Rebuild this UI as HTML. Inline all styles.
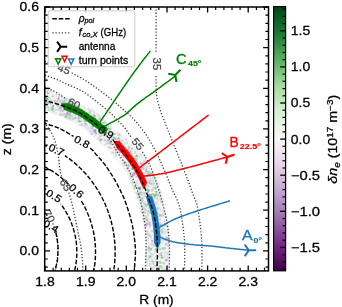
<!DOCTYPE html><html><head><meta charset="utf-8"><style>html,body{margin:0;padding:0;background:#fff;}body{width:342px;height:307px;overflow:hidden;position:relative;font-family:"Liberation Sans",sans-serif;}</style></head><body><svg width="342" height="307" viewBox="0 0 342 307" style="position:absolute;left:0;top:0;font-family:'Liberation Sans',sans-serif">
<defs><clipPath id="ax"><rect x="44.7" y="7.0" width="223.8" height="263.9"/></clipPath>
<linearGradient id="cb" x1="0" y1="1" x2="0" y2="0">
<stop offset="0.00" stop-color="#40004b"/>
<stop offset="0.10" stop-color="#762a83"/>
<stop offset="0.20" stop-color="#9970ab"/>
<stop offset="0.30" stop-color="#c2a5cf"/>
<stop offset="0.40" stop-color="#e7d4e8"/>
<stop offset="0.50" stop-color="#f7f7f7"/>
<stop offset="0.60" stop-color="#d9f0d3"/>
<stop offset="0.70" stop-color="#a6dba0"/>
<stop offset="0.80" stop-color="#5aae61"/>
<stop offset="0.90" stop-color="#1b7837"/>
<stop offset="1.00" stop-color="#00441b"/>
</linearGradient><filter id="bl" x="-5%" y="-5%" width="110%" height="110%"><feGaussianBlur stdDeviation="0.45"/></filter></defs>
<style>text{stroke-width:0.28px;stroke:#000;stroke-linejoin:round}</style>
<rect width="342" height="307" fill="#fff"/>
<g clip-path="url(#ax)">
<path d="M38.0,84.0 L38.6,84.3 L39.2,84.5 L39.8,84.7 L40.3,84.8 L40.8,85.0 L41.4,85.2 L41.9,85.4 L42.6,85.7 L43.3,86.0 L44.2,86.4 L45.1,86.8 L46.2,87.3 L47.5,87.9 L48.9,88.6 L50.5,89.5 L52.2,90.3 L54.0,91.3 L55.9,92.2 L57.7,93.2 L59.6,94.1 L61.4,95.1 L63.1,95.9 L64.7,96.8 L66.2,97.5 L67.6,98.2 L68.8,98.7 L70.0,99.3 L71.2,99.8 L72.2,100.3 L73.3,100.7 L74.4,101.2 L75.4,101.7 L76.5,102.1 L77.6,102.7 L78.8,103.2 L80.0,103.8 L81.3,104.4 L82.6,105.0 L84.0,105.7 L85.4,106.3 L86.8,106.9 L88.2,107.6 L89.6,108.3 L91.0,109.0 L92.5,109.8 L93.9,110.7 L95.3,111.5 L96.7,112.5 L98.1,113.5 L99.5,114.6 L100.8,115.8 L102.2,117.0 L103.6,118.3 L104.9,119.6 L106.3,120.9 L107.7,122.2 L109.1,123.5 L110.5,124.9 L111.9,126.2 L113.3,127.5 L114.7,128.8 L116.2,130.0 L117.6,131.3 L119.1,132.5 L120.6,133.8 L122.1,135.0 L123.5,136.3 L125.0,137.6 L126.5,139.0 L128.0,140.4 L129.5,141.8 L131.0,143.3 L132.5,144.9 L134.1,146.5 L135.7,148.2 L137.3,149.9 L138.9,151.7 L140.5,153.5 L142.1,155.2 L143.7,157.0 L145.1,158.8 L146.5,160.6 L147.8,162.3 L149.0,164.0 L150.1,165.6 L151.1,167.3 L152.0,168.9 L152.8,170.5 L153.6,172.1 L154.3,173.7 L155.0,175.3 L155.6,176.9 L156.2,178.4 L156.8,180.0 L157.4,181.5 L158.0,183.0 L158.6,184.5 L159.1,185.9 L159.7,187.4 L160.2,188.8 L160.6,190.2 L161.1,191.6 L161.5,192.9 L161.9,194.3 L162.3,195.7 L162.7,197.1 L163.1,198.6 L163.5,200.0 L163.9,201.5 L164.2,202.9 L164.5,204.4 L164.9,205.9 L165.2,207.4 L165.5,208.9 L165.7,210.4 L166.0,212.0 L166.3,213.5 L166.5,215.0 L166.8,216.5 L167.0,218.0 L167.2,219.5 L167.5,221.0 L167.7,222.5 L167.9,224.1 L168.1,225.6 L168.3,227.1 L168.5,228.6 L168.6,230.1 L168.8,231.6 L168.9,233.1 L169.1,234.6 L169.2,236.0 L169.3,237.4 L169.4,238.7 L169.5,240.0 L169.5,241.2 L169.6,242.5 L169.6,243.7 L169.7,244.9 L169.7,246.2 L169.7,247.6 L169.8,249.0 L169.8,250.4 L169.8,252.0 L169.8,253.7 L169.8,255.4 L169.8,257.3 L169.8,259.1 L169.8,261.1 L169.8,263.1 L169.7,265.1 L169.7,267.1 L169.7,269.1 L169.6,271.1 L169.6,273.1 L169.6,275.0 L145.1,275.0 L145.1,273.1 L145.1,271.1 L145.2,269.1 L145.2,267.1 L145.2,265.1 L145.2,263.1 L145.3,261.1 L145.3,259.1 L145.3,257.3 L145.3,255.4 L145.3,253.7 L145.3,252.0 L145.3,250.4 L145.3,249.0 L145.3,247.6 L145.3,246.3 L145.3,245.0 L145.2,243.8 L145.2,242.5 L145.2,241.3 L145.1,240.0 L145.0,238.8 L144.9,237.4 L144.8,236.0 L144.7,234.5 L144.5,233.0 L144.3,231.4 L144.1,229.9 L143.9,228.2 L143.7,226.6 L143.4,225.0 L143.2,223.4 L142.9,221.8 L142.6,220.1 L142.3,218.6 L142.0,217.0 L141.7,215.5 L141.3,213.9 L140.9,212.4 L140.5,210.8 L140.1,209.3 L139.7,207.8 L139.3,206.2 L138.8,204.7 L138.4,203.3 L137.9,201.8 L137.5,200.4 L137.0,199.0 L136.5,197.6 L136.1,196.3 L135.6,195.0 L135.1,193.8 L134.6,192.5 L134.1,191.3 L133.6,190.1 L133.1,188.9 L132.6,187.7 L132.1,186.5 L131.5,185.2 L131.0,184.0 L130.5,182.8 L130.0,181.5 L129.5,180.3 L129.0,179.0 L128.5,177.8 L127.9,176.6 L127.4,175.3 L126.8,174.1 L126.2,172.8 L125.5,171.6 L124.8,170.3 L124.0,169.0 L123.1,167.7 L122.2,166.3 L121.2,165.0 L120.1,163.6 L119.0,162.2 L117.9,160.8 L116.7,159.4 L115.6,158.1 L114.4,156.7 L113.2,155.4 L112.1,154.2 L111.0,153.0 L109.9,151.9 L108.8,150.8 L107.8,149.8 L106.7,148.8 L105.6,147.8 L104.6,146.8 L103.5,145.9 L102.4,145.0 L101.3,144.0 L100.2,143.0 L99.0,142.0 L97.8,141.0 L96.6,139.9 L95.3,138.8 L93.9,137.6 L92.6,136.4 L91.2,135.2 L89.8,133.9 L88.4,132.7 L87.1,131.6 L85.7,130.5 L84.4,129.4 L83.2,128.4 L82.0,127.5 L80.9,126.7 L79.8,125.9 L78.7,125.2 L77.7,124.6 L76.7,124.0 L75.8,123.5 L74.8,122.9 L73.9,122.4 L72.9,122.0 L72.0,121.5 L71.0,121.0 L70.0,120.5 L69.0,120.0 L68.0,119.5 L67.0,119.1 L66.0,118.7 L65.1,118.2 L64.1,117.8 L63.1,117.4 L62.1,117.1 L61.1,116.7 L60.1,116.3 L59.0,115.9 L58.0,115.5 L56.9,115.1 L55.8,114.7 L54.7,114.3 L53.5,113.9 L52.4,113.5 L51.2,113.1 L50.0,112.7 L48.9,112.3 L47.9,112.0 L46.8,111.6 L45.9,111.3 L45.0,111.0 L44.2,110.7 L43.5,110.5 L42.8,110.2 L42.2,110.0 L41.7,109.8 L41.1,109.6 L40.6,109.4 L40.1,109.3 L39.6,109.1 L39.1,108.9 L38.6,108.7 L38.0,108.5Z" fill="#f7f7f7" filter="url(#bl)"/>
<g filter="url(#bl)"><circle cx="162.7" cy="226.7" r="1.05" fill="#b080cc" opacity="0.20"/><circle cx="47.3" cy="99.0" r="1.01" fill="#2aa048" opacity="0.62"/><circle cx="158.8" cy="243.5" r="0.93" fill="#b080cc" opacity="0.21"/><circle cx="130.4" cy="163.6" r="1.48" fill="#6cc878" opacity="0.13"/><circle cx="162.0" cy="257.6" r="1.32" fill="#2aa048" opacity="0.51"/><circle cx="93.3" cy="110.1" r="1.45" fill="#b080cc" opacity="0.04"/><circle cx="154.7" cy="251.6" r="0.87" fill="#6cc878" opacity="0.33"/><circle cx="68.7" cy="116.6" r="1.04" fill="#b080cc" opacity="0.18"/><circle cx="148.9" cy="261.6" r="1.08" fill="#6cc878" opacity="0.11"/><circle cx="162.3" cy="213.3" r="0.92" fill="#6cc878" opacity="0.18"/><circle cx="135.0" cy="162.1" r="1.30" fill="#6cc878" opacity="0.23"/><circle cx="133.2" cy="175.1" r="1.38" fill="#9050b8" opacity="0.50"/><circle cx="129.6" cy="182.1" r="0.74" fill="#6cc878" opacity="0.05"/><circle cx="65.3" cy="105.5" r="1.39" fill="#b080cc" opacity="0.34"/><circle cx="131.1" cy="153.9" r="1.27" fill="#6cc878" opacity="0.27"/><circle cx="58.9" cy="98.1" r="1.24" fill="#b080cc" opacity="0.26"/><circle cx="143.4" cy="187.9" r="1.14" fill="#6cc878" opacity="0.17"/><circle cx="105.7" cy="126.7" r="1.13" fill="#6cc878" opacity="0.32"/><circle cx="155.3" cy="207.1" r="1.29" fill="#6cc878" opacity="0.29"/><circle cx="157.3" cy="218.2" r="0.98" fill="#6cc878" opacity="0.17"/><circle cx="151.7" cy="206.7" r="1.15" fill="#b080cc" opacity="0.25"/><circle cx="94.9" cy="131.4" r="1.35" fill="#b080cc" opacity="0.37"/><circle cx="163.9" cy="263.6" r="1.16" fill="#b080cc" opacity="0.16"/><circle cx="161.7" cy="229.5" r="1.05" fill="#6cc878" opacity="0.40"/><circle cx="153.2" cy="254.4" r="1.02" fill="#b080cc" opacity="0.19"/><circle cx="104.1" cy="137.4" r="0.90" fill="#6cc878" opacity="0.22"/><circle cx="161.5" cy="232.1" r="1.45" fill="#6cc878" opacity="0.23"/><circle cx="64.2" cy="99.2" r="1.50" fill="#6cc878" opacity="0.11"/><circle cx="43.2" cy="98.7" r="0.84" fill="#b080cc" opacity="0.23"/><circle cx="58.4" cy="110.3" r="0.75" fill="#b080cc" opacity="0.15"/><circle cx="49.9" cy="110.1" r="0.91" fill="#b080cc" opacity="0.17"/><circle cx="109.5" cy="143.4" r="1.10" fill="#6cc878" opacity="0.16"/><circle cx="40.9" cy="97.3" r="1.15" fill="#2aa048" opacity="0.56"/><circle cx="143.7" cy="222.4" r="1.25" fill="#6cc878" opacity="0.04"/><circle cx="66.8" cy="112.8" r="1.15" fill="#b080cc" opacity="0.26"/><circle cx="135.2" cy="173.3" r="1.33" fill="#b080cc" opacity="0.36"/><circle cx="154.5" cy="174.6" r="1.21" fill="#6cc878" opacity="0.04"/><circle cx="126.1" cy="151.1" r="1.39" fill="#b080cc" opacity="0.48"/><circle cx="146.2" cy="246.9" r="1.02" fill="#6cc878" opacity="0.05"/><circle cx="163.0" cy="241.6" r="1.09" fill="#b080cc" opacity="0.16"/><circle cx="109.5" cy="143.2" r="1.05" fill="#6cc878" opacity="0.34"/><circle cx="146.5" cy="193.1" r="1.13" fill="#b080cc" opacity="0.34"/><circle cx="91.6" cy="124.9" r="1.20" fill="#6cc878" opacity="0.15"/><circle cx="61.3" cy="115.1" r="1.29" fill="#6cc878" opacity="0.17"/><circle cx="80.4" cy="118.9" r="1.16" fill="#6cc878" opacity="0.17"/><circle cx="116.0" cy="150.4" r="1.44" fill="#b080cc" opacity="0.16"/><circle cx="166.3" cy="254.1" r="0.89" fill="#b080cc" opacity="0.18"/><circle cx="70.1" cy="104.2" r="1.36" fill="#6cc878" opacity="0.46"/><circle cx="132.9" cy="182.7" r="1.43" fill="#6cc878" opacity="0.16"/><circle cx="71.2" cy="111.1" r="1.10" fill="#6cc878" opacity="0.27"/><circle cx="67.9" cy="118.0" r="0.81" fill="#6cc878" opacity="0.21"/><circle cx="166.7" cy="253.4" r="1.01" fill="#b080cc" opacity="0.13"/><circle cx="145.7" cy="220.5" r="1.39" fill="#6cc878" opacity="0.30"/><circle cx="131.6" cy="159.1" r="1.29" fill="#6cc878" opacity="0.17"/><circle cx="78.5" cy="109.1" r="1.25" fill="#b080cc" opacity="0.13"/><circle cx="128.1" cy="173.0" r="0.96" fill="#6cc878" opacity="0.11"/><circle cx="158.5" cy="235.9" r="0.74" fill="#b080cc" opacity="0.27"/><circle cx="114.4" cy="155.7" r="1.06" fill="#6cc878" opacity="0.06"/><circle cx="102.2" cy="134.5" r="1.19" fill="#6cc878" opacity="0.24"/><circle cx="161.0" cy="192.2" r="0.88" fill="#b080cc" opacity="0.08"/><circle cx="106.2" cy="122.9" r="1.28" fill="#b080cc" opacity="0.05"/><circle cx="144.7" cy="191.9" r="0.96" fill="#6cc878" opacity="0.20"/><circle cx="75.7" cy="108.1" r="0.98" fill="#b080cc" opacity="0.24"/><circle cx="52.1" cy="110.0" r="1.31" fill="#b080cc" opacity="0.30"/><circle cx="102.5" cy="129.5" r="1.47" fill="#6cc878" opacity="0.30"/><circle cx="120.6" cy="164.4" r="1.17" fill="#b080cc" opacity="0.06"/><circle cx="152.1" cy="209.5" r="0.84" fill="#6cc878" opacity="0.36"/><circle cx="66.6" cy="116.6" r="0.94" fill="#6cc878" opacity="0.29"/><circle cx="104.7" cy="121.7" r="1.46" fill="#b080cc" opacity="0.20"/><circle cx="52.3" cy="108.2" r="1.33" fill="#6cc878" opacity="0.43"/><circle cx="64.9" cy="108.8" r="0.77" fill="#b080cc" opacity="0.18"/><circle cx="160.1" cy="190.9" r="1.29" fill="#b080cc" opacity="0.07"/><circle cx="108.2" cy="133.2" r="0.82" fill="#b080cc" opacity="0.22"/><circle cx="90.6" cy="113.2" r="1.48" fill="#b080cc" opacity="0.20"/><circle cx="154.5" cy="187.3" r="0.98" fill="#6cc878" opacity="0.37"/><circle cx="155.6" cy="245.8" r="0.75" fill="#6cc878" opacity="0.24"/><circle cx="151.4" cy="174.0" r="1.06" fill="#9050b8" opacity="0.35"/><circle cx="45.3" cy="91.6" r="0.97" fill="#6cc878" opacity="0.25"/><circle cx="148.1" cy="175.1" r="1.11" fill="#6cc878" opacity="0.14"/><circle cx="114.9" cy="138.4" r="1.42" fill="#b080cc" opacity="0.40"/><circle cx="168.3" cy="240.5" r="1.15" fill="#b080cc" opacity="0.12"/><circle cx="167.9" cy="258.8" r="1.33" fill="#b080cc" opacity="0.20"/><circle cx="49.3" cy="93.0" r="1.10" fill="#b080cc" opacity="0.12"/><circle cx="39.3" cy="102.1" r="1.26" fill="#b080cc" opacity="0.23"/><circle cx="143.0" cy="162.1" r="0.74" fill="#6cc878" opacity="0.26"/><circle cx="97.4" cy="127.6" r="1.22" fill="#b080cc" opacity="0.15"/><circle cx="105.1" cy="133.9" r="1.31" fill="#9050b8" opacity="0.59"/><circle cx="55.0" cy="101.0" r="1.12" fill="#b080cc" opacity="0.44"/><circle cx="146.3" cy="163.1" r="0.79" fill="#b080cc" opacity="0.25"/><circle cx="62.5" cy="109.7" r="1.01" fill="#b080cc" opacity="0.19"/><circle cx="86.7" cy="124.1" r="0.74" fill="#6cc878" opacity="0.39"/><circle cx="112.9" cy="133.2" r="0.75" fill="#b080cc" opacity="0.35"/><circle cx="141.8" cy="205.8" r="1.39" fill="#6cc878" opacity="0.14"/><circle cx="113.7" cy="131.9" r="1.12" fill="#b080cc" opacity="0.16"/><circle cx="89.7" cy="127.5" r="0.91" fill="#6cc878" opacity="0.12"/><circle cx="82.2" cy="106.1" r="1.08" fill="#b080cc" opacity="0.06"/><circle cx="142.5" cy="201.9" r="1.11" fill="#6cc878" opacity="0.37"/><circle cx="35.1" cy="105.8" r="1.22" fill="#b080cc" opacity="0.09"/><circle cx="168.8" cy="243.2" r="1.12" fill="#6cc878" opacity="0.04"/><circle cx="41.5" cy="105.2" r="1.38" fill="#b080cc" opacity="0.38"/><circle cx="61.1" cy="107.7" r="0.86" fill="#b080cc" opacity="0.16"/><circle cx="157.7" cy="229.7" r="0.79" fill="#b080cc" opacity="0.47"/><circle cx="116.3" cy="154.3" r="1.08" fill="#b080cc" opacity="0.10"/><circle cx="150.2" cy="224.9" r="1.27" fill="#b080cc" opacity="0.33"/><circle cx="135.6" cy="171.9" r="0.93" fill="#6cc878" opacity="0.17"/><circle cx="142.3" cy="159.5" r="0.97" fill="#6cc878" opacity="0.19"/><circle cx="147.1" cy="210.8" r="1.22" fill="#b080cc" opacity="0.21"/><circle cx="149.9" cy="271.6" r="1.38" fill="#b080cc" opacity="0.24"/><circle cx="143.4" cy="179.0" r="1.08" fill="#6cc878" opacity="0.27"/><circle cx="98.7" cy="119.0" r="1.04" fill="#6cc878" opacity="0.11"/><circle cx="39.2" cy="97.5" r="1.23" fill="#b080cc" opacity="0.19"/><circle cx="117.8" cy="138.9" r="0.87" fill="#b080cc" opacity="0.17"/><circle cx="133.7" cy="168.4" r="0.93" fill="#6cc878" opacity="0.46"/><circle cx="89.5" cy="111.7" r="1.40" fill="#b080cc" opacity="0.24"/><circle cx="107.1" cy="123.6" r="1.11" fill="#b080cc" opacity="0.03"/><circle cx="61.9" cy="98.0" r="0.96" fill="#b080cc" opacity="0.21"/><circle cx="151.7" cy="174.7" r="1.50" fill="#b080cc" opacity="0.18"/><circle cx="47.6" cy="108.5" r="1.05" fill="#6cc878" opacity="0.16"/><circle cx="165.4" cy="259.6" r="1.44" fill="#b080cc" opacity="0.18"/><circle cx="70.7" cy="109.2" r="0.85" fill="#b080cc" opacity="0.30"/><circle cx="116.9" cy="145.3" r="0.77" fill="#6cc878" opacity="0.33"/><circle cx="79.2" cy="113.6" r="1.48" fill="#b080cc" opacity="0.20"/><circle cx="60.8" cy="102.0" r="1.22" fill="#b080cc" opacity="0.30"/><circle cx="146.5" cy="264.1" r="1.00" fill="#6cc878" opacity="0.08"/><circle cx="167.4" cy="258.9" r="1.18" fill="#6cc878" opacity="0.24"/><circle cx="156.8" cy="251.3" r="1.18" fill="#b080cc" opacity="0.17"/><circle cx="156.9" cy="185.6" r="1.03" fill="#6cc878" opacity="0.14"/><circle cx="127.1" cy="161.7" r="0.81" fill="#b080cc" opacity="0.14"/><circle cx="137.2" cy="181.0" r="1.19" fill="#6cc878" opacity="0.20"/><circle cx="152.4" cy="191.0" r="1.21" fill="#6cc878" opacity="0.17"/><circle cx="101.6" cy="136.7" r="0.96" fill="#b080cc" opacity="0.13"/><circle cx="150.2" cy="256.5" r="1.22" fill="#2aa048" opacity="0.52"/><circle cx="145.5" cy="225.9" r="1.01" fill="#6cc878" opacity="0.07"/><circle cx="106.5" cy="133.0" r="1.40" fill="#b080cc" opacity="0.27"/><circle cx="140.0" cy="162.2" r="0.74" fill="#b080cc" opacity="0.23"/><circle cx="163.1" cy="215.4" r="1.20" fill="#6cc878" opacity="0.17"/><circle cx="48.1" cy="89.5" r="1.27" fill="#6cc878" opacity="0.21"/><circle cx="168.6" cy="240.3" r="1.34" fill="#b080cc" opacity="0.02"/><circle cx="145.5" cy="217.6" r="0.90" fill="#6cc878" opacity="0.17"/><circle cx="38.7" cy="99.6" r="1.47" fill="#6cc878" opacity="0.14"/><circle cx="98.3" cy="120.6" r="1.17" fill="#b080cc" opacity="0.25"/><circle cx="109.4" cy="137.0" r="0.76" fill="#b080cc" opacity="0.17"/><circle cx="149.6" cy="174.4" r="1.12" fill="#6cc878" opacity="0.22"/><circle cx="85.3" cy="120.9" r="0.75" fill="#6cc878" opacity="0.38"/><circle cx="92.4" cy="124.4" r="1.35" fill="#6cc878" opacity="0.17"/><circle cx="147.5" cy="204.0" r="0.98" fill="#b080cc" opacity="0.50"/><circle cx="157.9" cy="238.0" r="0.73" fill="#6cc878" opacity="0.18"/><circle cx="116.0" cy="139.0" r="1.18" fill="#6cc878" opacity="0.31"/><circle cx="64.2" cy="104.3" r="1.13" fill="#b080cc" opacity="0.31"/><circle cx="39.8" cy="98.2" r="0.79" fill="#6cc878" opacity="0.14"/><circle cx="61.4" cy="100.4" r="1.08" fill="#6cc878" opacity="0.21"/><circle cx="43.7" cy="109.0" r="1.04" fill="#b080cc" opacity="0.10"/><circle cx="158.1" cy="247.4" r="1.48" fill="#6cc878" opacity="0.43"/><circle cx="87.8" cy="120.8" r="1.01" fill="#9050b8" opacity="0.51"/><circle cx="133.3" cy="187.8" r="1.04" fill="#6cc878" opacity="0.19"/><circle cx="80.9" cy="111.8" r="1.38" fill="#6cc878" opacity="0.21"/><circle cx="41.2" cy="90.3" r="0.79" fill="#6cc878" opacity="0.22"/><circle cx="158.4" cy="236.4" r="1.31" fill="#b080cc" opacity="0.30"/><circle cx="131.4" cy="148.8" r="0.71" fill="#9050b8" opacity="0.51"/><circle cx="104.0" cy="147.0" r="1.07" fill="#b080cc" opacity="0.00"/><circle cx="147.8" cy="235.3" r="1.49" fill="#6cc878" opacity="0.11"/><circle cx="97.7" cy="122.4" r="1.29" fill="#b080cc" opacity="0.24"/><circle cx="108.9" cy="129.4" r="1.38" fill="#6cc878" opacity="0.38"/><circle cx="158.1" cy="243.2" r="1.45" fill="#b080cc" opacity="0.16"/><circle cx="156.2" cy="195.3" r="0.76" fill="#6cc878" opacity="0.16"/><circle cx="168.4" cy="238.4" r="1.29" fill="#b080cc" opacity="0.17"/><circle cx="47.1" cy="110.7" r="1.46" fill="#6cc878" opacity="0.08"/><circle cx="137.2" cy="176.2" r="1.18" fill="#6cc878" opacity="0.24"/><circle cx="151.0" cy="249.6" r="1.00" fill="#b080cc" opacity="0.39"/><circle cx="132.4" cy="147.5" r="0.72" fill="#6cc878" opacity="0.34"/><circle cx="164.3" cy="247.8" r="1.03" fill="#b080cc" opacity="0.27"/><circle cx="86.3" cy="124.4" r="1.48" fill="#6cc878" opacity="0.15"/><circle cx="142.9" cy="213.3" r="1.22" fill="#6cc878" opacity="0.11"/><circle cx="128.3" cy="149.7" r="1.24" fill="#6cc878" opacity="0.31"/><circle cx="116.9" cy="152.1" r="0.83" fill="#b080cc" opacity="0.17"/><circle cx="160.5" cy="201.2" r="1.12" fill="#6cc878" opacity="0.32"/><circle cx="92.9" cy="124.5" r="1.15" fill="#b080cc" opacity="0.16"/><circle cx="166.2" cy="244.0" r="1.19" fill="#b080cc" opacity="0.24"/><circle cx="43.9" cy="98.9" r="1.25" fill="#b080cc" opacity="0.22"/><circle cx="132.5" cy="168.1" r="1.44" fill="#b080cc" opacity="0.16"/><circle cx="157.9" cy="195.1" r="0.95" fill="#6cc878" opacity="0.27"/><circle cx="113.9" cy="153.4" r="1.29" fill="#6cc878" opacity="0.15"/><circle cx="159.8" cy="262.3" r="1.33" fill="#6cc878" opacity="0.31"/><circle cx="146.0" cy="179.8" r="0.86" fill="#b080cc" opacity="0.30"/><circle cx="41.0" cy="90.2" r="1.01" fill="#b080cc" opacity="0.14"/><circle cx="72.7" cy="121.2" r="0.95" fill="#6cc878" opacity="0.08"/><circle cx="74.5" cy="102.0" r="1.28" fill="#b080cc" opacity="0.13"/><circle cx="165.6" cy="212.8" r="1.15" fill="#b080cc" opacity="0.08"/><circle cx="87.8" cy="109.3" r="1.20" fill="#b080cc" opacity="0.15"/><circle cx="80.0" cy="108.3" r="1.13" fill="#6cc878" opacity="0.16"/><circle cx="122.8" cy="153.6" r="1.31" fill="#6cc878" opacity="0.22"/><circle cx="63.6" cy="101.7" r="1.45" fill="#6cc878" opacity="0.18"/><circle cx="50.8" cy="113.7" r="1.18" fill="#6cc878" opacity="0.01"/><circle cx="139.7" cy="179.5" r="1.06" fill="#b080cc" opacity="0.40"/><circle cx="115.1" cy="156.8" r="1.45" fill="#6cc878" opacity="0.07"/><circle cx="150.5" cy="249.7" r="0.99" fill="#b080cc" opacity="0.30"/><circle cx="96.9" cy="124.5" r="1.45" fill="#b080cc" opacity="0.43"/><circle cx="41.4" cy="101.3" r="1.13" fill="#6cc878" opacity="0.13"/><circle cx="83.8" cy="119.3" r="0.77" fill="#6cc878" opacity="0.34"/><circle cx="158.8" cy="256.5" r="1.14" fill="#6cc878" opacity="0.38"/><circle cx="48.0" cy="102.8" r="1.30" fill="#6cc878" opacity="0.34"/><circle cx="100.0" cy="118.8" r="1.18" fill="#b080cc" opacity="0.32"/><circle cx="161.6" cy="239.0" r="1.06" fill="#6cc878" opacity="0.13"/><circle cx="149.2" cy="234.8" r="1.25" fill="#b080cc" opacity="0.30"/><circle cx="43.9" cy="96.9" r="0.90" fill="#6cc878" opacity="0.26"/><circle cx="160.6" cy="257.7" r="0.85" fill="#6cc878" opacity="0.33"/><circle cx="66.3" cy="98.7" r="1.45" fill="#6cc878" opacity="0.09"/><circle cx="85.1" cy="123.9" r="1.11" fill="#b080cc" opacity="0.39"/><circle cx="95.3" cy="115.8" r="0.87" fill="#6cc878" opacity="0.33"/><circle cx="73.0" cy="111.4" r="1.13" fill="#6cc878" opacity="0.42"/><circle cx="36.2" cy="102.4" r="1.12" fill="#6cc878" opacity="0.22"/><circle cx="110.7" cy="153.7" r="1.45" fill="#6cc878" opacity="0.01"/><circle cx="128.9" cy="179.3" r="1.32" fill="#6cc878" opacity="0.06"/><circle cx="143.1" cy="168.5" r="1.44" fill="#b080cc" opacity="0.30"/><circle cx="71.9" cy="110.6" r="0.85" fill="#2aa048" opacity="0.54"/><circle cx="165.9" cy="216.7" r="1.31" fill="#b080cc" opacity="0.06"/><circle cx="149.4" cy="175.1" r="1.46" fill="#b080cc" opacity="0.31"/><circle cx="163.2" cy="215.2" r="1.33" fill="#b080cc" opacity="0.09"/><circle cx="94.0" cy="112.9" r="0.85" fill="#b080cc" opacity="0.16"/><circle cx="137.6" cy="193.5" r="1.39" fill="#6cc878" opacity="0.32"/><circle cx="168.3" cy="257.1" r="0.86" fill="#6cc878" opacity="0.11"/><circle cx="58.7" cy="103.3" r="1.13" fill="#6cc878" opacity="0.28"/><circle cx="151.3" cy="258.1" r="0.97" fill="#6cc878" opacity="0.19"/><circle cx="118.2" cy="132.5" r="1.27" fill="#b080cc" opacity="0.07"/><circle cx="75.5" cy="106.5" r="1.48" fill="#6cc878" opacity="0.32"/><circle cx="36.3" cy="108.4" r="1.38" fill="#b080cc" opacity="0.06"/><circle cx="76.5" cy="118.1" r="1.21" fill="#b080cc" opacity="0.24"/><circle cx="155.7" cy="250.9" r="0.72" fill="#6cc878" opacity="0.13"/><circle cx="69.8" cy="118.2" r="1.22" fill="#b080cc" opacity="0.12"/><circle cx="71.0" cy="107.2" r="0.77" fill="#b080cc" opacity="0.25"/><circle cx="42.4" cy="87.5" r="0.96" fill="#b080cc" opacity="0.23"/><circle cx="124.8" cy="161.9" r="1.21" fill="#b080cc" opacity="0.22"/><circle cx="42.8" cy="100.0" r="0.88" fill="#b080cc" opacity="0.26"/><circle cx="128.9" cy="179.6" r="0.89" fill="#b080cc" opacity="0.02"/><circle cx="119.6" cy="151.5" r="1.40" fill="#6cc878" opacity="0.28"/><circle cx="112.6" cy="152.4" r="1.25" fill="#b080cc" opacity="0.24"/><circle cx="69.4" cy="119.2" r="1.44" fill="#b080cc" opacity="0.12"/><circle cx="82.0" cy="124.9" r="1.43" fill="#b080cc" opacity="0.26"/><circle cx="42.4" cy="88.1" r="1.37" fill="#6cc878" opacity="0.24"/><circle cx="147.0" cy="242.5" r="1.23" fill="#6cc878" opacity="0.05"/><circle cx="37.3" cy="108.3" r="0.91" fill="#b080cc" opacity="0.08"/><circle cx="116.1" cy="137.8" r="1.06" fill="#6cc878" opacity="0.18"/><circle cx="148.8" cy="257.8" r="1.47" fill="#b080cc" opacity="0.08"/><circle cx="157.2" cy="244.8" r="0.76" fill="#b080cc" opacity="0.36"/><circle cx="50.7" cy="90.5" r="1.27" fill="#b080cc" opacity="0.08"/><circle cx="61.4" cy="96.4" r="1.33" fill="#b080cc" opacity="0.08"/><circle cx="143.4" cy="213.4" r="1.31" fill="#b080cc" opacity="0.08"/><circle cx="69.8" cy="99.4" r="1.02" fill="#6cc878" opacity="0.01"/><circle cx="109.2" cy="129.3" r="1.46" fill="#b080cc" opacity="0.18"/><circle cx="47.8" cy="102.9" r="1.35" fill="#6cc878" opacity="0.32"/><circle cx="150.8" cy="183.4" r="1.42" fill="#b080cc" opacity="0.18"/><circle cx="90.7" cy="127.0" r="0.98" fill="#b080cc" opacity="0.16"/><circle cx="131.9" cy="143.3" r="0.90" fill="#6cc878" opacity="0.07"/><circle cx="153.0" cy="174.9" r="1.34" fill="#6cc878" opacity="0.12"/><circle cx="161.5" cy="268.6" r="0.79" fill="#6cc878" opacity="0.18"/><circle cx="91.1" cy="109.4" r="1.35" fill="#9050b8" opacity="0.06"/><circle cx="85.0" cy="119.0" r="1.32" fill="#b080cc" opacity="0.38"/><circle cx="166.8" cy="260.6" r="0.94" fill="#b080cc" opacity="0.18"/><circle cx="147.5" cy="233.9" r="0.83" fill="#b080cc" opacity="0.16"/><circle cx="60.3" cy="104.4" r="0.82" fill="#b080cc" opacity="0.15"/><circle cx="95.7" cy="132.2" r="1.26" fill="#b080cc" opacity="0.28"/><circle cx="43.5" cy="92.4" r="1.35" fill="#b080cc" opacity="0.29"/><circle cx="66.6" cy="103.1" r="1.37" fill="#6cc878" opacity="0.43"/><circle cx="166.8" cy="232.4" r="1.18" fill="#b080cc" opacity="0.17"/><circle cx="133.0" cy="172.5" r="1.33" fill="#6cc878" opacity="0.21"/><circle cx="153.3" cy="263.9" r="1.14" fill="#6cc878" opacity="0.33"/><circle cx="63.8" cy="109.0" r="0.71" fill="#b080cc" opacity="0.36"/><circle cx="99.3" cy="131.9" r="1.35" fill="#b080cc" opacity="0.30"/><circle cx="160.6" cy="238.1" r="1.36" fill="#b080cc" opacity="0.13"/><circle cx="141.4" cy="199.4" r="0.93" fill="#b080cc" opacity="0.39"/><circle cx="128.4" cy="149.8" r="0.96" fill="#b080cc" opacity="0.22"/><circle cx="63.2" cy="114.6" r="0.78" fill="#6cc878" opacity="0.32"/><circle cx="165.7" cy="248.0" r="1.18" fill="#b080cc" opacity="0.11"/><circle cx="104.5" cy="144.2" r="1.30" fill="#6cc878" opacity="0.08"/><circle cx="66.9" cy="110.0" r="0.71" fill="#6cc878" opacity="0.35"/><circle cx="147.4" cy="220.7" r="0.82" fill="#9050b8" opacity="0.51"/><circle cx="141.7" cy="212.5" r="1.42" fill="#b080cc" opacity="0.13"/><circle cx="132.6" cy="145.0" r="1.30" fill="#6cc878" opacity="0.07"/><circle cx="155.8" cy="268.7" r="1.38" fill="#6cc878" opacity="0.15"/><circle cx="91.8" cy="123.1" r="0.99" fill="#6cc878" opacity="0.17"/><circle cx="158.6" cy="205.7" r="0.84" fill="#6cc878" opacity="0.15"/><circle cx="72.4" cy="101.1" r="0.75" fill="#6cc878" opacity="0.19"/><circle cx="92.6" cy="130.9" r="1.47" fill="#6cc878" opacity="0.17"/><circle cx="84.8" cy="113.3" r="1.37" fill="#2aa048" opacity="0.51"/><circle cx="149.1" cy="246.6" r="1.07" fill="#6cc878" opacity="0.17"/><circle cx="137.2" cy="159.0" r="1.10" fill="#b080cc" opacity="0.37"/><circle cx="95.1" cy="135.7" r="0.94" fill="#b080cc" opacity="0.18"/><circle cx="98.6" cy="134.4" r="0.72" fill="#b080cc" opacity="0.21"/><circle cx="159.6" cy="266.3" r="1.10" fill="#b080cc" opacity="0.28"/><circle cx="143.4" cy="227.1" r="0.93" fill="#b080cc" opacity="0.02"/><circle cx="115.8" cy="152.5" r="1.06" fill="#b080cc" opacity="0.18"/><circle cx="135.5" cy="168.1" r="0.77" fill="#6cc878" opacity="0.18"/><circle cx="71.4" cy="109.2" r="1.45" fill="#6cc878" opacity="0.17"/><circle cx="139.0" cy="195.7" r="0.88" fill="#6cc878" opacity="0.36"/><circle cx="131.9" cy="185.0" r="1.40" fill="#6cc878" opacity="0.06"/><circle cx="158.5" cy="194.4" r="0.86" fill="#b080cc" opacity="0.21"/><circle cx="169.3" cy="251.9" r="0.85" fill="#6cc878" opacity="0.07"/><circle cx="156.4" cy="266.0" r="1.18" fill="#6cc878" opacity="0.28"/><circle cx="47.4" cy="93.8" r="0.78" fill="#6cc878" opacity="0.40"/><circle cx="41.1" cy="92.8" r="0.82" fill="#6cc878" opacity="0.50"/><circle cx="148.4" cy="240.3" r="1.14" fill="#b080cc" opacity="0.18"/><circle cx="94.7" cy="111.7" r="1.05" fill="#6cc878" opacity="0.04"/><circle cx="162.5" cy="248.5" r="0.81" fill="#6cc878" opacity="0.41"/><circle cx="167.4" cy="233.4" r="0.77" fill="#b080cc" opacity="0.02"/><circle cx="108.2" cy="125.7" r="0.85" fill="#6cc878" opacity="0.12"/><circle cx="145.5" cy="234.2" r="1.21" fill="#2aa048" opacity="0.11"/><circle cx="118.8" cy="138.1" r="0.78" fill="#b080cc" opacity="0.49"/><circle cx="65.5" cy="115.5" r="0.74" fill="#6cc878" opacity="0.19"/><circle cx="135.0" cy="173.9" r="0.80" fill="#6cc878" opacity="0.43"/><circle cx="139.6" cy="210.1" r="1.31" fill="#6cc878" opacity="0.02"/><circle cx="40.4" cy="98.6" r="0.99" fill="#6cc878" opacity="0.31"/><circle cx="95.2" cy="133.0" r="1.32" fill="#b080cc" opacity="0.27"/><circle cx="63.0" cy="110.9" r="1.31" fill="#b080cc" opacity="0.40"/><circle cx="130.7" cy="184.3" r="0.83" fill="#b080cc" opacity="0.03"/><circle cx="42.7" cy="93.0" r="1.16" fill="#b080cc" opacity="0.17"/><circle cx="141.0" cy="163.1" r="1.15" fill="#b080cc" opacity="0.21"/><circle cx="146.6" cy="235.4" r="1.20" fill="#b080cc" opacity="0.07"/><circle cx="115.8" cy="143.8" r="1.20" fill="#6cc878" opacity="0.15"/><circle cx="109.7" cy="127.6" r="1.50" fill="#b080cc" opacity="0.12"/><circle cx="160.0" cy="262.5" r="1.36" fill="#6cc878" opacity="0.23"/><circle cx="161.0" cy="195.5" r="0.74" fill="#b080cc" opacity="0.19"/><circle cx="75.6" cy="103.1" r="1.49" fill="#b080cc" opacity="0.11"/><circle cx="60.1" cy="115.4" r="1.01" fill="#6cc878" opacity="0.15"/><circle cx="152.1" cy="184.3" r="1.49" fill="#b080cc" opacity="0.26"/><circle cx="128.1" cy="168.7" r="1.35" fill="#b080cc" opacity="0.19"/><circle cx="164.4" cy="205.1" r="1.06" fill="#b080cc" opacity="0.05"/><circle cx="156.4" cy="186.9" r="1.29" fill="#b080cc" opacity="0.28"/><circle cx="66.7" cy="108.8" r="1.20" fill="#b080cc" opacity="0.43"/><circle cx="141.5" cy="179.4" r="1.28" fill="#b080cc" opacity="0.47"/><circle cx="167.6" cy="253.8" r="1.23" fill="#b080cc" opacity="0.26"/><circle cx="44.3" cy="90.3" r="1.36" fill="#6cc878" opacity="0.15"/><circle cx="107.6" cy="142.7" r="1.11" fill="#b080cc" opacity="0.16"/><circle cx="36.9" cy="107.5" r="0.86" fill="#2aa048" opacity="0.28"/><circle cx="38.5" cy="103.3" r="1.21" fill="#6cc878" opacity="0.15"/><circle cx="147.7" cy="224.0" r="1.42" fill="#b080cc" opacity="0.28"/><circle cx="162.8" cy="247.5" r="0.89" fill="#b080cc" opacity="0.20"/><circle cx="145.3" cy="218.5" r="1.40" fill="#b080cc" opacity="0.12"/><circle cx="152.4" cy="242.9" r="1.08" fill="#b080cc" opacity="0.15"/><circle cx="42.4" cy="86.3" r="1.21" fill="#b080cc" opacity="0.07"/><circle cx="47.4" cy="88.4" r="1.35" fill="#b080cc" opacity="0.09"/><circle cx="102.7" cy="131.9" r="0.86" fill="#6cc878" opacity="0.34"/><circle cx="126.1" cy="164.4" r="1.33" fill="#6cc878" opacity="0.27"/><circle cx="132.2" cy="159.7" r="0.91" fill="#6cc878" opacity="0.38"/><circle cx="147.8" cy="195.5" r="0.80" fill="#6cc878" opacity="0.37"/><circle cx="111.6" cy="153.2" r="1.21" fill="#6cc878" opacity="0.07"/><circle cx="145.1" cy="246.0" r="0.76" fill="#6cc878" opacity="0.03"/><circle cx="149.7" cy="168.5" r="0.98" fill="#6cc878" opacity="0.13"/><circle cx="142.7" cy="156.8" r="0.95" fill="#b080cc" opacity="0.07"/><circle cx="89.2" cy="118.7" r="0.82" fill="#b080cc" opacity="0.14"/><circle cx="150.6" cy="195.4" r="1.32" fill="#2aa048" opacity="0.53"/><circle cx="145.9" cy="215.7" r="0.79" fill="#b080cc" opacity="0.37"/><circle cx="168.2" cy="231.5" r="1.15" fill="#6cc878" opacity="0.14"/><circle cx="64.9" cy="109.2" r="0.99" fill="#b080cc" opacity="0.34"/><circle cx="80.6" cy="112.7" r="0.71" fill="#6cc878" opacity="0.30"/><circle cx="148.3" cy="204.0" r="1.44" fill="#b080cc" opacity="0.46"/><circle cx="83.5" cy="120.1" r="0.76" fill="#6cc878" opacity="0.31"/><circle cx="65.6" cy="116.8" r="1.11" fill="#6cc878" opacity="0.21"/><circle cx="61.2" cy="95.0" r="1.06" fill="#6cc878" opacity="0.09"/><circle cx="93.6" cy="110.6" r="0.84" fill="#b080cc" opacity="0.04"/><circle cx="141.7" cy="173.3" r="1.44" fill="#2aa048" opacity="0.62"/><circle cx="90.3" cy="124.3" r="1.09" fill="#6cc878" opacity="0.16"/><circle cx="134.0" cy="189.9" r="0.84" fill="#6cc878" opacity="0.09"/><circle cx="142.2" cy="179.1" r="0.76" fill="#6cc878" opacity="0.31"/><circle cx="81.8" cy="124.7" r="1.15" fill="#b080cc" opacity="0.09"/><circle cx="148.5" cy="211.2" r="1.07" fill="#b080cc" opacity="0.40"/><circle cx="116.2" cy="152.5" r="1.00" fill="#b080cc" opacity="0.28"/><circle cx="94.3" cy="111.5" r="1.44" fill="#6cc878" opacity="0.13"/><circle cx="108.9" cy="147.3" r="1.48" fill="#6cc878" opacity="0.36"/><circle cx="156.3" cy="185.9" r="0.76" fill="#b080cc" opacity="0.10"/><circle cx="96.1" cy="118.6" r="0.71" fill="#b080cc" opacity="0.19"/><circle cx="134.5" cy="185.8" r="0.88" fill="#6cc878" opacity="0.10"/><circle cx="162.6" cy="249.3" r="0.75" fill="#b080cc" opacity="0.27"/><circle cx="93.6" cy="122.2" r="0.90" fill="#2aa048" opacity="0.53"/><circle cx="55.8" cy="109.9" r="1.19" fill="#6cc878" opacity="0.27"/><circle cx="48.3" cy="108.5" r="0.73" fill="#6cc878" opacity="0.15"/><circle cx="142.9" cy="207.9" r="1.47" fill="#6cc878" opacity="0.31"/><circle cx="86.0" cy="127.7" r="1.00" fill="#6cc878" opacity="0.19"/><circle cx="41.3" cy="98.3" r="0.96" fill="#6cc878" opacity="0.14"/><circle cx="66.0" cy="98.7" r="0.77" fill="#b080cc" opacity="0.05"/><circle cx="136.5" cy="160.0" r="1.04" fill="#b080cc" opacity="0.25"/><circle cx="144.8" cy="156.2" r="0.92" fill="#9050b8" opacity="0.16"/><circle cx="108.2" cy="134.9" r="0.84" fill="#6cc878" opacity="0.26"/><circle cx="142.8" cy="211.1" r="1.04" fill="#6cc878" opacity="0.18"/><circle cx="70.1" cy="114.0" r="0.76" fill="#6cc878" opacity="0.23"/><circle cx="151.9" cy="230.9" r="1.30" fill="#b080cc" opacity="0.26"/><circle cx="138.3" cy="194.3" r="1.29" fill="#b080cc" opacity="0.36"/><circle cx="95.8" cy="139.3" r="1.32" fill="#b080cc" opacity="0.01"/><circle cx="99.4" cy="132.4" r="1.48" fill="#6cc878" opacity="0.29"/><circle cx="157.1" cy="212.7" r="0.72" fill="#6cc878" opacity="0.22"/><circle cx="128.9" cy="165.9" r="0.76" fill="#6cc878" opacity="0.29"/><circle cx="100.5" cy="142.9" r="0.82" fill="#b080cc" opacity="0.06"/><circle cx="47.0" cy="87.6" r="1.06" fill="#b080cc" opacity="0.04"/><circle cx="43.5" cy="87.2" r="1.04" fill="#6cc878" opacity="0.09"/><circle cx="100.4" cy="132.1" r="1.47" fill="#b080cc" opacity="0.24"/><circle cx="49.4" cy="103.5" r="1.32" fill="#b080cc" opacity="0.27"/><circle cx="128.7" cy="146.8" r="1.34" fill="#6cc878" opacity="0.29"/><circle cx="169.5" cy="246.8" r="1.35" fill="#b080cc" opacity="0.01"/><circle cx="160.2" cy="266.4" r="1.48" fill="#6cc878" opacity="0.41"/><circle cx="141.1" cy="210.9" r="0.97" fill="#b080cc" opacity="0.10"/><circle cx="134.5" cy="172.9" r="1.24" fill="#b080cc" opacity="0.30"/><circle cx="53.6" cy="111.2" r="0.91" fill="#6cc878" opacity="0.22"/><circle cx="146.6" cy="269.9" r="1.31" fill="#6cc878" opacity="0.11"/><circle cx="124.8" cy="170.8" r="0.72" fill="#6cc878" opacity="0.01"/><circle cx="165.5" cy="263.2" r="1.23" fill="#6cc878" opacity="0.16"/><circle cx="84.3" cy="119.3" r="1.19" fill="#b080cc" opacity="0.22"/><circle cx="71.3" cy="102.7" r="1.44" fill="#9050b8" opacity="0.32"/><circle cx="111.1" cy="134.3" r="1.13" fill="#b080cc" opacity="0.14"/><circle cx="48.0" cy="107.1" r="0.99" fill="#6cc878" opacity="0.38"/><circle cx="46.3" cy="103.0" r="0.82" fill="#b080cc" opacity="0.32"/><circle cx="100.0" cy="117.1" r="1.45" fill="#6cc878" opacity="0.19"/><circle cx="143.9" cy="166.6" r="1.13" fill="#6cc878" opacity="0.40"/><circle cx="74.1" cy="103.9" r="1.35" fill="#6cc878" opacity="0.12"/><circle cx="90.1" cy="131.7" r="0.92" fill="#b080cc" opacity="0.08"/><circle cx="61.7" cy="96.4" r="0.88" fill="#b080cc" opacity="0.07"/><circle cx="105.7" cy="140.4" r="1.46" fill="#6cc878" opacity="0.20"/><circle cx="158.0" cy="208.5" r="1.05" fill="#6cc878" opacity="0.40"/><circle cx="143.3" cy="185.8" r="1.35" fill="#6cc878" opacity="0.18"/><circle cx="39.2" cy="102.1" r="1.07" fill="#b080cc" opacity="0.22"/><circle cx="152.0" cy="240.9" r="0.93" fill="#9050b8" opacity="0.50"/><circle cx="117.1" cy="131.5" r="0.84" fill="#b080cc" opacity="0.05"/><circle cx="148.9" cy="258.7" r="1.35" fill="#6cc878" opacity="0.11"/><circle cx="60.0" cy="108.4" r="0.96" fill="#b080cc" opacity="0.35"/><circle cx="76.1" cy="122.6" r="1.38" fill="#b080cc" opacity="0.08"/><circle cx="80.6" cy="123.8" r="1.13" fill="#6cc878" opacity="0.13"/><circle cx="154.9" cy="188.2" r="1.42" fill="#6cc878" opacity="0.21"/><circle cx="69.9" cy="114.2" r="0.75" fill="#b080cc" opacity="0.41"/><circle cx="164.8" cy="239.8" r="1.47" fill="#b080cc" opacity="0.27"/><circle cx="61.4" cy="109.8" r="1.00" fill="#6cc878" opacity="0.24"/><circle cx="164.2" cy="254.5" r="1.46" fill="#6cc878" opacity="0.16"/><circle cx="144.7" cy="196.7" r="1.14" fill="#6cc878" opacity="0.23"/><circle cx="156.8" cy="179.2" r="1.29" fill="#6cc878" opacity="0.01"/><circle cx="101.2" cy="138.8" r="0.86" fill="#b080cc" opacity="0.30"/><circle cx="146.8" cy="171.0" r="0.84" fill="#6cc878" opacity="0.25"/><circle cx="85.7" cy="110.2" r="0.73" fill="#6cc878" opacity="0.32"/><circle cx="92.2" cy="122.2" r="1.11" fill="#6cc878" opacity="0.48"/><circle cx="47.2" cy="101.9" r="1.24" fill="#b080cc" opacity="0.14"/><circle cx="159.7" cy="219.2" r="1.30" fill="#b080cc" opacity="0.31"/><circle cx="52.5" cy="107.8" r="1.25" fill="#b080cc" opacity="0.31"/><circle cx="148.8" cy="255.4" r="1.02" fill="#6cc878" opacity="0.16"/><circle cx="147.1" cy="247.4" r="0.96" fill="#6cc878" opacity="0.10"/><circle cx="46.8" cy="103.9" r="0.87" fill="#b080cc" opacity="0.41"/><circle cx="38.3" cy="102.9" r="0.92" fill="#2aa048" opacity="0.57"/><circle cx="156.8" cy="191.6" r="1.04" fill="#b080cc" opacity="0.19"/><circle cx="140.4" cy="186.1" r="0.70" fill="#b080cc" opacity="0.15"/><circle cx="114.0" cy="149.6" r="0.95" fill="#b080cc" opacity="0.19"/><circle cx="81.8" cy="115.4" r="1.27" fill="#9050b8" opacity="0.54"/><circle cx="45.0" cy="99.0" r="1.27" fill="#6cc878" opacity="0.33"/><circle cx="39.7" cy="101.5" r="1.44" fill="#6cc878" opacity="0.34"/><circle cx="149.5" cy="175.9" r="1.44" fill="#b080cc" opacity="0.18"/><circle cx="105.8" cy="123.5" r="1.41" fill="#6cc878" opacity="0.08"/><circle cx="145.6" cy="172.4" r="0.96" fill="#6cc878" opacity="0.19"/><circle cx="146.5" cy="261.8" r="0.77" fill="#2aa048" opacity="0.26"/><circle cx="108.7" cy="140.3" r="1.33" fill="#6cc878" opacity="0.29"/><circle cx="57.3" cy="109.8" r="0.92" fill="#6cc878" opacity="0.23"/><circle cx="37.1" cy="101.6" r="1.38" fill="#b080cc" opacity="0.30"/><circle cx="46.0" cy="106.0" r="0.81" fill="#6cc878" opacity="0.37"/><circle cx="47.5" cy="99.8" r="0.88" fill="#6cc878" opacity="0.34"/><circle cx="98.7" cy="138.4" r="1.34" fill="#b080cc" opacity="0.13"/><circle cx="62.6" cy="103.8" r="1.43" fill="#b080cc" opacity="0.37"/><circle cx="68.8" cy="107.1" r="1.26" fill="#6cc878" opacity="0.33"/><circle cx="152.9" cy="189.9" r="1.02" fill="#b080cc" opacity="0.16"/><circle cx="159.7" cy="246.3" r="1.09" fill="#6cc878" opacity="0.19"/><circle cx="162.2" cy="202.1" r="0.82" fill="#b080cc" opacity="0.06"/><circle cx="143.1" cy="218.4" r="0.73" fill="#6cc878" opacity="0.17"/><circle cx="119.6" cy="148.5" r="0.72" fill="#b080cc" opacity="0.16"/><circle cx="39.1" cy="109.1" r="1.29" fill="#b080cc" opacity="0.02"/><circle cx="160.7" cy="235.6" r="0.77" fill="#6cc878" opacity="0.29"/><circle cx="148.4" cy="233.8" r="1.16" fill="#b080cc" opacity="0.10"/><circle cx="145.0" cy="184.7" r="1.45" fill="#b080cc" opacity="0.38"/><circle cx="133.9" cy="180.4" r="0.87" fill="#b080cc" opacity="0.13"/><circle cx="64.8" cy="117.5" r="1.10" fill="#b080cc" opacity="0.05"/><circle cx="135.8" cy="176.8" r="1.01" fill="#b080cc" opacity="0.23"/><circle cx="101.6" cy="130.4" r="1.17" fill="#b080cc" opacity="0.45"/><circle cx="140.9" cy="192.4" r="1.26" fill="#6cc878" opacity="0.29"/><circle cx="129.7" cy="172.8" r="0.79" fill="#6cc878" opacity="0.16"/><circle cx="104.2" cy="126.5" r="1.30" fill="#b080cc" opacity="0.41"/><circle cx="61.6" cy="95.5" r="1.07" fill="#6cc878" opacity="0.12"/><circle cx="148.1" cy="186.1" r="0.91" fill="#6cc878" opacity="0.17"/><circle cx="167.7" cy="235.5" r="1.27" fill="#b080cc" opacity="0.06"/><circle cx="139.6" cy="167.6" r="0.72" fill="#b080cc" opacity="0.35"/><circle cx="141.3" cy="176.4" r="0.73" fill="#b080cc" opacity="0.17"/><circle cx="154.9" cy="237.9" r="1.45" fill="#6cc878" opacity="0.17"/><circle cx="165.3" cy="270.1" r="0.80" fill="#6cc878" opacity="0.26"/><circle cx="147.1" cy="206.3" r="1.00" fill="#6cc878" opacity="0.30"/><circle cx="156.8" cy="203.0" r="1.37" fill="#b080cc" opacity="0.28"/><circle cx="140.1" cy="192.8" r="0.96" fill="#6cc878" opacity="0.22"/><circle cx="60.2" cy="111.0" r="1.22" fill="#b080cc" opacity="0.19"/><circle cx="145.2" cy="209.3" r="0.89" fill="#b080cc" opacity="0.26"/><circle cx="167.9" cy="266.3" r="1.01" fill="#b080cc" opacity="0.08"/><circle cx="160.2" cy="215.0" r="1.23" fill="#b080cc" opacity="0.37"/><circle cx="139.3" cy="197.9" r="0.74" fill="#b080cc" opacity="0.21"/><circle cx="145.8" cy="262.1" r="0.88" fill="#b080cc" opacity="0.03"/><circle cx="67.1" cy="100.6" r="0.94" fill="#6cc878" opacity="0.13"/><circle cx="110.1" cy="140.9" r="0.98" fill="#6cc878" opacity="0.25"/><circle cx="70.4" cy="107.3" r="0.75" fill="#b080cc" opacity="0.50"/><circle cx="123.9" cy="147.8" r="0.73" fill="#6cc878" opacity="0.18"/><circle cx="73.4" cy="102.3" r="0.83" fill="#b080cc" opacity="0.06"/><circle cx="132.6" cy="149.1" r="1.37" fill="#6cc878" opacity="0.14"/><circle cx="106.3" cy="133.9" r="1.38" fill="#6cc878" opacity="0.21"/><circle cx="143.3" cy="220.3" r="1.22" fill="#6cc878" opacity="0.07"/><circle cx="163.3" cy="210.2" r="0.90" fill="#6cc878" opacity="0.11"/><circle cx="163.0" cy="228.6" r="1.43" fill="#6cc878" opacity="0.15"/><circle cx="87.7" cy="116.6" r="1.25" fill="#6cc878" opacity="0.37"/><circle cx="101.8" cy="135.6" r="1.26" fill="#b080cc" opacity="0.13"/><circle cx="36.1" cy="101.7" r="1.29" fill="#6cc878" opacity="0.29"/><circle cx="168.6" cy="232.8" r="0.99" fill="#6cc878" opacity="0.02"/><circle cx="146.6" cy="224.4" r="1.49" fill="#b080cc" opacity="0.23"/><circle cx="99.2" cy="131.2" r="1.28" fill="#b080cc" opacity="0.31"/><circle cx="75.2" cy="117.4" r="1.07" fill="#b080cc" opacity="0.19"/><circle cx="164.6" cy="248.2" r="0.71" fill="#6cc878" opacity="0.32"/><circle cx="79.0" cy="119.5" r="0.88" fill="#b080cc" opacity="0.20"/><circle cx="79.0" cy="118.6" r="1.02" fill="#b080cc" opacity="0.35"/><circle cx="36.5" cy="107.7" r="0.75" fill="#2aa048" opacity="0.08"/><circle cx="154.4" cy="241.1" r="0.73" fill="#9050b8" opacity="0.56"/><circle cx="146.0" cy="206.2" r="1.34" fill="#b080cc" opacity="0.23"/><circle cx="130.7" cy="176.2" r="1.35" fill="#b080cc" opacity="0.26"/><circle cx="40.3" cy="108.3" r="1.42" fill="#6cc878" opacity="0.09"/><circle cx="103.7" cy="127.3" r="1.46" fill="#6cc878" opacity="0.33"/><circle cx="124.6" cy="162.5" r="1.43" fill="#6cc878" opacity="0.29"/><circle cx="40.7" cy="89.2" r="0.87" fill="#b080cc" opacity="0.41"/><circle cx="62.6" cy="114.6" r="1.25" fill="#b080cc" opacity="0.14"/><circle cx="160.9" cy="267.0" r="0.73" fill="#6cc878" opacity="0.22"/><circle cx="53.7" cy="108.8" r="1.19" fill="#6cc878" opacity="0.30"/><circle cx="111.6" cy="144.7" r="1.04" fill="#6cc878" opacity="0.43"/><circle cx="157.8" cy="204.0" r="1.06" fill="#6cc878" opacity="0.24"/><circle cx="114.3" cy="137.9" r="1.41" fill="#6cc878" opacity="0.46"/><circle cx="163.3" cy="263.1" r="1.01" fill="#b080cc" opacity="0.17"/><circle cx="155.1" cy="188.1" r="0.77" fill="#6cc878" opacity="0.21"/><circle cx="166.3" cy="260.2" r="1.30" fill="#9050b8" opacity="0.35"/><circle cx="111.4" cy="140.5" r="1.36" fill="#b080cc" opacity="0.20"/><circle cx="82.6" cy="106.2" r="1.34" fill="#6cc878" opacity="0.06"/><circle cx="115.3" cy="134.0" r="0.89" fill="#b080cc" opacity="0.44"/><circle cx="136.1" cy="188.2" r="0.86" fill="#6cc878" opacity="0.25"/><circle cx="53.2" cy="112.3" r="1.10" fill="#6cc878" opacity="0.16"/><circle cx="130.3" cy="179.4" r="1.41" fill="#6cc878" opacity="0.07"/><circle cx="110.3" cy="141.9" r="0.75" fill="#6cc878" opacity="0.43"/><circle cx="160.5" cy="225.5" r="1.13" fill="#b080cc" opacity="0.46"/><circle cx="101.2" cy="143.2" r="1.27" fill="#6cc878" opacity="0.07"/><circle cx="81.4" cy="109.8" r="0.79" fill="#6cc878" opacity="0.21"/><circle cx="87.6" cy="119.5" r="1.24" fill="#6cc878" opacity="0.30"/><circle cx="152.4" cy="208.8" r="1.10" fill="#6cc878" opacity="0.31"/><circle cx="159.2" cy="245.7" r="1.40" fill="#b080cc" opacity="0.17"/><circle cx="154.0" cy="254.1" r="0.77" fill="#6cc878" opacity="0.20"/><circle cx="131.8" cy="181.3" r="1.35" fill="#6cc878" opacity="0.08"/><circle cx="61.8" cy="115.2" r="1.19" fill="#b080cc" opacity="0.06"/><circle cx="149.3" cy="223.7" r="0.75" fill="#6cc878" opacity="0.34"/><circle cx="121.3" cy="156.0" r="1.16" fill="#b080cc" opacity="0.26"/><circle cx="165.8" cy="231.5" r="0.85" fill="#6cc878" opacity="0.13"/><circle cx="147.8" cy="175.9" r="1.18" fill="#b080cc" opacity="0.41"/><circle cx="153.9" cy="198.1" r="0.92" fill="#b080cc" opacity="0.14"/><circle cx="146.5" cy="160.2" r="0.77" fill="#b080cc" opacity="0.14"/><circle cx="144.8" cy="160.7" r="1.11" fill="#6cc878" opacity="0.14"/><circle cx="156.6" cy="265.3" r="1.32" fill="#b080cc" opacity="0.29"/><circle cx="148.4" cy="233.4" r="0.98" fill="#b080cc" opacity="0.12"/><circle cx="156.0" cy="249.9" r="1.24" fill="#b080cc" opacity="0.25"/><circle cx="77.9" cy="108.3" r="0.73" fill="#b080cc" opacity="0.25"/><circle cx="145.0" cy="204.6" r="1.35" fill="#6cc878" opacity="0.25"/><circle cx="39.3" cy="110.2" r="1.08" fill="#b080cc" opacity="0.01"/><circle cx="136.2" cy="199.6" r="1.49" fill="#6cc878" opacity="0.00"/><circle cx="106.4" cy="132.7" r="1.33" fill="#b080cc" opacity="0.25"/><circle cx="46.0" cy="87.4" r="1.33" fill="#b080cc" opacity="0.10"/><circle cx="164.5" cy="206.7" r="1.01" fill="#6cc878" opacity="0.03"/><circle cx="134.9" cy="157.8" r="1.19" fill="#6cc878" opacity="0.33"/><circle cx="141.8" cy="154.7" r="1.36" fill="#6cc878" opacity="0.10"/><circle cx="57.0" cy="104.7" r="1.48" fill="#6cc878" opacity="0.27"/><circle cx="144.5" cy="210.8" r="1.45" fill="#b080cc" opacity="0.12"/><circle cx="72.8" cy="109.2" r="0.73" fill="#6cc878" opacity="0.45"/><circle cx="141.5" cy="198.3" r="1.42" fill="#b080cc" opacity="0.43"/><circle cx="98.0" cy="114.4" r="1.02" fill="#2aa048" opacity="0.15"/><circle cx="110.9" cy="137.0" r="1.49" fill="#6cc878" opacity="0.37"/><circle cx="157.8" cy="244.5" r="1.14" fill="#9050b8" opacity="0.62"/><circle cx="74.5" cy="114.3" r="1.08" fill="#6cc878" opacity="0.31"/><circle cx="84.0" cy="106.0" r="1.12" fill="#b080cc" opacity="0.07"/><circle cx="151.6" cy="249.1" r="1.09" fill="#b080cc" opacity="0.16"/><circle cx="155.7" cy="229.8" r="1.00" fill="#6cc878" opacity="0.28"/><circle cx="161.5" cy="268.6" r="0.93" fill="#6cc878" opacity="0.16"/><circle cx="127.1" cy="156.0" r="1.41" fill="#6cc878" opacity="0.23"/><circle cx="145.9" cy="270.1" r="0.85" fill="#6cc878" opacity="0.03"/><circle cx="97.9" cy="115.6" r="1.28" fill="#6cc878" opacity="0.09"/><circle cx="154.3" cy="188.8" r="1.01" fill="#6cc878" opacity="0.24"/><circle cx="134.1" cy="167.5" r="1.37" fill="#6cc878" opacity="0.25"/><circle cx="45.6" cy="97.9" r="0.77" fill="#6cc878" opacity="0.40"/><circle cx="142.3" cy="157.3" r="1.22" fill="#b080cc" opacity="0.10"/><circle cx="70.3" cy="104.9" r="1.35" fill="#6cc878" opacity="0.13"/><circle cx="151.2" cy="238.2" r="1.21" fill="#b080cc" opacity="0.20"/><circle cx="79.7" cy="107.6" r="1.06" fill="#b080cc" opacity="0.20"/><circle cx="100.2" cy="131.0" r="0.96" fill="#b080cc" opacity="0.32"/><circle cx="107.7" cy="127.6" r="0.96" fill="#b080cc" opacity="0.16"/><circle cx="153.2" cy="200.7" r="1.45" fill="#b080cc" opacity="0.32"/><circle cx="144.7" cy="230.1" r="1.36" fill="#b080cc" opacity="0.03"/><circle cx="151.9" cy="245.1" r="1.11" fill="#b080cc" opacity="0.28"/><circle cx="43.1" cy="92.9" r="0.81" fill="#b080cc" opacity="0.18"/><circle cx="146.4" cy="205.0" r="1.08" fill="#6cc878" opacity="0.46"/><circle cx="147.7" cy="250.6" r="1.08" fill="#6cc878" opacity="0.11"/><circle cx="124.2" cy="139.5" r="1.08" fill="#b080cc" opacity="0.14"/><circle cx="105.2" cy="147.2" r="1.26" fill="#b080cc" opacity="0.02"/><circle cx="144.8" cy="237.4" r="1.17" fill="#6cc878" opacity="0.05"/><circle cx="146.8" cy="219.0" r="1.35" fill="#b080cc" opacity="0.30"/><circle cx="153.3" cy="194.3" r="0.98" fill="#2aa048" opacity="0.52"/><circle cx="48.8" cy="98.0" r="1.43" fill="#6cc878" opacity="0.38"/><circle cx="94.9" cy="131.5" r="0.75" fill="#b080cc" opacity="0.23"/><circle cx="153.0" cy="177.8" r="1.31" fill="#6cc878" opacity="0.10"/><circle cx="144.3" cy="179.1" r="1.35" fill="#6cc878" opacity="0.43"/><circle cx="146.8" cy="218.8" r="1.46" fill="#6cc878" opacity="0.14"/><circle cx="147.0" cy="194.5" r="1.22" fill="#b080cc" opacity="0.22"/><circle cx="50.8" cy="99.5" r="0.95" fill="#6cc878" opacity="0.30"/><circle cx="149.3" cy="182.3" r="0.90" fill="#b080cc" opacity="0.46"/><circle cx="134.5" cy="188.3" r="0.94" fill="#b080cc" opacity="0.16"/><circle cx="159.5" cy="225.4" r="1.43" fill="#b080cc" opacity="0.27"/><circle cx="156.9" cy="199.3" r="0.85" fill="#6cc878" opacity="0.27"/><circle cx="158.9" cy="187.2" r="0.73" fill="#b080cc" opacity="0.04"/><circle cx="162.1" cy="211.3" r="1.42" fill="#b080cc" opacity="0.13"/><circle cx="100.4" cy="135.8" r="1.37" fill="#6cc878" opacity="0.26"/><circle cx="157.3" cy="272.8" r="1.13" fill="#6cc878" opacity="0.27"/><circle cx="76.7" cy="106.5" r="0.85" fill="#6cc878" opacity="0.33"/><circle cx="107.2" cy="143.8" r="1.21" fill="#b080cc" opacity="0.20"/><circle cx="146.2" cy="171.2" r="1.26" fill="#6cc878" opacity="0.24"/><circle cx="161.1" cy="238.7" r="1.03" fill="#6cc878" opacity="0.31"/><circle cx="111.4" cy="147.9" r="0.93" fill="#b080cc" opacity="0.20"/><circle cx="135.6" cy="151.4" r="1.16" fill="#b080cc" opacity="0.15"/><circle cx="142.4" cy="163.9" r="1.07" fill="#6cc878" opacity="0.15"/><circle cx="147.9" cy="273.9" r="0.75" fill="#9050b8" opacity="0.44"/><circle cx="162.4" cy="248.1" r="1.39" fill="#6cc878" opacity="0.21"/><circle cx="51.3" cy="111.7" r="1.26" fill="#b080cc" opacity="0.02"/><circle cx="152.2" cy="209.8" r="1.29" fill="#6cc878" opacity="0.26"/><circle cx="96.8" cy="125.7" r="1.38" fill="#6cc878" opacity="0.21"/><circle cx="67.5" cy="104.5" r="1.48" fill="#9050b8" opacity="0.59"/><circle cx="165.9" cy="234.0" r="0.85" fill="#6cc878" opacity="0.12"/><circle cx="84.4" cy="118.1" r="1.11" fill="#6cc878" opacity="0.20"/><circle cx="156.2" cy="213.2" r="1.18" fill="#6cc878" opacity="0.15"/><circle cx="50.8" cy="106.5" r="0.87" fill="#6cc878" opacity="0.13"/><circle cx="61.9" cy="111.4" r="1.31" fill="#b080cc" opacity="0.21"/><circle cx="92.4" cy="110.0" r="0.70" fill="#6cc878" opacity="0.07"/><circle cx="81.0" cy="121.6" r="0.72" fill="#9050b8" opacity="0.45"/><circle cx="41.5" cy="97.1" r="1.41" fill="#b080cc" opacity="0.19"/><circle cx="156.8" cy="179.8" r="0.82" fill="#6cc878" opacity="0.05"/><circle cx="147.0" cy="224.2" r="1.22" fill="#b080cc" opacity="0.42"/><circle cx="146.7" cy="266.6" r="1.00" fill="#b080cc" opacity="0.08"/><circle cx="135.5" cy="172.2" r="0.71" fill="#b080cc" opacity="0.14"/><circle cx="153.6" cy="179.8" r="1.28" fill="#6cc878" opacity="0.21"/><circle cx="147.1" cy="231.5" r="1.19" fill="#b080cc" opacity="0.19"/><circle cx="46.2" cy="107.9" r="1.07" fill="#6cc878" opacity="0.19"/><circle cx="162.9" cy="196.9" r="1.01" fill="#6cc878" opacity="0.06"/><circle cx="35.6" cy="105.5" r="1.19" fill="#6cc878" opacity="0.32"/><circle cx="46.6" cy="90.7" r="1.46" fill="#b080cc" opacity="0.14"/><circle cx="139.8" cy="157.0" r="0.87" fill="#b080cc" opacity="0.32"/><circle cx="43.5" cy="87.5" r="1.47" fill="#6cc878" opacity="0.07"/><circle cx="156.9" cy="210.8" r="1.22" fill="#6cc878" opacity="0.18"/><circle cx="170.0" cy="264.5" r="1.48" fill="#b080cc" opacity="0.03"/><circle cx="97.2" cy="114.5" r="0.93" fill="#6cc878" opacity="0.11"/><circle cx="58.4" cy="98.7" r="0.96" fill="#9050b8" opacity="0.57"/><circle cx="38.3" cy="101.7" r="1.05" fill="#6cc878" opacity="0.20"/><circle cx="39.5" cy="102.7" r="1.07" fill="#6cc878" opacity="0.21"/><circle cx="131.0" cy="172.9" r="0.73" fill="#b080cc" opacity="0.32"/><circle cx="132.0" cy="164.2" r="0.74" fill="#b080cc" opacity="0.30"/><circle cx="134.6" cy="186.7" r="1.07" fill="#2aa048" opacity="0.47"/><circle cx="105.7" cy="125.9" r="1.11" fill="#b080cc" opacity="0.16"/><circle cx="149.2" cy="248.2" r="1.20" fill="#6cc878" opacity="0.24"/><circle cx="136.8" cy="195.5" r="1.00" fill="#6cc878" opacity="0.06"/><circle cx="61.6" cy="108.2" r="0.76" fill="#6cc878" opacity="0.25"/><circle cx="108.4" cy="126.0" r="0.95" fill="#b080cc" opacity="0.24"/><circle cx="76.9" cy="111.2" r="1.19" fill="#6cc878" opacity="0.14"/><circle cx="153.5" cy="268.5" r="1.42" fill="#b080cc" opacity="0.22"/><circle cx="167.4" cy="256.4" r="0.85" fill="#b080cc" opacity="0.11"/><circle cx="151.8" cy="261.2" r="0.79" fill="#6cc878" opacity="0.30"/><circle cx="160.1" cy="249.5" r="1.13" fill="#6cc878" opacity="0.46"/><circle cx="40.8" cy="99.6" r="1.49" fill="#b080cc" opacity="0.36"/><circle cx="71.2" cy="115.9" r="0.75" fill="#b080cc" opacity="0.24"/><circle cx="117.0" cy="147.3" r="1.10" fill="#b080cc" opacity="0.22"/><circle cx="90.7" cy="133.4" r="1.47" fill="#b080cc" opacity="0.17"/><circle cx="136.6" cy="197.9" r="0.76" fill="#6cc878" opacity="0.14"/><circle cx="161.0" cy="225.0" r="1.40" fill="#b080cc" opacity="0.44"/><circle cx="158.3" cy="246.3" r="1.04" fill="#6cc878" opacity="0.28"/><circle cx="166.2" cy="268.8" r="1.47" fill="#6cc878" opacity="0.15"/><circle cx="166.1" cy="243.3" r="0.90" fill="#b080cc" opacity="0.33"/><circle cx="146.4" cy="209.2" r="1.15" fill="#6cc878" opacity="0.13"/><circle cx="104.2" cy="142.0" r="0.91" fill="#6cc878" opacity="0.10"/><circle cx="140.0" cy="183.5" r="0.86" fill="#6cc878" opacity="0.37"/><circle cx="141.8" cy="164.9" r="1.35" fill="#b080cc" opacity="0.29"/><circle cx="136.0" cy="169.8" r="0.74" fill="#b080cc" opacity="0.42"/><circle cx="53.0" cy="95.8" r="1.25" fill="#6cc878" opacity="0.34"/><circle cx="148.6" cy="248.0" r="1.39" fill="#b080cc" opacity="0.14"/><circle cx="145.3" cy="223.3" r="0.83" fill="#6cc878" opacity="0.07"/><circle cx="151.4" cy="248.8" r="0.95" fill="#6cc878" opacity="0.39"/><circle cx="58.9" cy="109.6" r="1.28" fill="#b080cc" opacity="0.28"/><circle cx="99.3" cy="128.8" r="0.88" fill="#b080cc" opacity="0.43"/><circle cx="165.7" cy="225.0" r="0.85" fill="#9050b8" opacity="0.35"/><circle cx="134.3" cy="166.9" r="1.49" fill="#b080cc" opacity="0.43"/><circle cx="161.8" cy="268.2" r="0.85" fill="#6cc878" opacity="0.37"/><circle cx="39.1" cy="106.6" r="1.22" fill="#b080cc" opacity="0.14"/><circle cx="151.8" cy="179.2" r="1.23" fill="#b080cc" opacity="0.23"/><circle cx="45.2" cy="86.9" r="1.16" fill="#6cc878" opacity="0.09"/><circle cx="151.1" cy="266.9" r="1.39" fill="#6cc878" opacity="0.20"/><circle cx="148.6" cy="211.0" r="1.02" fill="#b080cc" opacity="0.21"/><circle cx="55.3" cy="104.2" r="1.11" fill="#b080cc" opacity="0.21"/><circle cx="44.5" cy="96.2" r="1.44" fill="#6cc878" opacity="0.24"/><circle cx="59.5" cy="94.0" r="0.78" fill="#b080cc" opacity="0.02"/><circle cx="151.6" cy="219.1" r="1.20" fill="#6cc878" opacity="0.22"/><circle cx="164.7" cy="204.6" r="1.49" fill="#b080cc" opacity="0.06"/><circle cx="167.7" cy="256.6" r="0.89" fill="#b080cc" opacity="0.15"/><circle cx="39.0" cy="100.3" r="1.10" fill="#b080cc" opacity="0.25"/><circle cx="155.6" cy="222.9" r="1.42" fill="#b080cc" opacity="0.25"/><circle cx="57.6" cy="112.2" r="0.89" fill="#6cc878" opacity="0.13"/><circle cx="150.6" cy="169.4" r="1.19" fill="#6cc878" opacity="0.06"/><circle cx="72.4" cy="121.4" r="1.22" fill="#b080cc" opacity="0.02"/><circle cx="156.7" cy="180.6" r="0.70" fill="#b080cc" opacity="0.07"/><circle cx="162.7" cy="270.0" r="1.05" fill="#b080cc" opacity="0.19"/><circle cx="63.8" cy="114.7" r="0.79" fill="#6cc878" opacity="0.23"/><circle cx="43.7" cy="98.1" r="1.40" fill="#b080cc" opacity="0.26"/><circle cx="155.7" cy="217.7" r="1.48" fill="#b080cc" opacity="0.29"/><circle cx="157.0" cy="212.9" r="1.39" fill="#6cc878" opacity="0.34"/><circle cx="84.8" cy="126.0" r="0.72" fill="#b080cc" opacity="0.21"/><circle cx="42.2" cy="94.8" r="1.46" fill="#2aa048" opacity="0.62"/><circle cx="130.8" cy="175.0" r="0.72" fill="#9050b8" opacity="0.39"/><circle cx="162.0" cy="200.8" r="0.89" fill="#b080cc" opacity="0.09"/><circle cx="128.5" cy="162.0" r="1.30" fill="#6cc878" opacity="0.37"/><circle cx="39.7" cy="93.5" r="0.72" fill="#6cc878" opacity="0.18"/><circle cx="165.7" cy="273.1" r="1.40" fill="#b080cc" opacity="0.11"/><circle cx="72.9" cy="110.3" r="0.98" fill="#b080cc" opacity="0.13"/><circle cx="67.0" cy="99.2" r="1.13" fill="#6cc878" opacity="0.03"/><circle cx="88.8" cy="127.3" r="0.76" fill="#6cc878" opacity="0.16"/><circle cx="83.3" cy="115.2" r="0.79" fill="#b080cc" opacity="0.31"/><circle cx="155.9" cy="242.3" r="1.32" fill="#b080cc" opacity="0.36"/><circle cx="53.7" cy="110.9" r="1.10" fill="#b080cc" opacity="0.11"/><circle cx="160.7" cy="230.1" r="1.09" fill="#6cc878" opacity="0.16"/><circle cx="149.2" cy="219.0" r="0.73" fill="#6cc878" opacity="0.14"/><circle cx="132.6" cy="179.4" r="1.11" fill="#6cc878" opacity="0.19"/><circle cx="169.6" cy="255.7" r="1.46" fill="#6cc878" opacity="0.01"/><circle cx="74.6" cy="106.7" r="1.24" fill="#6cc878" opacity="0.35"/><circle cx="167.7" cy="243.8" r="0.99" fill="#b080cc" opacity="0.07"/><circle cx="152.7" cy="186.9" r="1.11" fill="#6cc878" opacity="0.19"/><circle cx="124.9" cy="143.2" r="0.97" fill="#6cc878" opacity="0.37"/><circle cx="156.2" cy="195.9" r="1.13" fill="#b080cc" opacity="0.14"/><circle cx="139.1" cy="201.8" r="0.87" fill="#b080cc" opacity="0.15"/><circle cx="42.2" cy="87.5" r="1.49" fill="#b080cc" opacity="0.16"/><circle cx="149.6" cy="265.3" r="0.87" fill="#6cc878" opacity="0.17"/><circle cx="72.4" cy="104.0" r="1.06" fill="#6cc878" opacity="0.20"/><circle cx="38.6" cy="101.0" r="0.70" fill="#6cc878" opacity="0.35"/><circle cx="148.4" cy="174.5" r="1.33" fill="#b080cc" opacity="0.12"/><circle cx="64.5" cy="109.2" r="1.21" fill="#6cc878" opacity="0.49"/><circle cx="144.0" cy="219.9" r="1.26" fill="#b080cc" opacity="0.06"/><circle cx="156.1" cy="179.7" r="1.00" fill="#6cc878" opacity="0.07"/><circle cx="91.1" cy="111.4" r="0.96" fill="#b080cc" opacity="0.30"/><circle cx="165.9" cy="217.3" r="0.95" fill="#b080cc" opacity="0.01"/><circle cx="121.1" cy="163.1" r="1.21" fill="#b080cc" opacity="0.10"/><circle cx="66.2" cy="107.1" r="0.88" fill="#6cc878" opacity="0.14"/><circle cx="39.3" cy="107.1" r="1.24" fill="#6cc878" opacity="0.19"/><circle cx="63.7" cy="107.9" r="0.71" fill="#6cc878" opacity="0.14"/><circle cx="74.1" cy="103.2" r="1.31" fill="#6cc878" opacity="0.17"/><circle cx="148.8" cy="186.8" r="0.71" fill="#b080cc" opacity="0.51"/><circle cx="41.6" cy="97.0" r="0.83" fill="#b080cc" opacity="0.24"/><circle cx="147.2" cy="233.8" r="1.13" fill="#6cc878" opacity="0.10"/><circle cx="42.1" cy="88.5" r="1.32" fill="#b080cc" opacity="0.20"/><circle cx="156.0" cy="217.6" r="0.91" fill="#6cc878" opacity="0.35"/><circle cx="39.0" cy="104.5" r="1.18" fill="#b080cc" opacity="0.28"/><circle cx="71.5" cy="111.8" r="1.50" fill="#b080cc" opacity="0.46"/><circle cx="163.5" cy="249.5" r="0.97" fill="#6cc878" opacity="0.39"/><circle cx="138.1" cy="187.5" r="0.92" fill="#6cc878" opacity="0.37"/><circle cx="140.5" cy="190.0" r="0.84" fill="#b080cc" opacity="0.37"/><circle cx="120.6" cy="145.3" r="1.15" fill="#b080cc" opacity="0.22"/><circle cx="156.2" cy="188.2" r="1.43" fill="#b080cc" opacity="0.28"/><circle cx="133.1" cy="185.2" r="0.92" fill="#b080cc" opacity="0.10"/><circle cx="120.4" cy="141.0" r="1.03" fill="#6cc878" opacity="0.39"/><circle cx="115.1" cy="152.4" r="0.79" fill="#6cc878" opacity="0.11"/><circle cx="82.6" cy="113.1" r="1.24" fill="#b080cc" opacity="0.15"/><circle cx="88.4" cy="108.8" r="1.08" fill="#6cc878" opacity="0.13"/><circle cx="153.2" cy="263.7" r="0.88" fill="#6cc878" opacity="0.20"/><circle cx="154.9" cy="203.7" r="1.09" fill="#b080cc" opacity="0.16"/><circle cx="152.7" cy="204.4" r="1.01" fill="#6cc878" opacity="0.20"/><circle cx="99.2" cy="118.6" r="1.03" fill="#b080cc" opacity="0.14"/><circle cx="41.7" cy="90.6" r="1.30" fill="#6cc878" opacity="0.21"/><circle cx="100.3" cy="142.2" r="1.23" fill="#2aa048" opacity="0.11"/><circle cx="88.9" cy="117.2" r="1.41" fill="#6cc878" opacity="0.28"/><circle cx="72.9" cy="108.5" r="1.11" fill="#b080cc" opacity="0.34"/><circle cx="158.5" cy="184.4" r="1.22" fill="#6cc878" opacity="0.09"/><circle cx="80.8" cy="124.9" r="1.19" fill="#b080cc" opacity="0.13"/><circle cx="44.4" cy="89.7" r="1.46" fill="#6cc878" opacity="0.19"/><circle cx="121.6" cy="140.0" r="0.88" fill="#b080cc" opacity="0.28"/><circle cx="103.2" cy="122.9" r="1.22" fill="#b080cc" opacity="0.32"/><circle cx="71.9" cy="120.8" r="0.71" fill="#6cc878" opacity="0.10"/><circle cx="135.8" cy="198.1" r="1.15" fill="#6cc878" opacity="0.01"/><circle cx="106.9" cy="142.9" r="1.46" fill="#6cc878" opacity="0.13"/><circle cx="97.4" cy="121.7" r="1.27" fill="#b080cc" opacity="0.16"/><circle cx="84.0" cy="125.9" r="0.74" fill="#b080cc" opacity="0.24"/><circle cx="105.2" cy="129.1" r="1.36" fill="#6cc878" opacity="0.27"/><circle cx="61.4" cy="107.2" r="1.25" fill="#6cc878" opacity="0.31"/><circle cx="149.3" cy="265.5" r="1.10" fill="#6cc878" opacity="0.20"/><circle cx="154.2" cy="242.1" r="1.46" fill="#b080cc" opacity="0.17"/><circle cx="115.7" cy="148.3" r="1.26" fill="#b080cc" opacity="0.25"/><circle cx="59.3" cy="109.3" r="0.73" fill="#6cc878" opacity="0.19"/><circle cx="135.9" cy="163.4" r="1.11" fill="#b080cc" opacity="0.36"/><circle cx="92.9" cy="133.1" r="1.02" fill="#b080cc" opacity="0.30"/><circle cx="151.4" cy="181.3" r="0.95" fill="#6cc878" opacity="0.19"/><circle cx="145.3" cy="255.3" r="1.03" fill="#b080cc" opacity="0.01"/><circle cx="140.7" cy="188.8" r="1.48" fill="#b080cc" opacity="0.15"/><circle cx="154.3" cy="245.8" r="1.10" fill="#6cc878" opacity="0.32"/><circle cx="153.0" cy="240.4" r="1.39" fill="#b080cc" opacity="0.13"/><circle cx="68.6" cy="111.1" r="1.38" fill="#9050b8" opacity="0.57"/><circle cx="65.3" cy="106.8" r="1.16" fill="#b080cc" opacity="0.21"/><circle cx="100.5" cy="125.6" r="1.43" fill="#b080cc" opacity="0.33"/><circle cx="150.1" cy="208.4" r="0.84" fill="#b080cc" opacity="0.29"/><circle cx="70.8" cy="119.4" r="1.34" fill="#b080cc" opacity="0.12"/><circle cx="148.7" cy="257.6" r="1.08" fill="#6cc878" opacity="0.30"/><circle cx="153.9" cy="212.6" r="1.35" fill="#6cc878" opacity="0.16"/><circle cx="91.1" cy="128.0" r="1.27" fill="#6cc878" opacity="0.16"/><circle cx="73.3" cy="118.4" r="1.36" fill="#b080cc" opacity="0.32"/><circle cx="47.5" cy="92.2" r="1.02" fill="#b080cc" opacity="0.45"/><circle cx="153.4" cy="208.4" r="0.87" fill="#9050b8" opacity="0.54"/><circle cx="139.1" cy="176.3" r="0.94" fill="#6cc878" opacity="0.44"/><circle cx="149.9" cy="252.6" r="1.41" fill="#6cc878" opacity="0.16"/><circle cx="166.0" cy="217.0" r="0.97" fill="#6cc878" opacity="0.05"/><circle cx="96.2" cy="133.7" r="0.89" fill="#2aa048" opacity="0.52"/><circle cx="56.2" cy="91.9" r="0.72" fill="#6cc878" opacity="0.02"/><circle cx="166.4" cy="240.0" r="1.23" fill="#6cc878" opacity="0.11"/><circle cx="146.6" cy="240.9" r="0.84" fill="#6cc878" opacity="0.13"/><circle cx="119.9" cy="152.8" r="1.03" fill="#b080cc" opacity="0.30"/><circle cx="92.7" cy="121.8" r="0.75" fill="#b080cc" opacity="0.47"/><circle cx="58.2" cy="95.8" r="0.74" fill="#6cc878" opacity="0.13"/><circle cx="130.0" cy="172.8" r="0.72" fill="#6cc878" opacity="0.39"/><circle cx="61.0" cy="107.6" r="1.10" fill="#6cc878" opacity="0.45"/><circle cx="112.8" cy="136.6" r="1.44" fill="#b080cc" opacity="0.18"/><circle cx="146.2" cy="187.2" r="0.75" fill="#b080cc" opacity="0.21"/><circle cx="41.3" cy="95.2" r="0.81" fill="#2aa048" opacity="0.57"/><circle cx="153.5" cy="244.4" r="1.31" fill="#b080cc" opacity="0.23"/><circle cx="144.1" cy="175.0" r="0.92" fill="#b080cc" opacity="0.41"/><circle cx="125.7" cy="138.1" r="0.93" fill="#6cc878" opacity="0.01"/><circle cx="64.7" cy="98.2" r="1.06" fill="#6cc878" opacity="0.08"/><circle cx="107.9" cy="127.1" r="0.71" fill="#b080cc" opacity="0.15"/><circle cx="162.4" cy="198.9" r="0.88" fill="#b080cc" opacity="0.10"/><circle cx="60.1" cy="107.0" r="1.41" fill="#b080cc" opacity="0.49"/><circle cx="135.9" cy="193.3" r="1.12" fill="#6cc878" opacity="0.10"/><circle cx="124.1" cy="164.6" r="1.16" fill="#6cc878" opacity="0.14"/><circle cx="131.8" cy="166.0" r="1.12" fill="#6cc878" opacity="0.17"/><circle cx="43.7" cy="86.2" r="1.19" fill="#b080cc" opacity="0.08"/><circle cx="137.8" cy="193.7" r="1.26" fill="#6cc878" opacity="0.10"/><circle cx="142.4" cy="183.2" r="0.98" fill="#6cc878" opacity="0.34"/><circle cx="147.4" cy="231.7" r="1.30" fill="#b080cc" opacity="0.23"/><circle cx="42.0" cy="94.6" r="1.30" fill="#b080cc" opacity="0.24"/><circle cx="39.2" cy="106.5" r="0.95" fill="#6cc878" opacity="0.12"/><circle cx="110.6" cy="152.6" r="0.81" fill="#b080cc" opacity="0.03"/><circle cx="147.8" cy="212.9" r="1.02" fill="#b080cc" opacity="0.23"/><circle cx="40.9" cy="95.0" r="1.46" fill="#6cc878" opacity="0.37"/><circle cx="102.6" cy="133.3" r="0.73" fill="#6cc878" opacity="0.38"/><circle cx="133.9" cy="189.0" r="1.13" fill="#6cc878" opacity="0.07"/><circle cx="155.4" cy="249.4" r="1.44" fill="#6cc878" opacity="0.21"/><circle cx="68.9" cy="99.8" r="1.11" fill="#6cc878" opacity="0.13"/><circle cx="130.3" cy="178.1" r="0.83" fill="#6cc878" opacity="0.13"/><circle cx="156.3" cy="247.0" r="0.70" fill="#6cc878" opacity="0.22"/><circle cx="100.0" cy="139.9" r="0.93" fill="#6cc878" opacity="0.09"/><circle cx="138.2" cy="167.8" r="1.16" fill="#b080cc" opacity="0.30"/><circle cx="104.8" cy="135.1" r="1.13" fill="#6cc878" opacity="0.26"/><circle cx="146.2" cy="253.9" r="1.07" fill="#b080cc" opacity="0.15"/><circle cx="164.2" cy="201.8" r="1.43" fill="#6cc878" opacity="0.01"/><circle cx="69.9" cy="112.3" r="1.28" fill="#b080cc" opacity="0.46"/><circle cx="38.1" cy="101.0" r="1.43" fill="#6cc878" opacity="0.36"/><circle cx="148.3" cy="190.6" r="1.46" fill="#2aa048" opacity="0.62"/><circle cx="150.3" cy="212.6" r="1.43" fill="#6cc878" opacity="0.38"/><circle cx="165.2" cy="213.5" r="0.94" fill="#b080cc" opacity="0.03"/><circle cx="50.5" cy="108.4" r="0.82" fill="#b080cc" opacity="0.28"/><circle cx="72.8" cy="115.8" r="0.77" fill="#6cc878" opacity="0.15"/><circle cx="143.8" cy="168.3" r="1.39" fill="#b080cc" opacity="0.20"/><circle cx="88.1" cy="113.8" r="1.48" fill="#6cc878" opacity="0.16"/><circle cx="140.7" cy="163.3" r="0.72" fill="#9050b8" opacity="0.61"/><circle cx="160.5" cy="240.2" r="1.28" fill="#6cc878" opacity="0.26"/><circle cx="162.3" cy="230.6" r="0.96" fill="#b080cc" opacity="0.42"/><circle cx="150.0" cy="222.4" r="1.49" fill="#b080cc" opacity="0.28"/><circle cx="65.5" cy="113.8" r="0.84" fill="#6cc878" opacity="0.14"/><circle cx="94.6" cy="114.3" r="1.09" fill="#b080cc" opacity="0.13"/><circle cx="154.6" cy="221.6" r="0.80" fill="#b080cc" opacity="0.16"/><circle cx="135.9" cy="187.2" r="0.94" fill="#9050b8" opacity="0.42"/><circle cx="156.0" cy="181.0" r="0.95" fill="#b080cc" opacity="0.05"/><circle cx="67.8" cy="109.5" r="0.79" fill="#6cc878" opacity="0.51"/><circle cx="146.7" cy="186.6" r="0.76" fill="#b080cc" opacity="0.49"/><circle cx="136.7" cy="159.5" r="1.24" fill="#6cc878" opacity="0.19"/><circle cx="163.6" cy="263.3" r="1.25" fill="#6cc878" opacity="0.20"/><circle cx="167.8" cy="267.9" r="1.15" fill="#b080cc" opacity="0.11"/><circle cx="35.4" cy="105.6" r="0.85" fill="#6cc878" opacity="0.22"/><circle cx="135.5" cy="162.7" r="1.20" fill="#b080cc" opacity="0.31"/><circle cx="77.1" cy="105.2" r="0.75" fill="#b080cc" opacity="0.22"/><circle cx="156.8" cy="228.2" r="0.75" fill="#6cc878" opacity="0.15"/><circle cx="156.4" cy="253.5" r="0.76" fill="#6cc878" opacity="0.25"/><circle cx="40.3" cy="97.0" r="1.08" fill="#6cc878" opacity="0.22"/><circle cx="123.3" cy="163.4" r="1.47" fill="#b080cc" opacity="0.17"/><circle cx="154.0" cy="266.7" r="1.33" fill="#6cc878" opacity="0.14"/><circle cx="153.2" cy="203.3" r="1.09" fill="#2aa048" opacity="0.62"/><circle cx="149.1" cy="183.8" r="1.23" fill="#b080cc" opacity="0.19"/><circle cx="140.2" cy="182.5" r="0.92" fill="#b080cc" opacity="0.17"/><circle cx="129.4" cy="178.8" r="1.24" fill="#b080cc" opacity="0.06"/><circle cx="81.1" cy="111.2" r="1.09" fill="#6cc878" opacity="0.23"/><circle cx="168.1" cy="238.5" r="1.27" fill="#6cc878" opacity="0.06"/><circle cx="119.9" cy="158.2" r="0.83" fill="#6cc878" opacity="0.15"/><circle cx="150.5" cy="172.6" r="1.37" fill="#6cc878" opacity="0.32"/><circle cx="89.0" cy="130.5" r="1.49" fill="#6cc878" opacity="0.16"/><circle cx="127.9" cy="162.6" r="0.98" fill="#6cc878" opacity="0.19"/><circle cx="41.9" cy="92.2" r="1.40" fill="#b080cc" opacity="0.15"/><circle cx="149.5" cy="200.9" r="1.20" fill="#6cc878" opacity="0.16"/><circle cx="90.7" cy="122.2" r="1.24" fill="#b080cc" opacity="0.36"/><circle cx="145.8" cy="269.4" r="0.86" fill="#b080cc" opacity="0.04"/><circle cx="143.2" cy="154.5" r="1.31" fill="#6cc878" opacity="0.01"/><circle cx="153.4" cy="205.1" r="1.45" fill="#6cc878" opacity="0.13"/><circle cx="60.1" cy="113.8" r="0.77" fill="#6cc878" opacity="0.14"/><circle cx="164.0" cy="201.7" r="1.16" fill="#6cc878" opacity="0.02"/><circle cx="116.0" cy="150.0" r="0.89" fill="#b080cc" opacity="0.14"/><circle cx="76.4" cy="109.8" r="1.15" fill="#b080cc" opacity="0.28"/><circle cx="41.1" cy="91.2" r="0.87" fill="#b080cc" opacity="0.28"/><circle cx="145.5" cy="204.6" r="0.79" fill="#b080cc" opacity="0.26"/><circle cx="68.9" cy="117.7" r="1.02" fill="#b080cc" opacity="0.13"/><circle cx="79.7" cy="125.6" r="1.07" fill="#6cc878" opacity="0.08"/><circle cx="131.5" cy="181.8" r="1.44" fill="#b080cc" opacity="0.12"/><circle cx="141.3" cy="172.3" r="1.27" fill="#b080cc" opacity="0.18"/><circle cx="155.5" cy="250.1" r="0.73" fill="#b080cc" opacity="0.18"/><circle cx="146.5" cy="180.3" r="0.90" fill="#b080cc" opacity="0.31"/><circle cx="167.1" cy="223.4" r="1.32" fill="#6cc878" opacity="0.22"/><circle cx="85.3" cy="121.5" r="0.84" fill="#6cc878" opacity="0.44"/><circle cx="40.6" cy="103.6" r="0.81" fill="#6cc878" opacity="0.44"/><circle cx="84.3" cy="128.8" r="0.94" fill="#b080cc" opacity="0.02"/><circle cx="44.0" cy="85.9" r="1.19" fill="#6cc878" opacity="0.03"/><circle cx="151.5" cy="232.5" r="0.81" fill="#b080cc" opacity="0.14"/><circle cx="111.2" cy="148.0" r="1.04" fill="#b080cc" opacity="0.23"/><circle cx="104.0" cy="136.5" r="0.71" fill="#b080cc" opacity="0.19"/><circle cx="153.4" cy="176.7" r="1.42" fill="#6cc878" opacity="0.21"/><circle cx="87.7" cy="128.5" r="1.17" fill="#b080cc" opacity="0.25"/><circle cx="72.6" cy="119.0" r="1.15" fill="#6cc878" opacity="0.13"/><circle cx="44.5" cy="101.8" r="1.16" fill="#b080cc" opacity="0.25"/><circle cx="52.8" cy="107.6" r="1.07" fill="#6cc878" opacity="0.22"/><circle cx="144.2" cy="226.3" r="1.07" fill="#b080cc" opacity="0.08"/><circle cx="143.4" cy="183.0" r="0.71" fill="#6cc878" opacity="0.41"/><circle cx="111.9" cy="135.9" r="0.74" fill="#b080cc" opacity="0.15"/><circle cx="147.8" cy="216.1" r="1.10" fill="#b080cc" opacity="0.31"/><circle cx="128.2" cy="149.4" r="1.14" fill="#b080cc" opacity="0.20"/><circle cx="167.5" cy="243.4" r="1.16" fill="#6cc878" opacity="0.10"/><circle cx="46.7" cy="101.5" r="1.04" fill="#6cc878" opacity="0.27"/><circle cx="167.9" cy="246.3" r="0.79" fill="#b080cc" opacity="0.15"/><circle cx="40.1" cy="102.8" r="1.37" fill="#6cc878" opacity="0.39"/><circle cx="120.1" cy="145.2" r="0.74" fill="#6cc878" opacity="0.20"/><circle cx="119.7" cy="135.2" r="1.43" fill="#b080cc" opacity="0.13"/><circle cx="154.1" cy="197.3" r="0.93" fill="#b080cc" opacity="0.18"/><circle cx="161.4" cy="267.2" r="0.88" fill="#b080cc" opacity="0.16"/><circle cx="153.7" cy="184.3" r="1.24" fill="#6cc878" opacity="0.21"/><circle cx="43.4" cy="86.6" r="0.97" fill="#b080cc" opacity="0.06"/><circle cx="79.4" cy="121.3" r="1.20" fill="#2aa048" opacity="0.45"/><circle cx="109.8" cy="135.1" r="0.71" fill="#6cc878" opacity="0.50"/><circle cx="65.8" cy="102.6" r="0.96" fill="#6cc878" opacity="0.27"/><circle cx="40.1" cy="100.2" r="1.24" fill="#9050b8" opacity="0.56"/><circle cx="154.1" cy="192.0" r="0.92" fill="#6cc878" opacity="0.21"/><circle cx="60.1" cy="114.1" r="1.41" fill="#6cc878" opacity="0.23"/><circle cx="163.4" cy="273.4" r="1.44" fill="#b080cc" opacity="0.23"/><circle cx="95.0" cy="130.5" r="1.48" fill="#9050b8" opacity="0.51"/><circle cx="131.3" cy="169.7" r="1.06" fill="#6cc878" opacity="0.13"/><circle cx="136.7" cy="156.0" r="1.47" fill="#2aa048" opacity="0.51"/><circle cx="75.7" cy="115.3" r="0.83" fill="#b080cc" opacity="0.31"/><circle cx="148.4" cy="223.4" r="0.83" fill="#b080cc" opacity="0.16"/><circle cx="46.5" cy="87.9" r="1.27" fill="#b080cc" opacity="0.18"/><circle cx="36.8" cy="104.8" r="0.86" fill="#6cc878" opacity="0.14"/><circle cx="139.4" cy="192.9" r="1.17" fill="#6cc878" opacity="0.30"/><circle cx="152.8" cy="261.0" r="0.97" fill="#6cc878" opacity="0.15"/><circle cx="96.2" cy="122.4" r="0.84" fill="#6cc878" opacity="0.15"/><circle cx="142.7" cy="154.9" r="0.87" fill="#6cc878" opacity="0.08"/><circle cx="164.3" cy="266.8" r="1.07" fill="#6cc878" opacity="0.12"/><circle cx="154.1" cy="265.5" r="0.98" fill="#b080cc" opacity="0.18"/><circle cx="57.4" cy="101.4" r="1.14" fill="#b080cc" opacity="0.43"/><circle cx="110.5" cy="143.5" r="1.26" fill="#b080cc" opacity="0.40"/><circle cx="84.4" cy="107.7" r="1.09" fill="#6cc878" opacity="0.21"/><circle cx="150.4" cy="178.3" r="0.89" fill="#b080cc" opacity="0.31"/><circle cx="85.5" cy="125.6" r="1.43" fill="#b080cc" opacity="0.23"/><circle cx="96.7" cy="121.3" r="1.12" fill="#9050b8" opacity="0.62"/><circle cx="98.9" cy="126.0" r="1.11" fill="#6cc878" opacity="0.21"/><circle cx="85.4" cy="116.0" r="1.11" fill="#6cc878" opacity="0.19"/><circle cx="163.3" cy="228.6" r="0.92" fill="#6cc878" opacity="0.20"/><circle cx="148.8" cy="201.2" r="1.28" fill="#6cc878" opacity="0.22"/><circle cx="155.1" cy="261.6" r="1.05" fill="#6cc878" opacity="0.30"/><circle cx="55.8" cy="113.5" r="1.16" fill="#6cc878" opacity="0.07"/><circle cx="168.5" cy="237.8" r="1.22" fill="#b080cc" opacity="0.01"/><circle cx="73.9" cy="111.3" r="0.75" fill="#6cc878" opacity="0.19"/><circle cx="143.5" cy="218.6" r="1.06" fill="#b080cc" opacity="0.07"/><circle cx="152.8" cy="188.5" r="0.88" fill="#b080cc" opacity="0.23"/><circle cx="92.3" cy="117.1" r="1.31" fill="#6cc878" opacity="0.29"/><circle cx="162.7" cy="262.5" r="0.98" fill="#6cc878" opacity="0.35"/><circle cx="79.2" cy="125.4" r="1.20" fill="#6cc878" opacity="0.04"/><circle cx="69.2" cy="115.2" r="1.23" fill="#b080cc" opacity="0.32"/><circle cx="73.8" cy="106.7" r="0.74" fill="#b080cc" opacity="0.16"/><circle cx="167.2" cy="238.9" r="1.47" fill="#9050b8" opacity="0.26"/><circle cx="67.7" cy="111.9" r="0.96" fill="#6cc878" opacity="0.28"/><circle cx="51.3" cy="93.4" r="1.14" fill="#b080cc" opacity="0.16"/><circle cx="72.4" cy="102.8" r="0.72" fill="#6cc878" opacity="0.09"/><circle cx="117.7" cy="132.2" r="1.24" fill="#b080cc" opacity="0.08"/><circle cx="78.0" cy="116.3" r="1.05" fill="#6cc878" opacity="0.45"/><circle cx="61.1" cy="109.3" r="0.78" fill="#b080cc" opacity="0.24"/><circle cx="152.1" cy="254.9" r="0.82" fill="#b080cc" opacity="0.20"/><circle cx="69.9" cy="113.9" r="1.29" fill="#6cc878" opacity="0.41"/><circle cx="141.5" cy="207.5" r="1.26" fill="#6cc878" opacity="0.24"/><circle cx="121.9" cy="146.9" r="1.10" fill="#6cc878" opacity="0.32"/><circle cx="134.1" cy="184.1" r="0.89" fill="#6cc878" opacity="0.19"/><circle cx="149.9" cy="180.1" r="0.79" fill="#b080cc" opacity="0.28"/><circle cx="47.2" cy="105.3" r="0.92" fill="#b080cc" opacity="0.39"/><circle cx="126.0" cy="168.1" r="0.93" fill="#6cc878" opacity="0.29"/><circle cx="110.7" cy="129.1" r="1.18" fill="#6cc878" opacity="0.12"/><circle cx="159.6" cy="261.8" r="1.01" fill="#b080cc" opacity="0.32"/><circle cx="162.3" cy="200.5" r="1.19" fill="#b080cc" opacity="0.08"/><circle cx="146.0" cy="266.2" r="0.87" fill="#b080cc" opacity="0.10"/><circle cx="52.3" cy="106.5" r="0.99" fill="#6cc878" opacity="0.30"/><circle cx="156.4" cy="229.8" r="1.34" fill="#b080cc" opacity="0.20"/><circle cx="143.1" cy="213.0" r="0.74" fill="#b080cc" opacity="0.23"/><circle cx="85.3" cy="120.7" r="1.18" fill="#6cc878" opacity="0.24"/><circle cx="155.9" cy="194.2" r="1.34" fill="#6cc878" opacity="0.32"/><circle cx="61.5" cy="96.4" r="1.25" fill="#b080cc" opacity="0.04"/><circle cx="94.6" cy="116.4" r="1.05" fill="#9050b8" opacity="0.46"/><circle cx="154.9" cy="182.9" r="0.94" fill="#6cc878" opacity="0.28"/><circle cx="151.0" cy="243.7" r="1.05" fill="#b080cc" opacity="0.15"/><circle cx="160.1" cy="194.7" r="1.22" fill="#b080cc" opacity="0.13"/><circle cx="166.9" cy="216.9" r="1.08" fill="#b080cc" opacity="0.01"/><circle cx="45.8" cy="98.2" r="1.49" fill="#2aa048" opacity="0.53"/><circle cx="41.3" cy="91.0" r="1.35" fill="#6cc878" opacity="0.32"/><circle cx="142.9" cy="220.3" r="1.36" fill="#6cc878" opacity="0.12"/><circle cx="158.6" cy="215.0" r="1.38" fill="#6cc878" opacity="0.28"/><circle cx="137.9" cy="198.1" r="1.28" fill="#6cc878" opacity="0.13"/><circle cx="144.3" cy="161.8" r="1.46" fill="#b080cc" opacity="0.25"/><circle cx="103.9" cy="129.6" r="1.34" fill="#b080cc" opacity="0.46"/><circle cx="64.6" cy="107.3" r="1.27" fill="#b080cc" opacity="0.17"/><circle cx="102.9" cy="130.5" r="1.15" fill="#b080cc" opacity="0.27"/><circle cx="146.9" cy="228.5" r="0.70" fill="#6cc878" opacity="0.14"/><circle cx="50.8" cy="102.3" r="1.07" fill="#6cc878" opacity="0.14"/><circle cx="71.6" cy="105.9" r="0.98" fill="#6cc878" opacity="0.38"/><circle cx="153.6" cy="205.2" r="1.41" fill="#b080cc" opacity="0.27"/><circle cx="71.2" cy="116.7" r="1.18" fill="#b080cc" opacity="0.18"/><circle cx="120.7" cy="147.3" r="1.48" fill="#6cc878" opacity="0.30"/><circle cx="148.3" cy="219.1" r="0.85" fill="#6cc878" opacity="0.39"/><circle cx="35.2" cy="106.4" r="1.46" fill="#6cc878" opacity="0.12"/><circle cx="148.1" cy="172.3" r="1.38" fill="#6cc878" opacity="0.31"/><circle cx="152.2" cy="174.0" r="1.27" fill="#2aa048" opacity="0.32"/><circle cx="52.3" cy="109.6" r="0.81" fill="#2aa048" opacity="0.43"/><circle cx="164.3" cy="224.7" r="0.85" fill="#6cc878" opacity="0.27"/><circle cx="42.4" cy="89.0" r="1.15" fill="#b080cc" opacity="0.21"/><circle cx="80.9" cy="117.7" r="1.45" fill="#6cc878" opacity="0.20"/><circle cx="62.4" cy="101.2" r="1.30" fill="#6cc878" opacity="0.13"/><circle cx="167.1" cy="238.1" r="0.99" fill="#b080cc" opacity="0.18"/><circle cx="150.6" cy="248.4" r="0.83" fill="#6cc878" opacity="0.28"/><circle cx="91.4" cy="122.1" r="1.16" fill="#6cc878" opacity="0.41"/><circle cx="95.1" cy="115.0" r="0.79" fill="#6cc878" opacity="0.13"/><circle cx="99.3" cy="136.2" r="1.11" fill="#b080cc" opacity="0.12"/><circle cx="156.5" cy="215.2" r="0.75" fill="#9050b8" opacity="0.53"/><circle cx="37.5" cy="109.1" r="0.77" fill="#6cc878" opacity="0.04"/><circle cx="160.5" cy="209.7" r="0.92" fill="#b080cc" opacity="0.39"/><circle cx="156.3" cy="249.2" r="1.22" fill="#b080cc" opacity="0.44"/><circle cx="48.4" cy="93.6" r="0.90" fill="#b080cc" opacity="0.37"/><circle cx="69.7" cy="120.4" r="1.01" fill="#6cc878" opacity="0.07"/><circle cx="147.0" cy="166.3" r="0.71" fill="#b080cc" opacity="0.16"/><circle cx="75.3" cy="118.0" r="1.25" fill="#b080cc" opacity="0.38"/><circle cx="149.4" cy="204.1" r="1.43" fill="#b080cc" opacity="0.32"/><circle cx="145.5" cy="202.1" r="0.85" fill="#b080cc" opacity="0.17"/><circle cx="61.6" cy="107.7" r="0.83" fill="#6cc878" opacity="0.21"/><circle cx="41.1" cy="88.7" r="1.20" fill="#9050b8" opacity="0.51"/><circle cx="41.9" cy="104.0" r="0.74" fill="#6cc878" opacity="0.18"/><circle cx="158.6" cy="199.5" r="1.48" fill="#b080cc" opacity="0.15"/><circle cx="169.0" cy="236.8" r="0.95" fill="#6cc878" opacity="0.02"/><circle cx="149.5" cy="162.8" r="1.02" fill="#b080cc" opacity="0.01"/><circle cx="64.5" cy="106.8" r="1.01" fill="#6cc878" opacity="0.45"/><circle cx="63.1" cy="106.7" r="1.35" fill="#6cc878" opacity="0.27"/><circle cx="133.8" cy="174.5" r="1.34" fill="#b080cc" opacity="0.38"/><circle cx="101.8" cy="139.5" r="1.28" fill="#6cc878" opacity="0.23"/><circle cx="147.7" cy="248.7" r="1.37" fill="#b080cc" opacity="0.22"/><circle cx="76.5" cy="114.6" r="1.02" fill="#b080cc" opacity="0.19"/><circle cx="70.2" cy="114.8" r="1.16" fill="#b080cc" opacity="0.13"/><circle cx="119.0" cy="134.3" r="1.39" fill="#6cc878" opacity="0.24"/><circle cx="143.0" cy="198.1" r="1.09" fill="#6cc878" opacity="0.36"/><circle cx="70.2" cy="115.8" r="1.15" fill="#6cc878" opacity="0.39"/><circle cx="50.9" cy="103.6" r="0.95" fill="#b080cc" opacity="0.49"/><circle cx="106.0" cy="127.5" r="1.31" fill="#6cc878" opacity="0.35"/><circle cx="145.8" cy="170.1" r="1.09" fill="#b080cc" opacity="0.24"/><circle cx="84.9" cy="122.7" r="1.10" fill="#6cc878" opacity="0.15"/><circle cx="148.2" cy="192.8" r="1.24" fill="#6cc878" opacity="0.38"/><circle cx="141.1" cy="167.8" r="1.03" fill="#6cc878" opacity="0.48"/><circle cx="156.1" cy="238.4" r="0.85" fill="#6cc878" opacity="0.23"/><circle cx="165.1" cy="229.2" r="0.89" fill="#6cc878" opacity="0.13"/><circle cx="141.8" cy="219.5" r="1.49" fill="#b080cc" opacity="0.01"/><circle cx="152.8" cy="205.3" r="0.72" fill="#b080cc" opacity="0.35"/><circle cx="155.7" cy="212.4" r="1.02" fill="#6cc878" opacity="0.23"/><circle cx="159.8" cy="249.1" r="1.36" fill="#6cc878" opacity="0.27"/><circle cx="154.3" cy="218.4" r="1.11" fill="#b080cc" opacity="0.31"/><circle cx="86.2" cy="117.6" r="0.80" fill="#6cc878" opacity="0.14"/><circle cx="59.0" cy="96.2" r="1.09" fill="#b080cc" opacity="0.27"/><circle cx="151.3" cy="268.5" r="0.95" fill="#6cc878" opacity="0.22"/><circle cx="77.6" cy="120.6" r="0.88" fill="#6cc878" opacity="0.19"/><circle cx="129.4" cy="147.8" r="1.19" fill="#b080cc" opacity="0.37"/><circle cx="109.7" cy="151.1" r="1.18" fill="#b080cc" opacity="0.03"/><circle cx="139.7" cy="188.2" r="1.43" fill="#9050b8" opacity="0.60"/><circle cx="134.1" cy="189.4" r="0.79" fill="#b080cc" opacity="0.08"/><circle cx="49.9" cy="89.3" r="1.25" fill="#6cc878" opacity="0.04"/><circle cx="59.2" cy="115.6" r="1.40" fill="#b080cc" opacity="0.06"/><circle cx="43.5" cy="90.4" r="0.80" fill="#6cc878" opacity="0.38"/><circle cx="74.9" cy="106.2" r="1.00" fill="#6cc878" opacity="0.24"/><circle cx="158.3" cy="256.2" r="1.23" fill="#6cc878" opacity="0.14"/><circle cx="149.9" cy="212.2" r="0.76" fill="#6cc878" opacity="0.17"/><circle cx="41.4" cy="91.0" r="1.43" fill="#2aa048" opacity="0.60"/><circle cx="134.8" cy="166.3" r="0.94" fill="#b080cc" opacity="0.39"/><circle cx="118.2" cy="141.1" r="1.28" fill="#6cc878" opacity="0.16"/><circle cx="153.7" cy="195.4" r="0.76" fill="#6cc878" opacity="0.13"/><circle cx="143.2" cy="192.3" r="0.72" fill="#6cc878" opacity="0.47"/><circle cx="87.3" cy="119.1" r="0.89" fill="#6cc878" opacity="0.16"/><circle cx="165.7" cy="225.6" r="1.48" fill="#6cc878" opacity="0.19"/><circle cx="162.6" cy="233.3" r="0.78" fill="#6cc878" opacity="0.23"/><circle cx="134.9" cy="152.1" r="1.41" fill="#b080cc" opacity="0.14"/><circle cx="168.4" cy="243.1" r="0.74" fill="#9050b8" opacity="0.25"/><circle cx="67.0" cy="111.0" r="1.23" fill="#b080cc" opacity="0.28"/><circle cx="157.2" cy="198.2" r="1.09" fill="#b080cc" opacity="0.29"/><circle cx="142.2" cy="166.9" r="0.88" fill="#b080cc" opacity="0.19"/><circle cx="97.0" cy="128.2" r="1.18" fill="#b080cc" opacity="0.20"/><circle cx="165.6" cy="231.2" r="0.85" fill="#6cc878" opacity="0.19"/><circle cx="153.0" cy="262.5" r="1.31" fill="#6cc878" opacity="0.23"/><circle cx="42.0" cy="88.0" r="1.04" fill="#6cc878" opacity="0.26"/><circle cx="137.8" cy="151.7" r="0.89" fill="#b080cc" opacity="0.11"/><circle cx="166.9" cy="267.8" r="1.39" fill="#b080cc" opacity="0.27"/><circle cx="164.3" cy="220.6" r="0.76" fill="#b080cc" opacity="0.24"/><circle cx="120.6" cy="135.4" r="1.09" fill="#6cc878" opacity="0.14"/><circle cx="147.1" cy="173.4" r="1.23" fill="#6cc878" opacity="0.17"/><circle cx="131.4" cy="151.4" r="1.18" fill="#b080cc" opacity="0.39"/><circle cx="91.9" cy="128.7" r="0.88" fill="#6cc878" opacity="0.27"/><circle cx="91.9" cy="117.7" r="0.73" fill="#b080cc" opacity="0.49"/><circle cx="37.0" cy="108.2" r="1.06" fill="#6cc878" opacity="0.04"/><circle cx="135.0" cy="197.2" r="1.17" fill="#b080cc" opacity="0.02"/><circle cx="147.3" cy="176.6" r="0.79" fill="#b080cc" opacity="0.33"/><circle cx="134.7" cy="153.0" r="0.90" fill="#b080cc" opacity="0.30"/><circle cx="91.8" cy="134.1" r="1.47" fill="#b080cc" opacity="0.18"/><circle cx="87.3" cy="130.5" r="1.21" fill="#b080cc" opacity="0.02"/><circle cx="123.1" cy="167.2" r="0.96" fill="#6cc878" opacity="0.10"/><circle cx="134.9" cy="148.3" r="0.97" fill="#6cc878" opacity="0.07"/><circle cx="164.0" cy="239.9" r="0.78" fill="#b080cc" opacity="0.37"/><circle cx="154.7" cy="206.5" r="1.22" fill="#b080cc" opacity="0.21"/><circle cx="132.3" cy="189.6" r="1.34" fill="#b080cc" opacity="0.02"/><circle cx="164.9" cy="225.4" r="0.90" fill="#6cc878" opacity="0.20"/><circle cx="128.6" cy="173.9" r="1.22" fill="#6cc878" opacity="0.04"/><circle cx="130.7" cy="167.8" r="1.01" fill="#b080cc" opacity="0.15"/><circle cx="148.0" cy="200.1" r="0.98" fill="#6cc878" opacity="0.34"/><circle cx="118.2" cy="152.6" r="1.47" fill="#6cc878" opacity="0.18"/><circle cx="146.9" cy="168.4" r="1.39" fill="#b080cc" opacity="0.29"/><circle cx="156.4" cy="250.6" r="0.85" fill="#6cc878" opacity="0.23"/><circle cx="155.5" cy="176.1" r="1.00" fill="#6cc878" opacity="0.04"/><circle cx="131.1" cy="174.1" r="1.10" fill="#6cc878" opacity="0.20"/><circle cx="71.0" cy="108.0" r="1.33" fill="#6cc878" opacity="0.34"/><circle cx="100.6" cy="140.0" r="1.27" fill="#b080cc" opacity="0.24"/><circle cx="146.1" cy="169.5" r="0.92" fill="#6cc878" opacity="0.22"/><circle cx="56.2" cy="102.5" r="1.39" fill="#b080cc" opacity="0.21"/><circle cx="44.4" cy="87.2" r="1.32" fill="#6cc878" opacity="0.13"/><circle cx="98.8" cy="138.0" r="1.08" fill="#6cc878" opacity="0.24"/><circle cx="37.6" cy="108.0" r="0.89" fill="#6cc878" opacity="0.16"/><circle cx="44.8" cy="87.3" r="0.95" fill="#6cc878" opacity="0.07"/><circle cx="57.5" cy="95.5" r="1.41" fill="#6cc878" opacity="0.08"/><circle cx="51.9" cy="91.0" r="0.71" fill="#6cc878" opacity="0.27"/><circle cx="160.9" cy="266.1" r="1.01" fill="#6cc878" opacity="0.25"/><circle cx="104.1" cy="119.8" r="1.14" fill="#b080cc" opacity="0.03"/><circle cx="119.2" cy="134.4" r="0.80" fill="#b080cc" opacity="0.19"/><circle cx="129.0" cy="166.0" r="1.44" fill="#b080cc" opacity="0.16"/><circle cx="86.9" cy="119.1" r="1.14" fill="#2aa048" opacity="0.55"/><circle cx="144.4" cy="268.6" r="0.93" fill="#b080cc" opacity="0.01"/><circle cx="81.5" cy="112.1" r="1.38" fill="#b080cc" opacity="0.48"/><circle cx="152.5" cy="209.5" r="1.28" fill="#6cc878" opacity="0.45"/><circle cx="74.0" cy="106.6" r="0.86" fill="#b080cc" opacity="0.15"/><circle cx="44.7" cy="89.9" r="1.39" fill="#b080cc" opacity="0.12"/><circle cx="102.4" cy="131.0" r="0.97" fill="#b080cc" opacity="0.18"/><circle cx="138.9" cy="165.1" r="0.87" fill="#b080cc" opacity="0.25"/><circle cx="152.4" cy="175.2" r="0.73" fill="#b080cc" opacity="0.13"/><circle cx="118.7" cy="138.7" r="1.45" fill="#b080cc" opacity="0.39"/><circle cx="110.7" cy="143.0" r="1.10" fill="#b080cc" opacity="0.28"/><circle cx="150.4" cy="236.4" r="1.02" fill="#b080cc" opacity="0.29"/><circle cx="148.2" cy="252.1" r="1.20" fill="#b080cc" opacity="0.09"/><circle cx="41.5" cy="99.5" r="0.82" fill="#6cc878" opacity="0.15"/><circle cx="40.1" cy="96.4" r="1.40" fill="#b080cc" opacity="0.24"/><circle cx="157.9" cy="225.0" r="0.92" fill="#6cc878" opacity="0.28"/><circle cx="130.0" cy="158.0" r="1.13" fill="#b080cc" opacity="0.17"/><circle cx="59.1" cy="107.1" r="1.43" fill="#6cc878" opacity="0.18"/><circle cx="148.2" cy="215.8" r="0.74" fill="#b080cc" opacity="0.25"/><circle cx="86.8" cy="116.9" r="0.90" fill="#6cc878" opacity="0.20"/><circle cx="76.0" cy="106.5" r="1.00" fill="#6cc878" opacity="0.13"/><circle cx="160.5" cy="238.0" r="0.88" fill="#6cc878" opacity="0.42"/><circle cx="129.7" cy="177.6" r="1.27" fill="#6cc878" opacity="0.07"/><circle cx="147.8" cy="199.3" r="0.84" fill="#b080cc" opacity="0.14"/><circle cx="157.6" cy="201.4" r="1.22" fill="#6cc878" opacity="0.15"/><circle cx="56.2" cy="114.1" r="0.87" fill="#b080cc" opacity="0.06"/><circle cx="139.6" cy="189.0" r="0.77" fill="#6cc878" opacity="0.41"/><circle cx="126.1" cy="149.4" r="0.97" fill="#6cc878" opacity="0.24"/><circle cx="66.8" cy="118.3" r="1.37" fill="#6cc878" opacity="0.10"/><circle cx="126.0" cy="139.6" r="0.89" fill="#6cc878" opacity="0.15"/><circle cx="79.1" cy="117.5" r="1.05" fill="#b080cc" opacity="0.18"/><circle cx="160.1" cy="240.7" r="1.12" fill="#6cc878" opacity="0.18"/><circle cx="45.3" cy="89.1" r="1.28" fill="#b080cc" opacity="0.11"/><circle cx="146.9" cy="170.8" r="1.26" fill="#b080cc" opacity="0.32"/><circle cx="65.9" cy="116.3" r="1.45" fill="#2aa048" opacity="0.40"/><circle cx="136.2" cy="182.9" r="1.49" fill="#b080cc" opacity="0.21"/><circle cx="152.1" cy="209.0" r="1.34" fill="#6cc878" opacity="0.13"/><circle cx="142.6" cy="184.0" r="1.13" fill="#6cc878" opacity="0.20"/><circle cx="147.2" cy="166.7" r="1.06" fill="#6cc878" opacity="0.25"/><circle cx="158.9" cy="190.9" r="0.76" fill="#6cc878" opacity="0.26"/><circle cx="43.4" cy="109.0" r="0.82" fill="#b080cc" opacity="0.10"/><circle cx="40.0" cy="107.8" r="0.76" fill="#6cc878" opacity="0.08"/><circle cx="154.8" cy="245.1" r="0.99" fill="#b080cc" opacity="0.29"/><circle cx="149.1" cy="195.1" r="1.35" fill="#9050b8" opacity="0.62"/><circle cx="97.7" cy="116.1" r="1.40" fill="#6cc878" opacity="0.08"/><circle cx="64.0" cy="113.5" r="0.80" fill="#b080cc" opacity="0.18"/><circle cx="150.3" cy="263.9" r="1.30" fill="#b080cc" opacity="0.15"/><circle cx="154.4" cy="218.8" r="1.24" fill="#6cc878" opacity="0.19"/><circle cx="169.3" cy="254.2" r="1.15" fill="#6cc878" opacity="0.06"/><circle cx="40.4" cy="97.2" r="1.44" fill="#b080cc" opacity="0.36"/><circle cx="147.7" cy="222.0" r="1.35" fill="#6cc878" opacity="0.26"/><circle cx="55.3" cy="113.8" r="1.17" fill="#b080cc" opacity="0.04"/><circle cx="149.7" cy="263.1" r="1.21" fill="#b080cc" opacity="0.20"/><circle cx="128.6" cy="165.4" r="1.49" fill="#6cc878" opacity="0.48"/><circle cx="47.3" cy="92.8" r="1.04" fill="#b080cc" opacity="0.29"/><circle cx="129.8" cy="151.4" r="1.23" fill="#b080cc" opacity="0.30"/><circle cx="149.2" cy="243.3" r="1.42" fill="#6cc878" opacity="0.11"/><circle cx="132.3" cy="148.4" r="1.01" fill="#b080cc" opacity="0.20"/><circle cx="103.1" cy="120.1" r="1.05" fill="#b080cc" opacity="0.17"/><circle cx="87.7" cy="125.9" r="1.03" fill="#b080cc" opacity="0.20"/><circle cx="145.2" cy="182.4" r="0.87" fill="#b080cc" opacity="0.25"/><circle cx="159.4" cy="234.7" r="1.15" fill="#9050b8" opacity="0.62"/><circle cx="148.3" cy="192.0" r="0.71" fill="#b080cc" opacity="0.33"/><circle cx="93.1" cy="110.7" r="0.72" fill="#6cc878" opacity="0.13"/><circle cx="138.2" cy="197.9" r="1.04" fill="#b080cc" opacity="0.16"/><circle cx="156.2" cy="176.6" r="0.79" fill="#b080cc" opacity="0.07"/><circle cx="166.9" cy="245.7" r="1.11" fill="#b080cc" opacity="0.15"/><circle cx="162.0" cy="272.7" r="0.71" fill="#2aa048" opacity="0.55"/><circle cx="119.3" cy="140.4" r="0.78" fill="#b080cc" opacity="0.39"/><circle cx="136.2" cy="165.2" r="1.48" fill="#6cc878" opacity="0.23"/><circle cx="94.8" cy="137.2" r="0.71" fill="#b080cc" opacity="0.06"/><circle cx="56.4" cy="100.0" r="1.39" fill="#6cc878" opacity="0.20"/><circle cx="154.0" cy="205.2" r="1.25" fill="#9050b8" opacity="0.52"/><circle cx="154.0" cy="257.5" r="1.18" fill="#b080cc" opacity="0.16"/><circle cx="102.1" cy="139.9" r="1.07" fill="#6cc878" opacity="0.24"/><circle cx="60.4" cy="101.7" r="1.47" fill="#6cc878" opacity="0.16"/><circle cx="144.3" cy="203.5" r="1.18" fill="#b080cc" opacity="0.35"/><circle cx="155.8" cy="265.9" r="0.98" fill="#b080cc" opacity="0.24"/><circle cx="133.6" cy="164.9" r="1.37" fill="#6cc878" opacity="0.24"/><circle cx="130.4" cy="180.9" r="0.73" fill="#b080cc" opacity="0.05"/><circle cx="136.2" cy="148.4" r="1.46" fill="#6cc878" opacity="0.02"/><circle cx="132.3" cy="169.0" r="1.02" fill="#9050b8" opacity="0.60"/><circle cx="90.6" cy="128.6" r="0.96" fill="#b080cc" opacity="0.16"/><circle cx="151.7" cy="194.3" r="1.34" fill="#b080cc" opacity="0.34"/><circle cx="93.7" cy="115.0" r="1.24" fill="#b080cc" opacity="0.40"/><circle cx="137.7" cy="176.5" r="1.05" fill="#b080cc" opacity="0.27"/><circle cx="92.6" cy="126.4" r="1.15" fill="#2aa048" opacity="0.58"/><circle cx="151.7" cy="190.3" r="1.33" fill="#b080cc" opacity="0.31"/><circle cx="167.5" cy="230.7" r="0.87" fill="#6cc878" opacity="0.05"/><circle cx="57.4" cy="106.4" r="1.06" fill="#b080cc" opacity="0.25"/><circle cx="139.9" cy="194.9" r="1.36" fill="#b080cc" opacity="0.20"/><circle cx="155.2" cy="195.2" r="0.79" fill="#6cc878" opacity="0.19"/><circle cx="164.6" cy="208.7" r="0.75" fill="#6cc878" opacity="0.04"/><circle cx="126.6" cy="159.6" r="1.12" fill="#b080cc" opacity="0.21"/><circle cx="145.0" cy="196.0" r="0.96" fill="#b080cc" opacity="0.16"/><circle cx="96.6" cy="120.9" r="1.11" fill="#6cc878" opacity="0.22"/><circle cx="160.7" cy="192.2" r="1.44" fill="#2aa048" opacity="0.12"/><circle cx="141.4" cy="200.0" r="1.44" fill="#6cc878" opacity="0.34"/><circle cx="140.3" cy="163.9" r="0.89" fill="#6cc878" opacity="0.16"/><circle cx="145.2" cy="172.4" r="1.46" fill="#6cc878" opacity="0.14"/><circle cx="149.0" cy="248.0" r="1.38" fill="#6cc878" opacity="0.13"/><circle cx="150.3" cy="164.6" r="1.26" fill="#b080cc" opacity="0.00"/><circle cx="134.6" cy="159.1" r="1.20" fill="#2aa048" opacity="0.60"/><circle cx="157.8" cy="184.1" r="1.34" fill="#6cc878" opacity="0.10"/><circle cx="118.7" cy="142.0" r="0.86" fill="#b080cc" opacity="0.25"/><circle cx="136.9" cy="176.4" r="1.24" fill="#b080cc" opacity="0.18"/><circle cx="112.1" cy="133.3" r="0.73" fill="#b080cc" opacity="0.32"/><circle cx="156.4" cy="191.8" r="1.10" fill="#2aa048" opacity="0.56"/><circle cx="87.8" cy="121.8" r="1.24" fill="#6cc878" opacity="0.14"/><circle cx="65.3" cy="99.6" r="1.26" fill="#b080cc" opacity="0.16"/><circle cx="164.5" cy="264.5" r="0.91" fill="#b080cc" opacity="0.14"/><circle cx="151.7" cy="209.9" r="1.31" fill="#6cc878" opacity="0.24"/><circle cx="85.9" cy="123.3" r="1.26" fill="#6cc878" opacity="0.16"/><circle cx="145.0" cy="212.1" r="1.10" fill="#6cc878" opacity="0.29"/><circle cx="136.5" cy="200.6" r="1.31" fill="#b080cc" opacity="0.00"/><circle cx="66.0" cy="118.5" r="1.47" fill="#6cc878" opacity="0.01"/><circle cx="59.0" cy="100.9" r="0.84" fill="#6cc878" opacity="0.23"/><circle cx="118.4" cy="148.5" r="0.91" fill="#6cc878" opacity="0.17"/><circle cx="61.6" cy="108.3" r="0.90" fill="#6cc878" opacity="0.16"/><circle cx="39.9" cy="105.7" r="1.44" fill="#6cc878" opacity="0.31"/><circle cx="118.2" cy="148.6" r="0.94" fill="#b080cc" opacity="0.39"/><circle cx="147.5" cy="259.6" r="1.40" fill="#6cc878" opacity="0.14"/><circle cx="143.4" cy="219.5" r="0.77" fill="#6cc878" opacity="0.07"/><circle cx="97.9" cy="122.6" r="1.16" fill="#6cc878" opacity="0.35"/><circle cx="42.1" cy="98.5" r="1.21" fill="#b080cc" opacity="0.21"/><circle cx="70.4" cy="118.1" r="1.22" fill="#6cc878" opacity="0.24"/><circle cx="132.3" cy="157.5" r="1.43" fill="#6cc878" opacity="0.21"/><circle cx="164.4" cy="229.5" r="1.38" fill="#6cc878" opacity="0.13"/><circle cx="154.7" cy="195.4" r="1.46" fill="#6cc878" opacity="0.29"/><circle cx="134.3" cy="148.1" r="1.12" fill="#6cc878" opacity="0.07"/><circle cx="155.2" cy="226.4" r="0.75" fill="#6cc878" opacity="0.31"/><circle cx="161.9" cy="231.9" r="1.26" fill="#b080cc" opacity="0.34"/><circle cx="147.4" cy="259.1" r="1.00" fill="#6cc878" opacity="0.11"/><circle cx="61.2" cy="114.1" r="0.97" fill="#b080cc" opacity="0.16"/><circle cx="148.1" cy="261.0" r="1.05" fill="#b080cc" opacity="0.14"/><circle cx="69.1" cy="118.6" r="0.90" fill="#6cc878" opacity="0.06"/><circle cx="62.1" cy="96.3" r="0.99" fill="#b080cc" opacity="0.03"/><circle cx="149.5" cy="236.0" r="1.12" fill="#6cc878" opacity="0.32"/><circle cx="43.4" cy="110.4" r="0.86" fill="#6cc878" opacity="0.02"/><circle cx="149.5" cy="180.5" r="1.44" fill="#6cc878" opacity="0.33"/><circle cx="165.9" cy="220.0" r="0.89" fill="#6cc878" opacity="0.14"/><circle cx="40.6" cy="106.2" r="1.35" fill="#6cc878" opacity="0.13"/><circle cx="149.2" cy="172.1" r="1.43" fill="#b080cc" opacity="0.26"/><circle cx="161.8" cy="215.4" r="1.09" fill="#b080cc" opacity="0.21"/><circle cx="114.4" cy="157.1" r="1.27" fill="#6cc878" opacity="0.07"/><circle cx="148.1" cy="238.4" r="1.14" fill="#6cc878" opacity="0.22"/><circle cx="151.1" cy="253.6" r="1.13" fill="#6cc878" opacity="0.21"/><circle cx="100.2" cy="116.6" r="0.74" fill="#b080cc" opacity="0.07"/><circle cx="40.0" cy="104.7" r="1.16" fill="#6cc878" opacity="0.38"/><circle cx="110.7" cy="126.1" r="0.82" fill="#6cc878" opacity="0.07"/><circle cx="80.8" cy="118.4" r="0.81" fill="#b080cc" opacity="0.26"/><circle cx="162.9" cy="199.6" r="1.05" fill="#6cc878" opacity="0.07"/><circle cx="146.1" cy="216.7" r="0.87" fill="#b080cc" opacity="0.38"/><circle cx="155.5" cy="188.7" r="0.85" fill="#6cc878" opacity="0.33"/><circle cx="114.5" cy="144.2" r="1.07" fill="#6cc878" opacity="0.17"/><circle cx="147.2" cy="189.1" r="0.99" fill="#6cc878" opacity="0.39"/><circle cx="160.8" cy="199.8" r="0.87" fill="#b080cc" opacity="0.15"/><circle cx="142.0" cy="181.1" r="1.19" fill="#b080cc" opacity="0.28"/><circle cx="149.2" cy="204.0" r="1.29" fill="#b080cc" opacity="0.36"/><circle cx="36.3" cy="106.3" r="1.33" fill="#6cc878" opacity="0.20"/><circle cx="163.0" cy="266.1" r="1.05" fill="#6cc878" opacity="0.18"/><circle cx="162.5" cy="234.3" r="0.89" fill="#b080cc" opacity="0.23"/><circle cx="70.8" cy="105.1" r="1.15" fill="#b080cc" opacity="0.22"/><circle cx="110.3" cy="129.0" r="1.46" fill="#6cc878" opacity="0.26"/><circle cx="38.1" cy="101.4" r="1.11" fill="#b080cc" opacity="0.37"/><circle cx="142.3" cy="185.0" r="0.93" fill="#2aa048" opacity="0.52"/><circle cx="72.3" cy="115.8" r="1.21" fill="#6cc878" opacity="0.32"/><circle cx="144.1" cy="177.7" r="0.83" fill="#6cc878" opacity="0.41"/><circle cx="162.5" cy="215.3" r="1.39" fill="#6cc878" opacity="0.22"/><circle cx="150.3" cy="244.8" r="0.98" fill="#6cc878" opacity="0.13"/><circle cx="46.8" cy="99.7" r="1.35" fill="#b080cc" opacity="0.20"/><circle cx="170.3" cy="268.5" r="1.00" fill="#b080cc" opacity="0.08"/><circle cx="165.0" cy="259.3" r="0.83" fill="#b080cc" opacity="0.24"/><circle cx="40.5" cy="93.5" r="1.44" fill="#6cc878" opacity="0.36"/><circle cx="62.3" cy="115.8" r="0.92" fill="#6cc878" opacity="0.12"/><circle cx="84.5" cy="120.9" r="0.86" fill="#6cc878" opacity="0.22"/><circle cx="88.0" cy="108.9" r="0.82" fill="#b080cc" opacity="0.08"/><circle cx="127.5" cy="142.3" r="1.10" fill="#b080cc" opacity="0.24"/><circle cx="112.0" cy="132.1" r="0.93" fill="#b080cc" opacity="0.24"/><circle cx="92.0" cy="118.1" r="1.38" fill="#6cc878" opacity="0.32"/><circle cx="152.2" cy="260.7" r="1.33" fill="#b080cc" opacity="0.31"/><circle cx="131.3" cy="153.4" r="1.41" fill="#b080cc" opacity="0.25"/><circle cx="147.5" cy="265.4" r="1.34" fill="#b080cc" opacity="0.12"/><circle cx="158.7" cy="192.5" r="0.72" fill="#b080cc" opacity="0.12"/><circle cx="140.7" cy="205.3" r="1.41" fill="#6cc878" opacity="0.07"/><circle cx="118.8" cy="150.0" r="0.93" fill="#b080cc" opacity="0.41"/><circle cx="160.9" cy="229.2" r="1.15" fill="#6cc878" opacity="0.18"/><circle cx="69.2" cy="109.3" r="0.84" fill="#9050b8" opacity="0.53"/><circle cx="165.2" cy="271.6" r="1.21" fill="#6cc878" opacity="0.28"/><circle cx="147.6" cy="238.2" r="0.87" fill="#b080cc" opacity="0.14"/><circle cx="74.2" cy="119.8" r="1.18" fill="#6cc878" opacity="0.15"/><circle cx="160.2" cy="216.0" r="1.24" fill="#6cc878" opacity="0.44"/><circle cx="116.3" cy="147.6" r="0.78" fill="#6cc878" opacity="0.30"/><circle cx="162.6" cy="196.2" r="0.82" fill="#b080cc" opacity="0.04"/><circle cx="150.1" cy="224.6" r="1.36" fill="#6cc878" opacity="0.23"/><circle cx="51.0" cy="101.9" r="1.41" fill="#b080cc" opacity="0.36"/><circle cx="113.7" cy="134.2" r="1.10" fill="#2aa048" opacity="0.53"/><circle cx="38.5" cy="103.2" r="0.97" fill="#6cc878" opacity="0.28"/><circle cx="157.7" cy="194.5" r="0.97" fill="#b080cc" opacity="0.17"/><circle cx="123.5" cy="155.6" r="1.01" fill="#6cc878" opacity="0.25"/><circle cx="155.6" cy="245.8" r="1.10" fill="#6cc878" opacity="0.21"/><circle cx="145.5" cy="242.3" r="0.71" fill="#6cc878" opacity="0.03"/><circle cx="164.0" cy="268.9" r="1.26" fill="#6cc878" opacity="0.26"/><circle cx="67.9" cy="100.1" r="0.78" fill="#b080cc" opacity="0.07"/><circle cx="93.1" cy="122.1" r="1.30" fill="#b080cc" opacity="0.22"/><circle cx="139.0" cy="196.3" r="1.50" fill="#b080cc" opacity="0.28"/><circle cx="43.4" cy="99.9" r="1.46" fill="#b080cc" opacity="0.37"/><circle cx="53.7" cy="90.3" r="0.83" fill="#b080cc" opacity="0.00"/><circle cx="158.0" cy="208.2" r="1.44" fill="#b080cc" opacity="0.26"/><circle cx="71.7" cy="107.7" r="0.75" fill="#b080cc" opacity="0.36"/><circle cx="87.3" cy="116.1" r="0.78" fill="#b080cc" opacity="0.20"/><circle cx="159.6" cy="272.6" r="1.19" fill="#b080cc" opacity="0.37"/><circle cx="79.6" cy="122.0" r="0.83" fill="#6cc878" opacity="0.24"/><circle cx="149.0" cy="201.3" r="1.24" fill="#6cc878" opacity="0.15"/><circle cx="56.2" cy="94.3" r="0.90" fill="#b080cc" opacity="0.33"/><circle cx="40.5" cy="89.6" r="1.33" fill="#b080cc" opacity="0.27"/><circle cx="133.5" cy="165.6" r="1.48" fill="#b080cc" opacity="0.27"/><circle cx="126.6" cy="157.8" r="1.36" fill="#6cc878" opacity="0.21"/><circle cx="155.4" cy="259.5" r="1.10" fill="#b080cc" opacity="0.23"/><circle cx="147.5" cy="166.4" r="0.78" fill="#b080cc" opacity="0.12"/><circle cx="142.1" cy="206.0" r="1.27" fill="#6cc878" opacity="0.15"/><circle cx="54.2" cy="111.7" r="1.42" fill="#b080cc" opacity="0.11"/><circle cx="149.7" cy="197.8" r="0.87" fill="#6cc878" opacity="0.13"/><circle cx="37.8" cy="106.6" r="1.13" fill="#6cc878" opacity="0.20"/><circle cx="131.7" cy="179.1" r="0.81" fill="#6cc878" opacity="0.16"/><circle cx="163.5" cy="272.8" r="0.74" fill="#b080cc" opacity="0.16"/><circle cx="52.7" cy="96.8" r="1.04" fill="#6cc878" opacity="0.40"/><circle cx="84.8" cy="120.7" r="0.71" fill="#6cc878" opacity="0.49"/><circle cx="164.5" cy="232.8" r="1.47" fill="#6cc878" opacity="0.14"/><circle cx="166.1" cy="217.4" r="0.88" fill="#6cc878" opacity="0.07"/><circle cx="103.2" cy="119.9" r="0.74" fill="#6cc878" opacity="0.07"/><circle cx="48.9" cy="109.7" r="0.74" fill="#6cc878" opacity="0.11"/><circle cx="93.0" cy="128.5" r="1.06" fill="#b080cc" opacity="0.36"/><circle cx="132.3" cy="185.2" r="1.31" fill="#6cc878" opacity="0.08"/><circle cx="146.6" cy="162.6" r="1.32" fill="#6cc878" opacity="0.11"/><circle cx="168.1" cy="237.2" r="0.74" fill="#2aa048" opacity="0.21"/><circle cx="131.8" cy="158.4" r="0.72" fill="#b080cc" opacity="0.13"/><circle cx="44.4" cy="94.6" r="0.77" fill="#6cc878" opacity="0.42"/><circle cx="130.3" cy="175.4" r="0.99" fill="#6cc878" opacity="0.21"/><circle cx="148.8" cy="199.3" r="1.13" fill="#b080cc" opacity="0.22"/><circle cx="42.5" cy="95.6" r="0.98" fill="#6cc878" opacity="0.21"/><circle cx="144.2" cy="216.0" r="0.86" fill="#6cc878" opacity="0.28"/><circle cx="78.9" cy="112.6" r="0.83" fill="#6cc878" opacity="0.30"/><circle cx="154.5" cy="273.8" r="0.90" fill="#b080cc" opacity="0.28"/><circle cx="38.9" cy="105.1" r="1.02" fill="#6cc878" opacity="0.28"/><circle cx="108.7" cy="140.8" r="1.42" fill="#b080cc" opacity="0.16"/><circle cx="64.6" cy="108.0" r="0.78" fill="#b080cc" opacity="0.17"/><circle cx="158.7" cy="196.3" r="1.17" fill="#6cc878" opacity="0.30"/><circle cx="59.5" cy="100.2" r="1.19" fill="#b080cc" opacity="0.25"/><circle cx="140.0" cy="163.6" r="0.90" fill="#6cc878" opacity="0.21"/><circle cx="159.8" cy="245.8" r="0.83" fill="#6cc878" opacity="0.17"/><circle cx="34.6" cy="106.7" r="1.25" fill="#6cc878" opacity="0.09"/><circle cx="93.3" cy="130.4" r="1.09" fill="#b080cc" opacity="0.16"/><circle cx="65.3" cy="102.2" r="1.18" fill="#b080cc" opacity="0.14"/><circle cx="78.5" cy="125.3" r="1.09" fill="#b080cc" opacity="0.08"/><circle cx="117.5" cy="149.4" r="0.80" fill="#9050b8" opacity="0.51"/><circle cx="66.4" cy="117.9" r="1.25" fill="#6cc878" opacity="0.04"/><circle cx="122.1" cy="167.9" r="0.76" fill="#b080cc" opacity="0.01"/><circle cx="143.0" cy="187.1" r="1.28" fill="#6cc878" opacity="0.32"/><circle cx="164.8" cy="256.8" r="1.38" fill="#b080cc" opacity="0.20"/><circle cx="126.0" cy="169.0" r="1.13" fill="#6cc878" opacity="0.15"/><circle cx="110.1" cy="141.6" r="1.10" fill="#b080cc" opacity="0.26"/><circle cx="70.5" cy="112.2" r="1.30" fill="#6cc878" opacity="0.17"/><circle cx="127.8" cy="170.1" r="1.27" fill="#b080cc" opacity="0.21"/><circle cx="47.0" cy="112.0" r="0.73" fill="#6cc878" opacity="0.02"/><circle cx="156.2" cy="230.4" r="1.18" fill="#6cc878" opacity="0.38"/><circle cx="99.8" cy="119.1" r="0.84" fill="#6cc878" opacity="0.26"/><circle cx="166.2" cy="236.8" r="1.40" fill="#6cc878" opacity="0.19"/><circle cx="92.2" cy="135.1" r="1.05" fill="#6cc878" opacity="0.07"/><circle cx="159.9" cy="224.2" r="1.47" fill="#6cc878" opacity="0.15"/><circle cx="68.8" cy="117.2" r="1.26" fill="#6cc878" opacity="0.12"/><circle cx="147.0" cy="262.1" r="0.84" fill="#b080cc" opacity="0.10"/><circle cx="146.8" cy="269.8" r="1.26" fill="#b080cc" opacity="0.07"/><circle cx="162.5" cy="238.3" r="0.97" fill="#6cc878" opacity="0.22"/><circle cx="145.2" cy="180.1" r="0.72" fill="#b080cc" opacity="0.23"/><circle cx="65.7" cy="99.6" r="1.34" fill="#6cc878" opacity="0.31"/><circle cx="99.6" cy="133.9" r="1.31" fill="#6cc878" opacity="0.19"/><circle cx="143.0" cy="190.1" r="0.74" fill="#b080cc" opacity="0.24"/><circle cx="143.1" cy="195.3" r="1.07" fill="#6cc878" opacity="0.20"/><circle cx="121.5" cy="145.0" r="1.40" fill="#b080cc" opacity="0.39"/><circle cx="157.2" cy="194.2" r="1.48" fill="#b080cc" opacity="0.23"/><circle cx="148.7" cy="208.1" r="0.79" fill="#6cc878" opacity="0.50"/><circle cx="45.7" cy="96.3" r="0.89" fill="#6cc878" opacity="0.33"/><circle cx="142.3" cy="194.1" r="1.49" fill="#6cc878" opacity="0.18"/><circle cx="124.0" cy="165.5" r="1.37" fill="#6cc878" opacity="0.22"/><circle cx="43.3" cy="100.3" r="1.03" fill="#6cc878" opacity="0.30"/><circle cx="42.6" cy="95.2" r="0.88" fill="#b080cc" opacity="0.42"/><circle cx="53.3" cy="105.8" r="0.94" fill="#9050b8" opacity="0.60"/><circle cx="86.1" cy="113.1" r="0.76" fill="#2aa048" opacity="0.52"/><circle cx="144.4" cy="207.4" r="1.28" fill="#6cc878" opacity="0.16"/><circle cx="152.0" cy="196.1" r="0.88" fill="#6cc878" opacity="0.17"/><circle cx="107.5" cy="141.8" r="1.25" fill="#b080cc" opacity="0.28"/><circle cx="124.7" cy="151.8" r="0.77" fill="#6cc878" opacity="0.21"/><circle cx="61.9" cy="96.1" r="0.86" fill="#b080cc" opacity="0.10"/><circle cx="51.9" cy="110.5" r="1.40" fill="#6cc878" opacity="0.12"/><circle cx="88.9" cy="112.5" r="1.07" fill="#6cc878" opacity="0.22"/><circle cx="49.9" cy="100.6" r="0.95" fill="#b080cc" opacity="0.29"/><circle cx="152.6" cy="200.8" r="0.71" fill="#9050b8" opacity="0.51"/><circle cx="139.8" cy="155.0" r="1.39" fill="#b080cc" opacity="0.15"/><circle cx="146.0" cy="166.6" r="0.72" fill="#6cc878" opacity="0.24"/><circle cx="145.4" cy="235.0" r="0.85" fill="#b080cc" opacity="0.05"/><circle cx="81.5" cy="120.7" r="0.92" fill="#6cc878" opacity="0.42"/><circle cx="136.2" cy="192.4" r="0.74" fill="#b080cc" opacity="0.07"/><circle cx="160.8" cy="254.4" r="1.22" fill="#b080cc" opacity="0.30"/><circle cx="68.9" cy="104.0" r="1.33" fill="#6cc878" opacity="0.33"/><circle cx="107.5" cy="139.8" r="0.98" fill="#6cc878" opacity="0.27"/><circle cx="145.7" cy="225.0" r="1.05" fill="#b080cc" opacity="0.13"/><circle cx="99.8" cy="140.4" r="1.02" fill="#b080cc" opacity="0.14"/><circle cx="111.2" cy="152.5" r="1.32" fill="#6cc878" opacity="0.02"/><circle cx="111.7" cy="138.4" r="0.86" fill="#b080cc" opacity="0.16"/><circle cx="82.3" cy="116.4" r="0.73" fill="#6cc878" opacity="0.37"/><circle cx="153.7" cy="183.3" r="0.79" fill="#b080cc" opacity="0.19"/><circle cx="44.9" cy="107.8" r="1.06" fill="#6cc878" opacity="0.14"/><circle cx="111.3" cy="140.4" r="0.81" fill="#6cc878" opacity="0.21"/><circle cx="153.4" cy="206.6" r="0.83" fill="#6cc878" opacity="0.16"/><circle cx="163.5" cy="248.1" r="0.98" fill="#b080cc" opacity="0.14"/><circle cx="47.6" cy="96.9" r="1.49" fill="#6cc878" opacity="0.28"/><circle cx="74.7" cy="107.9" r="1.16" fill="#b080cc" opacity="0.26"/><circle cx="142.5" cy="163.4" r="1.21" fill="#b080cc" opacity="0.23"/><circle cx="141.3" cy="178.1" r="0.72" fill="#b080cc" opacity="0.25"/><circle cx="145.7" cy="209.0" r="1.23" fill="#b080cc" opacity="0.13"/><circle cx="104.9" cy="140.0" r="1.36" fill="#b080cc" opacity="0.28"/><circle cx="108.0" cy="139.5" r="1.14" fill="#b080cc" opacity="0.15"/><circle cx="144.1" cy="157.4" r="1.42" fill="#b080cc" opacity="0.02"/><circle cx="132.7" cy="177.1" r="0.85" fill="#b080cc" opacity="0.13"/><circle cx="130.8" cy="154.6" r="1.43" fill="#6cc878" opacity="0.15"/><circle cx="157.3" cy="242.1" r="0.77" fill="#b080cc" opacity="0.24"/><circle cx="168.2" cy="252.3" r="1.29" fill="#b080cc" opacity="0.17"/><circle cx="132.5" cy="163.7" r="1.43" fill="#6cc878" opacity="0.20"/><circle cx="52.9" cy="101.0" r="1.45" fill="#6cc878" opacity="0.21"/><circle cx="54.5" cy="108.3" r="0.79" fill="#6cc878" opacity="0.20"/><circle cx="110.5" cy="148.3" r="0.91" fill="#b080cc" opacity="0.19"/><circle cx="136.4" cy="161.2" r="1.36" fill="#6cc878" opacity="0.39"/><circle cx="102.3" cy="118.6" r="0.99" fill="#b080cc" opacity="0.06"/><circle cx="81.4" cy="116.5" r="1.49" fill="#6cc878" opacity="0.31"/><circle cx="97.3" cy="138.9" r="0.90" fill="#6cc878" opacity="0.13"/><circle cx="44.2" cy="90.6" r="0.98" fill="#6cc878" opacity="0.41"/><circle cx="154.6" cy="195.7" r="1.10" fill="#2aa048" opacity="0.53"/><circle cx="133.8" cy="172.6" r="1.15" fill="#6cc878" opacity="0.43"/><circle cx="143.9" cy="215.3" r="0.75" fill="#b080cc" opacity="0.16"/><circle cx="166.1" cy="260.9" r="0.75" fill="#6cc878" opacity="0.18"/><circle cx="149.5" cy="187.0" r="0.87" fill="#6cc878" opacity="0.19"/><circle cx="136.4" cy="169.2" r="0.94" fill="#b080cc" opacity="0.49"/><circle cx="49.3" cy="110.6" r="0.74" fill="#6cc878" opacity="0.17"/><circle cx="167.0" cy="255.9" r="1.02" fill="#6cc878" opacity="0.11"/><circle cx="135.2" cy="189.5" r="1.19" fill="#6cc878" opacity="0.08"/><circle cx="96.0" cy="117.9" r="0.88" fill="#b080cc" opacity="0.16"/><circle cx="157.2" cy="217.3" r="1.06" fill="#b080cc" opacity="0.26"/><circle cx="89.8" cy="110.5" r="1.42" fill="#b080cc" opacity="0.10"/><circle cx="105.4" cy="145.6" r="1.11" fill="#6cc878" opacity="0.06"/><circle cx="167.8" cy="266.6" r="1.29" fill="#b080cc" opacity="0.13"/><circle cx="137.6" cy="184.5" r="1.28" fill="#b080cc" opacity="0.18"/><circle cx="39.9" cy="98.4" r="1.43" fill="#b080cc" opacity="0.30"/><circle cx="113.9" cy="142.0" r="0.86" fill="#6cc878" opacity="0.17"/><circle cx="111.8" cy="143.1" r="0.76" fill="#b080cc" opacity="0.21"/><circle cx="68.7" cy="114.2" r="0.76" fill="#b080cc" opacity="0.16"/><circle cx="149.4" cy="250.8" r="1.47" fill="#6cc878" opacity="0.28"/><circle cx="100.7" cy="116.6" r="0.98" fill="#6cc878" opacity="0.06"/><circle cx="106.2" cy="127.2" r="1.21" fill="#6cc878" opacity="0.24"/><circle cx="105.0" cy="126.3" r="1.08" fill="#6cc878" opacity="0.20"/><circle cx="158.2" cy="235.3" r="1.22" fill="#6cc878" opacity="0.37"/><circle cx="102.8" cy="129.1" r="1.32" fill="#b080cc" opacity="0.22"/><circle cx="51.4" cy="90.9" r="1.33" fill="#6cc878" opacity="0.18"/><circle cx="165.0" cy="252.0" r="0.96" fill="#b080cc" opacity="0.34"/><circle cx="161.5" cy="255.4" r="0.96" fill="#9050b8" opacity="0.58"/><circle cx="159.6" cy="222.7" r="1.02" fill="#b080cc" opacity="0.46"/><circle cx="48.4" cy="107.6" r="1.07" fill="#6cc878" opacity="0.21"/><circle cx="154.6" cy="238.1" r="1.05" fill="#b080cc" opacity="0.37"/><circle cx="143.4" cy="208.4" r="0.80" fill="#6cc878" opacity="0.21"/><circle cx="38.0" cy="106.1" r="1.23" fill="#6cc878" opacity="0.10"/><circle cx="67.3" cy="118.2" r="0.89" fill="#2aa048" opacity="0.11"/><circle cx="119.4" cy="146.2" r="1.46" fill="#6cc878" opacity="0.21"/><circle cx="67.8" cy="115.6" r="0.70" fill="#6cc878" opacity="0.26"/><circle cx="94.7" cy="111.8" r="1.07" fill="#6cc878" opacity="0.02"/><circle cx="160.4" cy="260.7" r="1.02" fill="#b080cc" opacity="0.15"/><circle cx="48.9" cy="109.7" r="1.20" fill="#6cc878" opacity="0.26"/><circle cx="67.5" cy="100.0" r="1.14" fill="#6cc878" opacity="0.09"/><circle cx="155.2" cy="197.8" r="1.48" fill="#6cc878" opacity="0.31"/><circle cx="157.7" cy="213.0" r="1.42" fill="#b080cc" opacity="0.15"/><circle cx="126.0" cy="139.4" r="1.29" fill="#9050b8" opacity="0.17"/><circle cx="147.1" cy="185.3" r="1.42" fill="#b080cc" opacity="0.25"/><circle cx="162.5" cy="202.3" r="1.42" fill="#6cc878" opacity="0.16"/><circle cx="160.4" cy="196.7" r="1.00" fill="#6cc878" opacity="0.21"/><circle cx="57.8" cy="104.2" r="0.80" fill="#6cc878" opacity="0.13"/><circle cx="78.5" cy="107.8" r="0.74" fill="#b080cc" opacity="0.33"/><circle cx="43.5" cy="87.8" r="0.87" fill="#6cc878" opacity="0.13"/><circle cx="153.3" cy="261.8" r="1.17" fill="#6cc878" opacity="0.26"/><circle cx="123.9" cy="156.6" r="1.48" fill="#b080cc" opacity="0.33"/><circle cx="117.1" cy="143.5" r="0.77" fill="#b080cc" opacity="0.17"/><circle cx="116.6" cy="147.0" r="0.77" fill="#6cc878" opacity="0.26"/><circle cx="87.0" cy="120.5" r="1.19" fill="#b080cc" opacity="0.22"/><circle cx="156.5" cy="181.8" r="0.97" fill="#b080cc" opacity="0.11"/><circle cx="149.8" cy="248.4" r="0.85" fill="#b080cc" opacity="0.20"/><circle cx="167.9" cy="245.8" r="1.30" fill="#6cc878" opacity="0.14"/><circle cx="158.3" cy="228.7" r="1.47" fill="#9050b8" opacity="0.62"/><circle cx="156.0" cy="185.4" r="1.46" fill="#6cc878" opacity="0.11"/><circle cx="142.8" cy="212.7" r="1.19" fill="#b080cc" opacity="0.12"/><circle cx="70.5" cy="104.7" r="0.97" fill="#b080cc" opacity="0.40"/><circle cx="139.0" cy="188.2" r="1.26" fill="#2aa048" opacity="0.51"/><circle cx="119.4" cy="147.9" r="1.06" fill="#6cc878" opacity="0.15"/><circle cx="161.9" cy="235.6" r="1.06" fill="#b080cc" opacity="0.17"/><circle cx="163.9" cy="212.3" r="0.72" fill="#6cc878" opacity="0.22"/><circle cx="137.0" cy="162.7" r="1.01" fill="#6cc878" opacity="0.23"/><circle cx="39.7" cy="105.5" r="0.97" fill="#6cc878" opacity="0.39"/><circle cx="75.7" cy="108.6" r="1.23" fill="#6cc878" opacity="0.22"/><circle cx="163.9" cy="232.2" r="1.18" fill="#b080cc" opacity="0.13"/><circle cx="147.1" cy="271.5" r="0.87" fill="#b080cc" opacity="0.14"/><circle cx="115.6" cy="152.2" r="0.85" fill="#b080cc" opacity="0.17"/><circle cx="64.1" cy="113.9" r="0.81" fill="#b080cc" opacity="0.17"/><circle cx="93.2" cy="126.9" r="0.76" fill="#6cc878" opacity="0.18"/><circle cx="168.2" cy="250.5" r="1.14" fill="#b080cc" opacity="0.12"/><circle cx="63.8" cy="101.4" r="1.35" fill="#b080cc" opacity="0.42"/><circle cx="55.0" cy="113.4" r="0.79" fill="#6cc878" opacity="0.06"/><circle cx="135.9" cy="193.0" r="1.00" fill="#6cc878" opacity="0.12"/><circle cx="42.4" cy="94.2" r="1.41" fill="#b080cc" opacity="0.14"/><circle cx="78.5" cy="121.2" r="0.83" fill="#6cc878" opacity="0.18"/><circle cx="158.3" cy="184.0" r="0.94" fill="#9050b8" opacity="0.15"/><circle cx="133.1" cy="182.2" r="1.27" fill="#b080cc" opacity="0.29"/><circle cx="150.4" cy="183.4" r="1.20" fill="#6cc878" opacity="0.47"/><circle cx="152.5" cy="181.7" r="1.44" fill="#6cc878" opacity="0.23"/><circle cx="149.2" cy="247.4" r="0.89" fill="#b080cc" opacity="0.12"/><circle cx="151.1" cy="236.8" r="1.01" fill="#6cc878" opacity="0.21"/><circle cx="69.0" cy="119.3" r="1.00" fill="#6cc878" opacity="0.01"/><circle cx="151.5" cy="253.9" r="0.75" fill="#b080cc" opacity="0.41"/><circle cx="149.2" cy="174.2" r="1.49" fill="#6cc878" opacity="0.44"/><circle cx="96.1" cy="121.8" r="1.47" fill="#6cc878" opacity="0.50"/><circle cx="113.6" cy="149.9" r="0.80" fill="#6cc878" opacity="0.18"/><circle cx="108.2" cy="127.2" r="1.44" fill="#6cc878" opacity="0.13"/><circle cx="166.3" cy="237.2" r="1.02" fill="#b080cc" opacity="0.27"/><circle cx="102.4" cy="144.7" r="1.12" fill="#b080cc" opacity="0.02"/><circle cx="137.1" cy="192.0" r="1.18" fill="#6cc878" opacity="0.15"/><circle cx="136.3" cy="198.1" r="1.37" fill="#b080cc" opacity="0.10"/><circle cx="153.8" cy="209.8" r="0.82" fill="#6cc878" opacity="0.33"/><circle cx="142.7" cy="200.8" r="1.31" fill="#6cc878" opacity="0.42"/><circle cx="145.4" cy="212.9" r="1.07" fill="#6cc878" opacity="0.35"/><circle cx="72.5" cy="118.6" r="0.78" fill="#6cc878" opacity="0.21"/><circle cx="151.6" cy="269.6" r="1.12" fill="#6cc878" opacity="0.31"/><circle cx="116.9" cy="139.9" r="0.98" fill="#6cc878" opacity="0.42"/><circle cx="149.6" cy="227.4" r="1.08" fill="#6cc878" opacity="0.22"/><circle cx="101.1" cy="127.9" r="1.38" fill="#b080cc" opacity="0.42"/><circle cx="129.3" cy="142.1" r="1.11" fill="#b080cc" opacity="0.03"/><circle cx="140.9" cy="192.7" r="1.30" fill="#b080cc" opacity="0.39"/><circle cx="153.1" cy="198.1" r="0.70" fill="#b080cc" opacity="0.18"/><circle cx="36.2" cy="103.5" r="1.35" fill="#b080cc" opacity="0.26"/><circle cx="78.4" cy="118.0" r="1.35" fill="#b080cc" opacity="0.25"/><circle cx="105.0" cy="144.9" r="1.24" fill="#b080cc" opacity="0.15"/><circle cx="69.6" cy="100.8" r="1.41" fill="#6cc878" opacity="0.15"/><circle cx="81.6" cy="125.5" r="0.75" fill="#b080cc" opacity="0.04"/><circle cx="100.5" cy="139.8" r="1.10" fill="#9050b8" opacity="0.38"/><circle cx="99.7" cy="136.5" r="1.01" fill="#b080cc" opacity="0.18"/><circle cx="169.6" cy="233.5" r="1.39" fill="#b080cc" opacity="0.01"/><circle cx="77.7" cy="106.2" r="0.72" fill="#b080cc" opacity="0.30"/><circle cx="89.9" cy="115.7" r="0.76" fill="#b080cc" opacity="0.48"/><circle cx="161.4" cy="230.1" r="0.97" fill="#6cc878" opacity="0.22"/><circle cx="104.2" cy="123.0" r="1.37" fill="#b080cc" opacity="0.32"/><circle cx="62.6" cy="114.7" r="1.27" fill="#b080cc" opacity="0.10"/><circle cx="75.7" cy="109.3" r="1.49" fill="#6cc878" opacity="0.18"/><circle cx="107.9" cy="149.5" r="0.92" fill="#b080cc" opacity="0.06"/><circle cx="152.0" cy="231.4" r="1.18" fill="#6cc878" opacity="0.13"/><circle cx="122.6" cy="141.1" r="1.37" fill="#b080cc" opacity="0.23"/><circle cx="148.0" cy="196.5" r="1.12" fill="#6cc878" opacity="0.13"/><circle cx="91.1" cy="131.4" r="1.32" fill="#b080cc" opacity="0.27"/><circle cx="154.7" cy="182.6" r="0.76" fill="#6cc878" opacity="0.26"/><circle cx="35.5" cy="102.2" r="1.24" fill="#6cc878" opacity="0.39"/><circle cx="141.8" cy="211.7" r="0.89" fill="#b080cc" opacity="0.16"/><circle cx="143.8" cy="154.5" r="1.34" fill="#6cc878" opacity="0.01"/><circle cx="75.7" cy="122.3" r="1.33" fill="#6cc878" opacity="0.03"/><circle cx="141.7" cy="195.0" r="1.12" fill="#6cc878" opacity="0.35"/><circle cx="109.4" cy="125.3" r="0.84" fill="#6cc878" opacity="0.04"/><circle cx="126.5" cy="152.1" r="1.38" fill="#6cc878" opacity="0.25"/><circle cx="148.9" cy="247.8" r="1.14" fill="#b080cc" opacity="0.28"/><circle cx="74.1" cy="110.7" r="1.26" fill="#6cc878" opacity="0.49"/><circle cx="169.2" cy="261.7" r="0.89" fill="#b080cc" opacity="0.00"/><circle cx="161.0" cy="263.1" r="1.10" fill="#6cc878" opacity="0.32"/><circle cx="99.8" cy="118.8" r="1.31" fill="#b080cc" opacity="0.19"/><circle cx="64.6" cy="114.2" r="1.01" fill="#b080cc" opacity="0.23"/><circle cx="145.5" cy="225.9" r="1.34" fill="#9050b8" opacity="0.23"/><circle cx="148.2" cy="213.9" r="0.97" fill="#6cc878" opacity="0.35"/><circle cx="77.1" cy="110.5" r="1.26" fill="#b080cc" opacity="0.18"/><circle cx="78.2" cy="119.3" r="0.71" fill="#b080cc" opacity="0.27"/><circle cx="165.5" cy="244.7" r="1.22" fill="#b080cc" opacity="0.23"/><circle cx="139.6" cy="202.3" r="0.97" fill="#6cc878" opacity="0.11"/><circle cx="155.4" cy="188.9" r="0.73" fill="#6cc878" opacity="0.20"/><circle cx="83.8" cy="123.4" r="0.72" fill="#6cc878" opacity="0.17"/><circle cx="119.6" cy="138.1" r="1.03" fill="#6cc878" opacity="0.22"/><circle cx="149.8" cy="226.3" r="1.22" fill="#b080cc" opacity="0.21"/><circle cx="118.0" cy="134.7" r="1.13" fill="#6cc878" opacity="0.32"/><circle cx="145.8" cy="228.4" r="0.76" fill="#6cc878" opacity="0.06"/><circle cx="44.8" cy="102.7" r="1.33" fill="#2aa048" opacity="0.54"/><circle cx="156.1" cy="195.1" r="1.29" fill="#6cc878" opacity="0.41"/><circle cx="168.8" cy="272.2" r="0.81" fill="#b080cc" opacity="0.05"/><circle cx="156.0" cy="243.2" r="1.18" fill="#b080cc" opacity="0.16"/><circle cx="83.7" cy="110.7" r="0.99" fill="#6cc878" opacity="0.25"/><circle cx="121.8" cy="144.9" r="1.25" fill="#b080cc" opacity="0.40"/><circle cx="131.2" cy="145.3" r="0.82" fill="#6cc878" opacity="0.06"/><circle cx="164.9" cy="248.8" r="1.32" fill="#b080cc" opacity="0.16"/><circle cx="154.2" cy="176.7" r="0.96" fill="#2aa048" opacity="0.22"/><circle cx="160.0" cy="253.9" r="1.01" fill="#6cc878" opacity="0.41"/><circle cx="147.9" cy="270.2" r="1.20" fill="#b080cc" opacity="0.28"/><circle cx="140.4" cy="154.0" r="1.35" fill="#6cc878" opacity="0.11"/><circle cx="144.8" cy="210.0" r="1.27" fill="#6cc878" opacity="0.26"/><circle cx="45.3" cy="107.3" r="1.25" fill="#6cc878" opacity="0.13"/><circle cx="67.5" cy="99.1" r="1.10" fill="#6cc878" opacity="0.10"/><circle cx="149.7" cy="213.9" r="0.81" fill="#6cc878" opacity="0.20"/><circle cx="141.9" cy="212.3" r="0.80" fill="#b080cc" opacity="0.09"/><circle cx="144.8" cy="193.9" r="1.44" fill="#6cc878" opacity="0.34"/><circle cx="67.5" cy="106.2" r="0.84" fill="#6cc878" opacity="0.29"/><circle cx="146.1" cy="245.7" r="0.88" fill="#6cc878" opacity="0.04"/><circle cx="101.0" cy="124.2" r="0.76" fill="#b080cc" opacity="0.13"/><circle cx="39.1" cy="104.3" r="1.48" fill="#b080cc" opacity="0.17"/><circle cx="43.8" cy="106.4" r="1.12" fill="#b080cc" opacity="0.13"/><circle cx="166.6" cy="222.2" r="1.20" fill="#b080cc" opacity="0.11"/><circle cx="146.1" cy="239.0" r="0.87" fill="#b080cc" opacity="0.14"/><circle cx="116.3" cy="155.0" r="1.18" fill="#6cc878" opacity="0.31"/><circle cx="51.5" cy="103.2" r="1.37" fill="#b080cc" opacity="0.32"/><circle cx="64.9" cy="114.0" r="1.02" fill="#6cc878" opacity="0.15"/><circle cx="95.4" cy="131.8" r="0.73" fill="#6cc878" opacity="0.24"/><circle cx="153.5" cy="174.0" r="1.48" fill="#6cc878" opacity="0.06"/><circle cx="164.2" cy="212.2" r="0.91" fill="#6cc878" opacity="0.13"/><circle cx="67.3" cy="113.9" r="1.44" fill="#9050b8" opacity="0.51"/><circle cx="110.2" cy="130.5" r="1.16" fill="#b080cc" opacity="0.26"/><circle cx="144.4" cy="192.7" r="0.89" fill="#b080cc" opacity="0.33"/><circle cx="123.2" cy="154.3" r="0.83" fill="#6cc878" opacity="0.29"/><circle cx="161.6" cy="252.7" r="1.19" fill="#b080cc" opacity="0.37"/><circle cx="83.1" cy="118.4" r="1.09" fill="#b080cc" opacity="0.20"/><circle cx="45.3" cy="98.4" r="1.48" fill="#6cc878" opacity="0.41"/><circle cx="47.8" cy="100.4" r="1.13" fill="#6cc878" opacity="0.28"/><circle cx="140.1" cy="190.0" r="1.24" fill="#6cc878" opacity="0.26"/><circle cx="110.1" cy="135.9" r="1.16" fill="#6cc878" opacity="0.28"/><circle cx="161.6" cy="266.7" r="0.74" fill="#6cc878" opacity="0.33"/><circle cx="130.8" cy="182.2" r="1.04" fill="#b080cc" opacity="0.06"/><circle cx="58.1" cy="104.6" r="1.43" fill="#b080cc" opacity="0.20"/><circle cx="169.1" cy="240.4" r="1.25" fill="#b080cc" opacity="0.08"/><circle cx="161.8" cy="201.1" r="0.91" fill="#6cc878" opacity="0.11"/><circle cx="161.8" cy="243.7" r="1.10" fill="#6cc878" opacity="0.29"/><circle cx="42.0" cy="93.7" r="1.44" fill="#6cc878" opacity="0.34"/><circle cx="39.9" cy="104.7" r="1.30" fill="#6cc878" opacity="0.36"/><circle cx="149.8" cy="222.5" r="1.08" fill="#b080cc" opacity="0.30"/><circle cx="155.4" cy="235.5" r="1.08" fill="#b080cc" opacity="0.13"/><circle cx="148.0" cy="196.0" r="1.33" fill="#b080cc" opacity="0.27"/><circle cx="142.0" cy="169.2" r="0.72" fill="#b080cc" opacity="0.16"/><circle cx="160.4" cy="273.5" r="1.05" fill="#6cc878" opacity="0.28"/><circle cx="116.7" cy="150.4" r="0.70" fill="#6cc878" opacity="0.15"/><circle cx="152.6" cy="247.2" r="1.02" fill="#b080cc" opacity="0.19"/><circle cx="43.7" cy="95.4" r="0.85" fill="#b080cc" opacity="0.33"/><circle cx="127.3" cy="143.4" r="0.95" fill="#6cc878" opacity="0.28"/><circle cx="85.2" cy="121.9" r="1.22" fill="#b080cc" opacity="0.13"/><circle cx="112.7" cy="137.8" r="0.92" fill="#b080cc" opacity="0.21"/></g>
<path d="M156.1,0.0L156.1,0.4L156.1,0.8L156.1,1.2L156.1,1.6L156.1,2.0L156.1,2.4L156.1,2.8L156.1,3.2L156.1,3.6L156.1,4.0L156.1,4.4L156.1,4.8L156.1,5.2L156.1,5.6L156.1,6.0L156.1,6.4L156.1,6.8L156.1,7.2L156.1,7.6L156.1,8.0L156.1,8.4L156.1,8.8L156.1,9.2L156.1,9.6L156.1,10.0L156.1,10.4L156.1,10.8L156.1,11.2L156.1,11.6L156.1,12.0L156.1,12.4L156.1,12.8L156.1,13.2L156.1,13.6L156.1,14.0L156.1,14.4L156.1,14.8L156.1,15.2L156.1,15.6L156.1,16.0L156.1,16.4L156.1,16.8L156.1,17.2L156.1,17.6L156.1,18.0L156.1,18.4L156.1,18.8L156.1,19.2L156.1,19.6L156.1,20.0L156.1,20.4L156.1,20.8L156.1,21.2L156.1,21.6L156.1,22.0L156.1,22.4L156.1,22.8L156.1,23.2L156.1,23.6L156.1,24.0L156.1,24.4L156.1,24.8L156.1,25.2L156.1,25.6L156.1,26.0L156.1,26.4L156.1,26.8L156.1,27.2L156.1,27.6L156.1,28.0L156.1,28.4L156.1,28.8L156.1,29.2L156.1,29.6L156.1,30.0L156.1,30.4L156.1,30.8L156.1,31.2L156.1,31.6L156.1,32.0L156.1,32.4L156.1,32.8L156.1,33.2L156.1,33.6L156.1,34.0L156.1,34.4L156.1,34.8L156.1,35.2L156.1,35.6L156.1,36.0L156.1,36.4L156.1,36.8L156.1,37.2L156.1,37.6L156.1,38.0L156.1,38.4L156.1,38.8L156.1,39.2L156.1,39.6L156.1,40.0L156.1,40.4L156.1,40.8L156.1,41.2L156.1,41.6L156.1,42.0L156.1,42.4L156.1,42.8L156.1,43.2L156.1,43.6L156.1,44.0L156.1,44.4L156.1,44.8L156.1,45.2L156.1,45.6L156.1,46.0L156.1,46.4L156.1,46.8L156.1,47.2L156.1,47.6L156.1,48.0L156.1,48.4L156.1,48.8L156.1,49.2L156.1,49.6L156.1,50.0L156.1,50.4L156.1,50.8L156.1,51.2L156.1,51.6L156.1,52.0L156.1,52.4L156.1,52.8L156.1,53.2L156.1,53.6M156.1,76.0L156.1,76.4L156.1,76.8L156.1,77.2L156.1,77.6L156.1,78.0L156.1,78.4L156.1,78.8L156.1,79.2L156.1,79.6L156.1,80.0L156.1,80.4L156.1,80.8L156.1,81.2L156.1,81.6L156.1,82.0L156.1,82.4L156.1,82.8L156.1,83.2L156.1,83.6L156.1,84.0L156.1,84.4L156.1,84.8L156.1,85.2L156.1,85.6L156.1,86.0L156.1,86.4L156.1,86.8L156.1,87.2L156.1,87.6L156.1,88.0L156.1,88.4L156.2,88.8L156.2,89.2L156.2,89.6L156.2,90.0L156.2,90.4L156.2,90.8L156.3,91.2L156.3,91.6L156.3,92.0L156.3,92.4L156.4,92.8L156.4,93.2L156.4,93.6L156.5,94.0L156.5,94.4L156.6,94.8L156.6,95.2L156.7,95.6L156.7,96.0L156.8,96.4L156.9,96.8L156.9,97.2L157.0,97.6L157.1,97.9L157.1,98.3L157.2,98.7L157.3,99.1L157.4,99.5L157.4,99.9L157.5,100.3L157.6,100.7L157.7,101.1L157.8,101.5L157.9,101.9L158.0,102.2L158.1,102.6L158.2,103.0L158.3,103.4L158.4,103.8L158.5,104.2L158.6,104.6L158.7,105.0L158.8,105.3L158.9,105.7L159.0,106.1L159.1,106.5L159.3,106.9L159.4,107.3L159.5,107.6L159.6,108.0L159.7,108.4L159.8,108.8L160.0,109.2L160.1,109.6L160.2,109.9L160.3,110.3L160.4,110.7L160.5,111.1L160.6,111.5L160.8,111.9L160.9,112.2L161.0,112.6L161.1,113.0L161.3,113.4L161.4,113.7L161.5,114.1L161.7,114.5L161.8,114.9L162.0,115.2L162.1,115.6L162.3,116.0L162.5,116.3L162.6,116.7L162.8,117.1L162.9,117.4L163.1,117.8L163.3,118.2L163.4,118.5L163.6,118.9L163.7,119.3L163.9,119.7L164.0,120.0L164.2,120.4L164.3,120.8L164.4,121.1L164.6,121.5L164.7,121.9L164.9,122.3L165.0,122.6L165.2,123.0L165.3,123.4L165.5,123.8L165.6,124.1L165.8,124.5L165.9,124.9L166.0,125.2L166.2,125.6L166.3,126.0L166.5,126.4L166.6,126.7L166.8,127.1L166.9,127.5L167.1,127.8L167.2,128.2L167.4,128.6L167.5,129.0L167.7,129.3L167.8,129.7L167.9,130.1L168.1,130.5L168.2,130.8L168.4,131.2L168.5,131.6L168.7,131.9L168.8,132.3L169.0,132.7L169.1,133.1L169.3,133.4L169.4,133.8L169.6,134.2L169.7,134.5L169.9,134.9L170.0,135.3L170.1,135.7L170.3,136.0L170.4,136.4L170.6,136.8L170.7,137.1L170.9,137.5L171.0,137.9L171.2,138.3L171.3,138.6L171.5,139.0L171.6,139.4L171.8,139.7L171.9,140.1L172.1,140.5L172.2,140.9L172.4,141.2L172.5,141.6L172.7,142.0L172.8,142.3L173.0,142.7L173.1,143.1L173.3,143.5L173.4,143.8L173.6,144.2L173.7,144.6L173.9,144.9L174.0,145.3L174.2,145.7L174.3,146.0L174.5,146.4L174.6,146.8L174.8,147.2L174.9,147.5L175.1,147.9L175.2,148.3L175.4,148.6L175.6,149.0L175.7,149.4L175.9,149.8L176.0,150.1L176.2,150.5L176.3,150.9L176.5,151.2L176.6,151.6L176.8,152.0L176.9,152.3L177.1,152.7L177.2,153.1L177.4,153.5L177.5,153.8L177.7,154.2L177.8,154.6L178.0,154.9L178.1,155.3L178.3,155.7L178.4,156.1L178.6,156.4L178.7,156.8L178.9,157.2L179.0,157.5L179.2,157.9L179.3,158.3L179.5,158.6L179.6,159.0L179.8,159.4L179.9,159.8L180.1,160.1L180.2,160.5L180.3,160.9L180.5,161.2L180.6,161.6L180.8,162.0L180.9,162.4L181.1,162.7L181.2,163.1L181.4,163.5L181.5,163.9L181.7,164.2L181.8,164.6L182.0,165.0L182.1,165.3L182.3,165.7L182.4,166.1L182.6,166.5L182.7,166.8L182.8,167.2L183.0,167.6L183.1,167.9L183.3,168.3L183.4,168.7L183.6,169.1L183.7,169.4L183.9,169.8L184.0,170.2L184.2,170.6L184.3,170.9L184.5,171.3L184.6,171.7L184.7,172.0L184.9,172.4L185.0,172.8L185.2,173.2L185.3,173.5L185.5,173.9L185.6,174.3L185.8,174.7L185.9,175.0L186.0,175.4L186.2,175.8L186.3,176.1L186.5,176.5L186.6,176.9L186.8,177.3L186.9,177.6L187.0,178.0L187.2,178.4L187.3,178.8L187.5,179.1L187.6,179.5L187.8,179.9L187.9,180.3L188.0,180.6L188.2,181.0L188.3,181.4L188.5,181.8L188.6,182.1L188.7,182.5L188.9,182.9L189.0,183.3L189.1,183.6L189.3,184.0L189.4,184.4L189.6,184.8L189.7,185.1L189.8,185.5L190.0,185.9L190.1,186.3L190.2,186.6L190.4,187.0L190.5,187.4L190.6,187.8L190.8,188.2L190.9,188.5L191.0,188.9L191.2,189.3L191.3,189.7L191.4,190.0L191.6,190.4L191.7,190.8L191.8,191.2L192.0,191.5L192.1,191.9L192.2,192.3L192.4,192.7L192.5,193.0L192.7,193.4L192.8,193.8L192.9,194.2L193.1,194.5L193.2,194.9L193.4,195.3L193.6,195.7L193.7,196.0L193.9,196.4L194.0,196.8L194.2,197.1L194.3,197.5L194.5,197.9L194.6,198.2L194.8,198.6L195.0,199.0L195.1,199.3L195.3,199.7L195.4,200.1L195.5,200.5L195.7,200.8L195.8,201.2L196.0,201.6L196.1,202.0L196.2,202.3L196.3,202.7L196.5,203.1L196.6,203.5L196.7,203.9L196.8,204.3L196.9,204.6L197.0,205.0L197.1,205.4L197.2,205.8L197.3,206.2L197.4,206.6L197.5,207.0L197.5,207.4L197.6,207.8L197.7,208.1L197.8,208.5L197.9,208.9L197.9,209.3L198.0,209.7L198.1,210.1L198.1,210.5L198.2,210.9L198.3,211.3L198.4,211.7L198.4,212.1L198.5,212.5L198.5,212.9L198.6,213.3L198.7,213.7L198.7,214.1L198.8,214.5L198.8,214.8L198.9,215.2L199.0,215.6L199.0,216.0L199.1,216.4L199.1,216.8L199.2,217.2L199.2,217.6L199.3,218.0L199.4,218.4L199.4,218.8L199.5,219.2L199.5,219.6L199.6,220.0L199.6,220.4L199.7,220.8L199.7,221.2L199.8,221.6L199.8,222.0L199.9,222.4L199.9,222.8L200.0,223.2L200.0,223.6L200.1,224.0L200.1,224.4L200.2,224.8L200.2,225.2L200.3,225.6L200.3,225.9L200.4,226.3L200.4,226.7L200.5,227.1L200.5,227.5L200.6,227.9L200.6,228.3L200.7,228.7L200.7,229.1L200.7,229.5L200.8,229.9L200.8,230.3L200.9,230.7L200.9,231.1L200.9,231.5L201.0,231.9L201.0,232.3L201.1,232.7L201.1,233.1L201.1,233.5L201.2,233.9L201.2,234.3L201.2,234.7L201.3,235.1L201.3,235.5L201.3,235.9L201.4,236.3L201.4,236.7L201.4,237.1L201.4,237.5L201.5,237.9L201.5,238.3L201.5,238.7L201.5,239.1L201.6,239.5L201.6,239.9L201.6,240.3L201.6,240.7L201.7,241.1L201.7,241.5L201.7,241.9L201.7,242.3L201.7,242.7L201.7,243.1L201.8,243.5L201.8,243.9L201.8,244.3L201.8,244.7L201.8,245.1L201.8,245.5L201.8,245.9L201.9,246.3L201.9,246.7L201.9,247.1L201.9,247.5L201.9,247.9L201.9,248.3L201.9,248.7L201.9,249.1L201.9,249.5L201.9,249.9L201.9,250.3L201.9,250.7L202.0,251.1L202.0,251.5L202.0,251.9L202.0,252.3L202.0,252.7L202.0,253.1L202.0,253.5L202.0,253.9L202.0,254.3L202.0,254.7L202.0,255.1L202.0,255.5L202.0,255.9L202.0,256.3L202.0,256.7L202.0,257.1L202.0,257.5L202.0,257.9L202.0,258.3L202.0,258.7L202.0,259.1L202.0,259.5L202.0,259.9L202.0,260.3L202.0,260.7L202.0,261.1L202.0,261.5L202.0,261.9L202.0,262.3L201.9,262.7L201.9,263.1L201.9,263.5L201.9,263.9L201.9,264.3L201.9,264.7L201.9,265.1L201.9,265.5L201.9,265.9L201.9,266.3L201.9,266.7L201.9,267.1L201.8,267.5L201.8,267.9L201.8,268.3L201.8,268.7L201.8,269.1L201.8,269.5L201.8,269.9L201.8,270.3L201.8,270.7L201.8,271.1L201.8,271.5L201.8,271.9L201.8,272.3L201.8,272.7L201.8,273.1L201.7,273.5L201.7,273.9L201.7,274.3L201.7,274.7L201.7,275.1L201.7,275.5L201.7,275.9L201.7,276.3L201.7,276.7L201.7,277.1L201.7,277.5L201.7,277.9L201.7,278.3L201.7,278.7L201.6,279.1L201.6,279.5L201.6,279.9L201.6,280.3L201.6,280.7L201.6,281.1L201.6,281.5L201.6,281.9" fill="none" stroke="#454545" stroke-width="1.3" stroke-dasharray="1.3 1.85"/>
<path d="M36.0,57.8L36.4,58.0L36.7,58.1L37.1,58.3L37.5,58.4L37.8,58.6L38.2,58.7L38.6,58.9L38.9,59.1L39.3,59.2L39.7,59.4L40.0,59.5L40.4,59.7L40.8,59.8L41.2,60.0L41.5,60.1L41.9,60.3L42.3,60.5L42.6,60.6L43.0,60.8L43.4,60.9L43.7,61.1L44.1,61.2L44.5,61.4L44.8,61.5L45.2,61.7L45.6,61.8L46.0,62.0L46.3,62.1L46.7,62.3L47.1,62.4L47.4,62.6L47.8,62.7L48.2,62.9L48.6,63.0L48.9,63.2L49.3,63.3L49.7,63.5L50.0,63.6L50.4,63.8L50.8,63.9L51.2,64.0L51.5,64.2L51.9,64.3L52.3,64.5L52.7,64.6L53.0,64.8L53.4,64.9L53.8,65.0L54.2,65.2L54.5,65.3L54.9,65.5L55.3,65.6L55.6,65.8L56.0,65.9L56.4,66.1M71.7,73.0L72.1,73.1L72.4,73.3L72.8,73.5L73.1,73.7L73.5,73.9L73.8,74.1L74.2,74.2L74.5,74.4L74.9,74.6L75.2,74.8L75.6,75.0L76.0,75.2L76.3,75.4L76.7,75.6L77.0,75.7L77.4,75.9L77.7,76.1L78.1,76.3L78.4,76.5L78.8,76.7L79.1,76.9L79.5,77.1L79.8,77.3L80.2,77.5L80.5,77.7L80.9,77.9L81.2,78.1L81.6,78.3L81.9,78.5L82.3,78.7L82.6,78.9L83.0,79.1L83.3,79.3L83.6,79.5L84.0,79.7L84.3,79.9L84.7,80.1L85.0,80.3L85.4,80.5L85.7,80.7L86.0,80.9L86.4,81.1L86.7,81.3L87.1,81.5L87.4,81.8L87.7,82.0L88.1,82.2L88.4,82.4L88.7,82.6L89.1,82.9L89.4,83.1L89.7,83.3L90.1,83.5L90.4,83.8L90.7,84.0L91.0,84.2L91.4,84.4L91.7,84.7L92.0,84.9L92.4,85.1L92.7,85.4L93.0,85.6L93.3,85.8L93.7,86.1L94.0,86.3L94.3,86.5L94.6,86.8L95.0,87.0L95.3,87.2L95.6,87.5L95.9,87.7L96.3,87.9L96.6,88.2L96.9,88.4L97.2,88.6L97.6,88.9L97.9,89.1L98.2,89.3L98.5,89.6L98.8,89.8L99.2,90.1L99.5,90.3L99.8,90.5L100.1,90.8L100.4,91.0L100.8,91.2L101.1,91.5L101.4,91.7L101.7,92.0L102.0,92.2L102.4,92.4L102.7,92.7L103.0,92.9L103.3,93.2L103.7,93.4L104.0,93.6L104.3,93.9L104.6,94.1L104.9,94.4L105.3,94.6L105.6,94.8L105.9,95.1L106.2,95.3L106.5,95.6L106.8,95.8L107.2,96.1L107.5,96.3L107.8,96.5L108.1,96.8L108.4,97.0L108.8,97.3L109.1,97.5L109.4,97.8L109.7,98.0L110.0,98.3L110.3,98.5L110.6,98.7L111.0,99.0L111.3,99.2L111.6,99.5L111.9,99.7L112.2,100.0L112.5,100.2L112.8,100.5L113.1,100.7L113.4,101.0L113.8,101.3L114.1,101.5L114.4,101.8L114.7,102.0L115.0,102.3L115.3,102.5L115.6,102.8L115.9,103.1L116.2,103.3L116.5,103.6L116.8,103.8L117.1,104.1L117.4,104.4L117.7,104.6L118.0,104.9L118.3,105.1L118.6,105.4L118.9,105.7L119.2,105.9L119.5,106.2L119.8,106.5L120.1,106.7L120.4,107.0L120.7,107.3L121.0,107.5L121.3,107.8L121.6,108.0L121.9,108.3L122.2,108.6L122.5,108.8L122.8,109.1L123.1,109.4L123.4,109.6L123.7,109.9L124.0,110.2L124.3,110.4L124.6,110.7L124.9,111.0L125.2,111.3L125.5,111.5L125.8,111.8L126.1,112.1L126.4,112.3L126.7,112.6L127.0,112.9L127.3,113.1L127.6,113.4L127.9,113.6L128.2,113.9L128.5,114.2L128.8,114.4L129.1,114.7L129.4,115.0L129.7,115.2L130.0,115.5L130.3,115.8L130.6,116.0L130.9,116.3L131.2,116.6L131.5,116.9L131.7,117.1L132.0,117.4L132.3,117.7L132.6,118.0L132.9,118.3L133.1,118.6L133.4,118.9L133.7,119.2L133.9,119.5L134.2,119.8L134.5,120.1L134.7,120.4L135.0,120.7L135.3,121.0L135.5,121.3L135.8,121.6L136.0,121.9L136.3,122.2L136.6,122.5L136.8,122.8L137.1,123.1L137.3,123.4L137.6,123.7L137.8,124.0L138.1,124.3L138.4,124.6L138.6,124.9L138.9,125.3L139.1,125.6L139.4,125.9L139.6,126.2L139.9,126.5L140.1,126.8L140.4,127.1L140.6,127.4L140.9,127.7L141.1,128.1L141.4,128.4L141.6,128.7L141.9,129.0L142.1,129.3L142.4,129.6L142.6,129.9L142.9,130.3L143.1,130.6L143.3,130.9L143.6,131.2L143.8,131.5L144.1,131.9L144.3,132.2L144.5,132.5L144.8,132.8L145.0,133.2L145.2,133.5L145.5,133.8L145.7,134.1L145.9,134.5L146.1,134.8L146.4,135.1L146.6,135.5L146.8,135.8L147.0,136.1L147.3,136.5L147.5,136.8L147.7,137.1L147.9,137.5L148.1,137.8L148.3,138.1L148.6,138.5L148.8,138.8L149.0,139.2L149.2,139.5L149.4,139.8L149.6,140.2L149.8,140.5L150.0,140.9L150.2,141.2L150.4,141.6L150.6,141.9L150.8,142.2L151.0,142.6L151.2,142.9L151.4,143.3L151.6,143.6L151.8,144.0L152.0,144.3L152.2,144.7L152.4,145.0L152.6,145.4L152.8,145.7L153.0,146.1L153.2,146.4L153.3,146.8L153.5,147.1L153.7,147.5L153.9,147.9L154.1,148.2L154.3,148.6L154.5,148.9L154.6,149.3L154.8,149.6L155.0,150.0L155.2,150.3L155.4,150.7L155.6,151.0L155.7,151.4L155.9,151.8L156.1,152.1L156.3,152.5L156.5,152.8L156.6,153.2L156.8,153.5L157.0,153.9L157.2,154.3L157.4,154.6L157.5,155.0L157.7,155.3L157.9,155.7L158.0,156.1L158.2,156.4L158.4,156.8L158.6,157.2L158.7,157.5L158.9,157.9L159.1,158.2L159.2,158.6L159.4,159.0L159.6,159.3L159.7,159.7L159.9,160.1L160.1,160.4L160.2,160.8L160.4,161.2L160.5,161.5L160.7,161.9L160.9,162.3L161.0,162.6L161.2,163.0L161.3,163.4L161.5,163.7L161.7,164.1L161.8,164.5L162.0,164.8L162.1,165.2L162.3,165.6L162.5,165.9L162.6,166.3L162.8,166.7L162.9,167.0L163.1,167.4L163.2,167.8L163.4,168.1L163.6,168.5L163.7,168.9L163.9,169.2L164.0,169.6L164.2,170.0L164.3,170.3L164.5,170.7L164.7,171.1L164.8,171.4L165.0,171.8L165.1,172.2L165.3,172.5L165.4,172.9L165.6,173.3L165.7,173.7L165.9,174.0L166.1,174.4L166.2,174.8L166.4,175.1L166.5,175.5L166.7,175.9L166.8,176.2L167.0,176.6L167.1,177.0L167.3,177.3L167.4,177.7L167.6,178.1L167.7,178.5L167.9,178.8L168.0,179.2L168.2,179.6L168.3,179.9L168.5,180.3L168.6,180.7L168.8,181.1L168.9,181.4L169.1,181.8L169.2,182.2L169.4,182.5L169.5,182.9L169.7,183.3L169.8,183.7L170.0,184.0L170.1,184.4L170.3,184.8L170.4,185.1L170.6,185.5L170.7,185.9L170.9,186.3L171.0,186.6L171.2,187.0L171.3,187.4L171.5,187.7L171.6,188.1L171.8,188.5L171.9,188.8L172.1,189.2L172.3,189.6L172.4,189.9L172.6,190.3L172.7,190.7L172.9,191.0L173.1,191.4L173.2,191.8L173.4,192.1L173.6,192.5L173.7,192.9L173.9,193.2L174.1,193.6L174.3,193.9L174.4,194.3L174.6,194.7L174.8,195.0L174.9,195.4L175.1,195.7L175.3,196.1L175.5,196.5L175.6,196.8L175.8,197.2L176.0,197.5L176.1,197.9L176.3,198.3L176.5,198.6L176.6,199.0L176.8,199.4L177.0,199.7L177.1,200.1L177.3,200.5L177.4,200.8L177.6,201.2L177.8,201.6L177.9,201.9L178.0,202.3L178.2,202.7L178.3,203.1L178.5,203.4L178.6,203.8L178.7,204.2L178.9,204.6L179.0,205.0L179.1,205.3L179.2,205.7L179.3,206.1L179.4,206.5L179.5,206.9L179.6,207.3L179.8,207.6L179.8,208.0L179.9,208.4L180.0,208.8L180.1,209.2L180.2,209.6L180.3,210.0L180.4,210.4L180.5,210.8L180.6,211.2L180.6,211.5L180.7,211.9L180.8,212.3L180.9,212.7L180.9,213.1L181.0,213.5L181.1,213.9L181.1,214.3L181.2,214.7L181.3,215.1L181.3,215.5L181.4,215.9L181.5,216.3L181.5,216.7L181.6,217.1L181.6,217.5L181.7,217.9L181.8,218.3L181.8,218.6L181.9,219.0L181.9,219.4L182.0,219.8L182.1,220.2L182.1,220.6L182.2,221.0L182.3,221.4L182.3,221.8L182.4,222.2L182.4,222.6L182.5,223.0L182.6,223.4L182.6,223.8L182.7,224.2L182.7,224.6L182.8,225.0L182.9,225.4L182.9,225.8L183.0,226.2L183.0,226.6L183.1,227.0L183.1,227.3L183.2,227.7L183.2,228.1L183.3,228.5L183.3,228.9L183.4,229.3L183.4,229.7L183.5,230.1L183.5,230.5L183.6,230.9L183.6,231.3L183.7,231.7L183.7,232.1L183.8,232.5L183.8,232.9L183.8,233.3L183.9,233.7L183.9,234.1L184.0,234.5L184.0,234.9L184.0,235.3L184.1,235.7L184.1,236.1L184.2,236.5L184.2,236.9L184.2,237.3L184.3,237.7L184.3,238.1L184.3,238.5L184.3,238.9L184.4,239.3L184.4,239.7L184.4,240.1L184.4,240.5L184.5,240.9L184.5,241.3L184.5,241.7L184.5,242.1L184.5,242.5L184.6,242.9L184.6,243.3L184.6,243.7L184.6,244.1L184.6,244.5L184.6,244.9L184.7,245.3L184.7,245.7L184.7,246.1L184.7,246.5L184.7,246.9L184.7,247.3L184.7,247.7L184.7,248.1L184.7,248.5L184.7,248.9L184.7,249.3L184.7,249.7L184.8,250.1L184.8,250.5L184.8,250.9L184.8,251.3L184.8,251.7L184.8,252.1L184.8,252.5L184.8,252.9L184.8,253.3L184.8,253.7L184.8,254.1L184.8,254.5L184.8,254.9L184.8,255.3L184.8,255.7L184.8,256.1L184.8,256.5L184.8,256.9L184.8,257.3L184.8,257.7L184.8,258.1L184.8,258.5L184.8,258.9L184.8,259.3L184.8,259.7L184.8,260.1L184.8,260.5L184.7,260.9L184.7,261.3L184.7,261.7L184.7,262.1L184.7,262.5L184.7,262.9L184.7,263.3L184.7,263.7L184.7,264.1L184.6,264.5L184.6,264.9L184.6,265.3L184.6,265.7L184.6,266.1L184.6,266.5L184.6,266.9L184.6,267.3L184.6,267.7L184.5,268.1L184.5,268.5L184.5,268.9L184.5,269.3L184.5,269.7L184.5,270.1L184.5,270.5L184.5,270.9L184.5,271.3L184.5,271.7L184.5,272.1L184.5,272.5L184.4,272.9L184.4,273.3L184.4,273.7L184.4,274.1L184.4,274.5L184.4,274.9L184.4,275.3L184.4,275.7L184.4,276.1L184.4,276.5L184.4,276.9L184.4,277.3L184.4,277.7L184.4,278.1L184.4,278.5L184.4,278.9L184.3,279.3L184.3,279.7L184.3,280.1L184.3,280.5L184.3,280.9L184.3,281.3L184.3,281.7" fill="none" stroke="#454545" stroke-width="1.3" stroke-dasharray="1.3 1.85"/>
<path d="M36.0,72.2L36.4,72.3L36.8,72.4L37.1,72.6L37.5,72.7L37.9,72.8L38.3,72.9L38.7,73.1L39.0,73.2L39.4,73.3L39.8,73.4L40.2,73.6L40.6,73.7L40.9,73.8L41.3,73.9L41.7,74.1L42.1,74.2L42.5,74.3L42.8,74.4L43.2,74.6L43.6,74.7L44.0,74.8L44.4,74.9L44.7,75.1L45.1,75.2L45.5,75.3L45.9,75.5L46.3,75.6L46.6,75.7L47.0,75.8L47.4,76.0L47.8,76.1L48.1,76.2L48.5,76.4L48.9,76.5L49.3,76.6L49.7,76.8L50.0,76.9L50.4,77.0L50.8,77.2L51.2,77.3L51.5,77.4L51.9,77.6L52.3,77.7L52.7,77.8L53.0,78.0L53.4,78.1L53.8,78.3L54.2,78.4L54.5,78.6L54.9,78.7L55.3,78.9L55.6,79.0L56.0,79.2L56.4,79.3L56.7,79.5L57.1,79.7L57.5,79.8L57.8,80.0L58.2,80.1L58.6,80.3L58.9,80.5L59.3,80.6L59.7,80.8L60.0,81.0L60.4,81.1L60.8,81.3L61.1,81.5L61.5,81.6L61.8,81.8L62.2,82.0L62.6,82.1L62.9,82.3L63.3,82.5L63.7,82.6L64.0,82.8L64.4,83.0L64.8,83.1L65.1,83.3L65.5,83.5L65.8,83.6L66.2,83.8L66.6,84.0L66.9,84.1L67.3,84.3L67.7,84.5L68.0,84.6L68.4,84.8L68.8,84.9L69.1,85.1L69.5,85.3L69.9,85.4L70.2,85.6L70.6,85.7L71.0,85.9L71.3,86.1L71.7,86.2L72.1,86.4L72.4,86.6L72.8,86.7L73.2,86.9L73.5,87.0L73.9,87.2L74.3,87.4L74.6,87.5L75.0,87.7L75.3,87.9L75.7,88.0L76.1,88.2L76.4,88.4L76.8,88.6L77.2,88.7L77.5,88.9L77.9,89.1L78.2,89.2L78.6,89.4L79.0,89.6L79.3,89.8L79.7,89.9L80.1,90.1L80.4,90.3L80.8,90.4L81.1,90.6L81.5,90.8L81.9,91.0L82.2,91.1L82.6,91.3L82.9,91.5L83.3,91.7L83.6,91.9L83.9,92.1L84.3,92.4L84.6,92.6L84.9,92.8L85.3,93.0L85.6,93.2L85.9,93.5L86.3,93.7L86.6,93.9L86.9,94.2L87.2,94.4L87.6,94.6L87.9,94.9L88.2,95.1L88.5,95.3L88.9,95.6L89.2,95.8L89.5,96.1L89.8,96.3L90.1,96.5L90.5,96.8L90.8,97.0L91.1,97.3L91.4,97.5L91.7,97.8L92.0,98.0L92.4,98.2L92.7,98.5L93.0,98.7L93.3,99.0L93.6,99.2L93.9,99.5L94.2,99.7L94.6,100.0L94.9,100.2L95.2,100.5L95.5,100.7L95.8,101.0L96.1,101.2L96.4,101.5L96.8,101.7L97.1,102.0L97.4,102.2L97.7,102.5L98.0,102.7L98.3,103.0L98.6,103.2L98.9,103.5L99.3,103.7L99.6,104.0L99.9,104.2L100.2,104.5L100.5,104.7L100.8,105.0L101.1,105.2L101.4,105.5L101.8,105.7L102.1,106.0L102.4,106.2L102.7,106.5L103.0,106.7L103.3,107.0L103.6,107.2L103.9,107.5L104.2,107.7L104.5,108.0L104.8,108.2L105.2,108.5L105.5,108.8L105.8,109.0L106.1,109.3L106.4,109.5L106.7,109.8L107.0,110.0L107.3,110.3L107.6,110.6L107.9,110.8L108.2,111.1L108.5,111.4L108.8,111.6L109.1,111.9L109.4,112.1L109.7,112.4L110.0,112.7L110.3,112.9L110.6,113.2L110.9,113.5L111.2,113.7L111.5,114.0L111.8,114.3L112.1,114.6L112.4,114.8L112.6,115.1L112.9,115.4L113.2,115.7L113.5,116.0L113.8,116.3L114.0,116.6L114.3,116.8L114.6,117.1L114.9,117.4L115.1,117.7L115.4,118.0L115.7,118.3L116.0,118.6L116.2,118.9L116.5,119.2L116.8,119.5L117.1,119.8L117.3,120.0L117.6,120.3L117.9,120.6L118.2,120.9L118.5,121.2L118.7,121.5L119.0,121.8L119.3,122.0L119.6,122.3L119.9,122.6L120.1,122.9L120.4,123.2L120.7,123.5L121.0,123.8L121.3,124.0L121.5,124.3L121.8,124.6L122.1,124.9L122.4,125.2L122.6,125.5L122.9,125.8L123.2,126.1L123.4,126.4L123.7,126.7L124.0,127.0L124.2,127.3L124.5,127.6L124.7,127.9L125.0,128.2L125.2,128.5L125.5,128.8L125.7,129.2L126.0,129.5L126.2,129.8L126.4,130.1L126.6,130.5L126.9,130.8L127.1,131.1L127.3,131.5L127.5,131.8L127.7,132.1L127.9,132.5L128.2,132.8L128.4,133.2L128.6,133.5L128.8,133.8L129.0,134.2L129.2,134.5L129.5,134.8L129.7,135.2L129.9,135.5L130.1,135.8L130.4,136.1L130.6,136.5L130.9,136.8L131.1,137.1M142.5,151.9L142.7,152.3L142.9,152.6L143.1,153.0L143.3,153.3L143.5,153.7L143.7,154.0L143.9,154.4L144.1,154.7L144.3,155.1L144.5,155.4L144.7,155.8L144.9,156.1L145.1,156.4L145.3,156.8L145.5,157.1L145.7,157.5L145.9,157.8L146.1,158.2L146.3,158.5L146.5,158.9L146.7,159.2L146.9,159.6L147.1,159.9L147.3,160.3L147.5,160.6L147.6,161.0L147.8,161.3L148.0,161.7L148.2,162.0L148.4,162.4L148.6,162.7L148.8,163.1L148.9,163.5L149.1,163.8L149.3,164.2L149.5,164.5L149.7,164.9L149.8,165.3L150.0,165.6L150.2,166.0L150.3,166.3L150.5,166.7L150.7,167.1L150.8,167.4L151.0,167.8L151.2,168.2L151.3,168.5L151.5,168.9L151.6,169.3L151.8,169.6L151.9,170.0L152.1,170.4L152.2,170.8L152.4,171.1L152.5,171.5L152.6,171.9L152.8,172.3L152.9,172.6L153.1,173.0L153.2,173.4L153.3,173.7L153.5,174.1L153.6,174.5L153.8,174.9L153.9,175.3L154.0,175.6L154.2,176.0L154.3,176.4L154.4,176.8L154.6,177.1L154.7,177.5L154.8,177.9L155.0,178.3L155.1,178.7L155.2,179.0L155.3,179.4L155.5,179.8L155.6,180.2L155.7,180.5L155.9,180.9L156.0,181.3L156.1,181.7L156.2,182.1L156.4,182.4L156.5,182.8L156.6,183.2L156.8,183.6L156.9,184.0L157.0,184.3L157.1,184.7L157.3,185.1L157.4,185.5L157.5,185.9L157.6,186.2L157.8,186.6L157.9,187.0L158.0,187.4L158.2,187.7L158.3,188.1L158.4,188.5L158.5,188.9L158.6,189.3L158.8,189.7L158.9,190.0L159.0,190.4L159.1,190.8L159.2,191.2L159.3,191.6L159.4,192.0L159.5,192.3L159.6,192.7L159.7,193.1L159.8,193.5L159.9,193.9L160.0,194.3L160.1,194.7L160.2,195.1L160.3,195.4L160.5,195.8L160.6,196.2L160.7,196.6L160.8,197.0L160.9,197.4L161.0,197.8L161.1,198.1L161.2,198.5L161.3,198.9L161.4,199.3L161.5,199.7L161.6,200.1L161.7,200.4L161.8,200.8L161.9,201.2L162.1,201.6L162.2,202.0L162.3,202.4L162.4,202.8L162.5,203.1L162.6,203.5L162.7,203.9L162.8,204.3L162.9,204.7L163.0,205.1L163.1,205.5L163.2,205.8L163.3,206.2L163.4,206.6L163.5,207.0L163.6,207.4L163.7,207.8L163.8,208.2L163.9,208.6L164.0,208.9L164.1,209.3L164.2,209.7L164.3,210.1L164.4,210.5L164.5,210.9L164.6,211.3L164.7,211.7L164.8,212.0L164.9,212.4L165.0,212.8L165.1,213.2L165.2,213.6L165.3,214.0L165.4,214.4L165.4,214.8L165.5,215.2L165.6,215.6L165.7,215.9L165.8,216.3L165.9,216.7L165.9,217.1L166.0,217.5L166.1,217.9L166.2,218.3L166.3,218.7L166.3,219.1L166.4,219.5L166.5,219.9L166.6,220.3L166.6,220.7L166.7,221.0L166.8,221.4L166.9,221.8L166.9,222.2L167.0,222.6L167.1,223.0L167.1,223.4L167.2,223.8L167.3,224.2L167.3,224.6L167.4,225.0L167.5,225.4L167.5,225.8L167.6,226.2L167.6,226.6L167.7,227.0L167.8,227.4L167.8,227.8L167.9,228.2L167.9,228.5L168.0,228.9L168.0,229.3L168.1,229.7L168.1,230.1L168.2,230.5L168.2,230.9L168.3,231.3L168.3,231.7L168.4,232.1L168.4,232.5L168.5,232.9L168.5,233.3L168.6,233.7L168.6,234.1L168.7,234.5L168.7,234.9L168.7,235.3L168.8,235.7L168.8,236.1L168.8,236.5L168.9,236.9L168.9,237.3L168.9,237.7L169.0,238.1L169.0,238.5L169.0,238.9L169.1,239.3L169.1,239.7L169.1,240.1L169.1,240.5L169.2,240.9L169.2,241.3L169.2,241.7L169.2,242.1L169.2,242.5L169.3,242.9L169.3,243.3L169.3,243.7L169.3,244.1L169.3,244.5L169.3,244.9L169.4,245.3L169.4,245.7L169.4,246.1L169.4,246.5L169.4,246.9L169.4,247.3L169.4,247.7L169.4,248.1L169.5,248.5L169.5,248.9L169.5,249.3L169.5,249.7L169.5,250.1L169.5,250.5L169.5,250.9L169.5,251.3L169.5,251.7L169.5,252.1L169.5,252.5L169.5,252.9L169.5,253.3L169.5,253.7L169.5,254.1L169.5,254.5L169.5,254.9L169.5,255.3L169.5,255.7L169.5,256.1L169.5,256.5L169.5,256.9L169.5,257.3L169.5,257.7L169.5,258.1L169.5,258.5L169.5,258.9L169.5,259.3L169.4,259.7L169.4,260.1L169.4,260.5L169.4,260.9L169.4,261.3L169.4,261.7L169.4,262.1L169.4,262.5L169.4,262.9L169.4,263.3L169.3,263.7L169.3,264.1L169.3,264.5L169.3,264.9L169.3,265.3L169.3,265.7L169.3,266.1L169.3,266.5L169.3,266.9L169.3,267.3L169.3,267.7L169.3,268.1L169.3,268.5L169.2,268.9L169.2,269.3L169.2,269.7L169.2,270.1L169.2,270.5L169.2,270.9L169.2,271.3L169.2,271.7L169.2,272.1L169.2,272.5L169.2,272.9L169.2,273.3L169.1,273.7L169.1,274.1L169.1,274.5L169.1,274.9L169.1,275.3L169.1,275.7L169.1,276.1L169.1,276.5L169.1,276.9L169.1,277.3L169.1,277.7L169.0,278.1L169.0,278.5L169.0,278.9L169.0,279.3L169.0,279.7" fill="none" stroke="#454545" stroke-width="1.3" stroke-dasharray="1.3 1.85"/>
<path d="M36.0,83.5L36.4,83.7L36.7,83.8L37.1,84.0L37.5,84.1L37.8,84.3L38.2,84.4L38.6,84.6L39.0,84.7L39.3,84.9L39.7,85.0L40.1,85.2L40.4,85.4L40.8,85.5L41.2,85.7L41.5,85.8L41.9,86.0L42.3,86.1L42.6,86.3L43.0,86.4L43.4,86.6L43.7,86.8L44.1,86.9L44.5,87.1L44.8,87.2L45.2,87.4L45.6,87.5L46.0,87.7L46.3,87.9L46.7,88.0L47.1,88.2L47.4,88.3L47.8,88.5L48.2,88.6L48.5,88.8L48.9,88.9L49.3,89.0L49.7,89.2L50.0,89.3L50.4,89.5L50.8,89.6L51.1,89.8L51.5,90.0L51.9,90.1L52.2,90.3L52.6,90.4L53.0,90.6L53.3,90.8L53.7,91.0L54.0,91.1L54.4,91.3L54.8,91.5L55.1,91.7L55.5,91.9L55.8,92.1L56.1,92.3L56.5,92.5L56.8,92.7L57.2,92.9L57.5,93.1L57.8,93.4L58.2,93.6L58.5,93.8L58.8,94.0L59.2,94.2L59.5,94.5L59.8,94.7L60.2,94.9L60.5,95.1L60.8,95.4L61.2,95.6L61.5,95.8L61.8,96.0L62.2,96.2L62.5,96.5L62.8,96.7L63.2,96.9L63.5,97.1L63.8,97.4L64.2,97.6L64.5,97.8L64.8,98.0L65.2,98.2L65.5,98.5L65.8,98.7L66.2,98.9L66.5,99.1M80.8,109.2L81.1,109.4L81.4,109.7L81.7,110.0L82.0,110.3L82.3,110.5L82.6,110.8L82.9,111.1L83.2,111.3L83.5,111.6L83.8,111.9L84.0,112.2L84.3,112.4L84.6,112.7L84.9,113.0L85.2,113.3L85.5,113.5L85.8,113.8L86.1,114.1L86.4,114.4L86.6,114.7L86.9,114.9L87.2,115.2L87.5,115.5L87.8,115.8L88.1,116.1L88.4,116.3L88.6,116.6L88.9,116.9L89.2,117.2L89.5,117.5L89.8,117.8L90.0,118.0L90.3,118.3L90.6,118.6L90.9,118.9L91.2,119.2L91.4,119.5L91.7,119.8L92.0,120.0L92.3,120.3L92.6,120.6L92.8,120.9L93.1,121.2L93.4,121.5L93.7,121.8L94.0,122.1L94.2,122.3L94.5,122.6L94.8,122.9L95.1,123.2L95.3,123.5L95.6,123.8L95.9,124.1L96.2,124.4L96.4,124.7L96.7,125.0L97.0,125.2L97.3,125.5L97.5,125.8L97.8,126.1L98.1,126.4L98.4,126.7L98.6,127.0L98.9,127.3L99.2,127.6L99.4,127.9L99.7,128.2L100.0,128.5L100.2,128.8L100.5,129.1L100.8,129.4L101.1,129.7L101.3,130.0L101.6,130.2L101.9,130.5L102.1,130.8L102.4,131.1L102.7,131.4L102.9,131.7L103.2,132.0L103.5,132.3L103.7,132.6L104.0,132.9L104.3,133.2L104.5,133.5L104.8,133.8L105.1,134.1L105.3,134.4L105.6,134.7L105.9,135.0L106.1,135.3L106.4,135.6L106.7,135.9L106.9,136.2L107.2,136.5L107.4,136.8L107.7,137.1L108.0,137.4L108.2,137.7L108.5,138.1L108.7,138.4L109.0,138.7L109.2,139.0L109.5,139.3L109.7,139.6L110.0,139.9L110.2,140.2L110.4,140.6L110.7,140.9L110.9,141.2L111.1,141.5L111.4,141.9L111.6,142.2L111.8,142.6L112.0,142.9L112.2,143.2L112.4,143.6L112.6,143.9L112.8,144.3L113.0,144.6L113.2,145.0L113.4,145.3L113.6,145.7L113.8,146.0L113.9,146.4L114.1,146.7L114.3,147.1L114.5,147.4L114.7,147.8L114.9,148.1L115.1,148.5L115.4,148.8L115.6,149.1L115.8,149.5L116.0,149.8L116.2,150.2L116.4,150.5L116.6,150.9L116.8,151.2L117.0,151.5L117.2,151.9L117.5,152.2L117.7,152.6L117.9,152.9L118.1,153.2L118.3,153.6L118.5,153.9L118.7,154.2L118.9,154.6L119.2,154.9L119.4,155.3L119.6,155.6L119.8,155.9L120.0,156.3L120.2,156.6L120.5,156.9L120.7,157.3L120.9,157.6L121.1,157.9L121.4,158.3L121.6,158.6L121.8,158.9L122.1,159.2L122.3,159.5L122.6,159.9L122.8,160.2L123.1,160.5L123.3,160.8L123.5,161.1L123.8,161.4L124.0,161.8L124.3,162.1L124.5,162.4L124.7,162.7L124.9,163.1L125.2,163.4L125.4,163.7L125.6,164.1L125.8,164.4L126.0,164.8L126.2,165.1L126.4,165.5L126.6,165.8L126.8,166.2L127.0,166.5L127.2,166.9L127.4,167.2L127.5,167.6L127.7,167.9L127.9,168.3L128.1,168.6L128.3,169.0L128.5,169.3L128.6,169.7L128.8,170.1L129.0,170.4L129.2,170.8L129.3,171.1L129.5,171.5L129.7,171.9L129.9,172.2L130.0,172.6L130.2,172.9L130.4,173.3L130.6,173.7L130.7,174.0L130.9,174.4L131.1,174.7L131.2,175.1L131.4,175.5L131.6,175.8L131.7,176.2L131.9,176.6L132.1,176.9L132.2,177.3L132.4,177.7L132.6,178.0L132.7,178.4L132.9,178.8L133.1,179.1L133.2,179.5L133.4,179.9L133.5,180.2L133.7,180.6L133.8,181.0L134.0,181.3L134.2,181.7L134.3,182.1L134.5,182.4L134.6,182.8L134.8,183.2L134.9,183.5L135.1,183.9L135.2,184.3L135.4,184.6L135.5,185.0L135.7,185.4L135.8,185.8L136.0,186.1L136.1,186.5L136.3,186.9L136.4,187.3L136.5,187.6L136.7,188.0L136.8,188.4L136.9,188.8L137.1,189.1L137.2,189.5L137.3,189.9L137.5,190.3L137.6,190.7L137.7,191.0L137.9,191.4L138.0,191.8L138.1,192.2L138.2,192.6L138.3,192.9L138.5,193.3L138.6,193.7L138.7,194.1L138.8,194.5L138.9,194.9L139.0,195.2L139.1,195.6L139.2,196.0L139.3,196.4L139.4,196.8L139.5,197.2L139.6,197.6L139.7,197.9L139.8,198.3L139.9,198.7L140.0,199.1L140.1,199.5L140.2,199.9L140.3,200.3L140.4,200.7L140.5,201.1L140.6,201.4L140.7,201.8L140.8,202.2L140.8,202.6L140.9,203.0L141.0,203.4L141.1,203.8L141.2,204.2L141.3,204.6L141.4,205.0L141.4,205.3L141.5,205.7L141.6,206.1L141.7,206.5L141.8,206.9L141.9,207.3L141.9,207.7L142.0,208.1L142.1,208.5L142.2,208.9L142.3,209.3L142.3,209.7L142.4,210.0L142.5,210.4L142.6,210.8L142.7,211.2L142.7,211.6L142.8,212.0L142.9,212.4L143.0,212.8L143.0,213.2L143.1,213.6L143.2,214.0L143.3,214.4L143.3,214.8L143.4,215.2L143.5,215.5L143.6,215.9L143.6,216.3L143.7,216.7L143.8,217.1L143.8,217.5L143.9,217.9L144.0,218.3L144.1,218.7L144.1,219.1L144.2,219.5L144.2,219.9L144.3,220.3L144.4,220.7L144.4,221.1L144.5,221.5L144.6,221.9L144.6,222.2L144.7,222.6L144.7,223.0L144.8,223.4L144.8,223.8L144.9,224.2L145.0,224.6L145.0,225.0L145.0,225.4L145.1,225.8L145.1,226.2L145.2,226.6L145.2,227.0L145.3,227.4L145.3,227.8L145.3,228.2L145.4,228.6L145.4,229.0L145.4,229.4L145.5,229.8L145.5,230.2L145.5,230.6L145.6,231.0L145.6,231.4L145.6,231.8L145.6,232.2L145.7,232.6L145.7,233.0L145.7,233.4L145.7,233.8L145.8,234.2L145.8,234.6L145.8,235.0L145.8,235.4L145.8,235.8L145.9,236.2L145.9,236.6L145.9,237.0L145.9,237.4L145.9,237.8L145.9,238.2L145.9,238.6L146.0,239.0L146.0,239.4L146.0,239.8L146.0,240.2L146.0,240.6L146.0,241.0L146.0,241.4L146.1,241.8L146.1,242.2L146.1,242.6L146.1,243.0L146.1,243.4L146.1,243.8L146.1,244.2L146.1,244.6L146.1,245.0L146.1,245.4L146.1,245.8L146.1,246.2L146.1,246.6L146.1,247.0L146.1,247.4L146.1,247.8L146.1,248.2L146.1,248.6L146.1,249.0L146.1,249.4L146.0,249.8L146.0,250.2L146.0,250.6L146.0,251.0L146.0,251.4L146.0,251.8L146.0,252.2L146.0,252.6L146.0,253.0L146.0,253.4L146.0,253.8L145.9,254.2L145.9,254.6L145.9,255.0L145.9,255.4L145.9,255.8L145.9,256.2L145.9,256.6L145.8,257.0L145.8,257.4L145.8,257.8L145.8,258.2L145.8,258.6L145.8,259.0L145.7,259.4L145.7,259.8L145.7,260.2L145.7,260.6L145.7,261.0L145.7,261.4L145.6,261.8L145.6,262.2L145.6,262.6L145.6,263.0L145.6,263.4L145.6,263.8L145.6,264.2L145.5,264.6L145.5,265.0L145.5,265.4L145.5,265.8L145.5,266.2L145.5,266.6L145.5,267.0L145.5,267.4L145.5,267.8L145.4,268.2L145.4,268.6L145.4,269.0L145.4,269.4L145.4,269.8L145.4,270.2L145.4,270.6L145.4,271.0L145.4,271.4L145.4,271.8L145.4,272.2L145.3,272.6L145.3,273.0L145.3,273.4L145.3,273.8L145.3,274.2L145.3,274.6L145.3,275.0L145.3,275.4L145.3,275.8L145.3,276.2L145.3,276.6L145.3,277.0L145.3,277.4L145.2,277.8L145.2,278.2L145.2,278.6L145.2,279.0L145.2,279.4L145.2,279.8" fill="none" stroke="#454545" stroke-width="1.3" stroke-dasharray="1.3 1.85"/>
<path d="M40.0,118.0L40.3,118.3L40.6,118.6L40.8,118.9L41.1,119.1L41.4,119.4L41.7,119.7L42.0,120.0L42.3,120.2L42.6,120.5L42.9,120.8L43.2,121.1L43.4,121.4L43.7,121.6L44.0,121.9L44.3,122.2L44.5,122.5L44.8,122.8L45.1,123.1L45.3,123.4L45.6,123.7L45.8,124.1L46.0,124.4L46.3,124.7L46.5,125.0L46.7,125.4L47.0,125.7L47.2,126.0L47.4,126.3L47.6,126.7L47.9,127.0L48.1,127.3L48.3,127.7L48.5,128.0L48.7,128.4L49.0,128.7L49.2,129.0L49.4,129.4L49.6,129.7L49.8,130.0L50.0,130.4L50.2,130.7L50.4,131.1L50.6,131.4L50.8,131.8L51.0,132.1L51.2,132.5L51.4,132.8L51.6,133.2L51.8,133.5L52.0,133.9L52.1,134.2L52.3,134.6L52.5,134.9L52.7,135.3L52.9,135.7L53.0,136.0L53.2,136.4L53.4,136.8L53.5,137.1L53.7,137.5L53.8,137.9L54.0,138.2L54.1,138.6L54.3,139.0L54.4,139.4L54.5,139.7L54.7,140.1L54.8,140.5L54.9,140.9L55.0,141.3L55.1,141.6L55.3,142.0L55.4,142.4L55.5,142.8L55.6,143.2L55.7,143.6L55.8,143.9L55.9,144.3L56.0,144.7L56.1,145.1L56.2,145.5L56.3,145.9L56.4,146.3L56.5,146.7L56.6,147.0L56.7,147.4L56.8,147.8L56.8,148.2L56.9,148.6L57.0,149.0L57.1,149.4L57.2,149.8L57.3,150.2L57.3,150.6L57.4,151.0L57.5,151.4L57.6,151.7L57.6,152.1L57.7,152.5L57.8,152.9L57.9,153.3L58.0,153.7L58.0,154.1L58.1,154.5L58.2,154.9L58.2,155.3L58.3,155.7L58.4,156.1L58.5,156.5L58.5,156.9L58.6,157.3L58.6,157.6L58.7,158.0L58.7,158.4L58.8,158.8L58.8,159.2L58.9,159.6L58.9,160.0L59.0,160.4L59.0,160.8L59.0,161.2L59.1,161.6L59.1,162.0L59.2,162.4L59.2,162.8L59.2,163.2L59.3,163.6L59.3,164.0L59.3,164.4L59.4,164.8L59.4,165.2L59.5,165.6L59.5,166.0L59.5,166.4L59.6,166.8L59.6,167.2L59.7,167.6L59.7,168.0L59.8,168.4L59.8,168.8L59.9,169.2L59.9,169.6L60.0,170.0L60.1,170.4L60.1,170.8L60.2,171.1L60.3,171.5L60.4,171.9L60.5,172.3L60.5,172.7L60.6,173.1L60.7,173.5L60.8,173.9L60.9,174.3L61.0,174.7L61.2,175.0L61.3,175.4L61.4,175.8L61.5,176.2L61.7,176.6L61.8,176.9L61.9,177.3L62.1,177.7M68.8,192.6L68.9,193.0L69.0,193.4L69.1,193.8L69.3,194.1L69.4,194.5L69.5,194.9L69.6,195.3L69.8,195.7L69.9,196.1L70.0,196.4L70.1,196.8L70.2,197.2L70.3,197.6L70.4,198.0L70.5,198.4L70.7,198.7L70.8,199.1L70.9,199.5L71.0,199.9L71.1,200.3L71.2,200.7L71.3,201.1L71.4,201.4L71.5,201.8L71.6,202.2L71.7,202.6L71.8,203.0L71.9,203.4L72.0,203.8L72.1,204.2L72.2,204.5L72.3,204.9L72.4,205.3L72.5,205.7L72.6,206.1L72.7,206.5L72.7,206.9L72.8,207.3L72.9,207.7L73.0,208.0L73.1,208.4L73.2,208.8L73.3,209.2L73.4,209.6L73.4,210.0L73.5,210.4L73.6,210.8L73.7,211.2L73.8,211.6L73.9,212.0L73.9,212.3L74.0,212.7L74.1,213.1L74.2,213.5L74.3,213.9L74.4,214.3L74.4,214.7L74.5,215.1L74.6,215.5L74.7,215.9L74.8,216.3L74.8,216.6L74.9,217.0L75.0,217.4L75.1,217.8L75.2,218.2L75.3,218.6L75.3,219.0L75.4,219.4L75.5,219.8L75.6,220.2L75.7,220.6L75.7,221.0L75.8,221.3L75.9,221.7L76.0,222.1L76.1,222.5L76.2,222.9L76.2,223.3L76.3,223.7L76.4,224.1L76.5,224.5L76.6,224.9L76.6,225.3L76.7,225.7L76.8,226.1L76.9,226.4L76.9,226.8L77.0,227.2L77.1,227.6L77.2,228.0L77.3,228.4L77.3,228.8L77.4,229.2L77.5,229.6L77.6,230.0L77.7,230.4L77.7,230.8L77.8,231.1L77.9,231.5L78.0,231.9L78.1,232.3L78.1,232.7L78.2,233.1L78.3,233.5L78.4,233.9L78.5,234.3L78.6,234.7L78.7,235.1L78.7,235.4L78.8,235.8L78.9,236.2L79.0,236.6L79.1,237.0L79.2,237.4L79.3,237.8L79.4,238.2L79.4,238.6L79.5,239.0L79.6,239.4L79.7,239.7L79.8,240.1L79.8,240.5L79.9,240.9L80.0,241.3L80.1,241.7L80.1,242.1L80.2,242.5L80.3,242.9L80.3,243.3L80.4,243.7L80.5,244.1L80.5,244.5L80.6,244.9L80.7,245.3L80.7,245.7L80.8,246.1L80.8,246.4L80.9,246.8L81.0,247.2L81.0,247.6L81.1,248.0L81.1,248.4L81.2,248.8L81.2,249.2L81.3,249.6L81.3,250.0L81.4,250.4L81.4,250.8L81.5,251.2L81.5,251.6L81.6,252.0L81.6,252.4L81.7,252.8L81.7,253.2L81.7,253.6L81.8,254.0L81.8,254.4L81.9,254.8L81.9,255.2L82.0,255.6L82.0,256.0L82.0,256.4L82.1,256.8L82.1,257.2L82.2,257.6L82.2,258.0L82.2,258.4L82.3,258.8L82.3,259.2L82.3,259.6L82.3,260.0L82.4,260.4L82.4,260.8L82.4,261.2L82.5,261.6L82.5,262.0L82.5,262.4L82.5,262.8L82.6,263.2L82.6,263.6L82.6,264.0L82.6,264.4L82.6,264.8L82.7,265.2L82.7,265.6L82.7,266.0L82.7,266.4L82.7,266.7L82.7,267.1L82.8,267.5L82.8,267.9L82.8,268.3L82.8,268.7L82.8,269.1L82.8,269.5L82.8,269.9L82.8,270.3L82.8,270.7L82.9,271.1L82.9,271.5L82.9,271.9L82.9,272.3L82.9,272.7L82.9,273.1L82.9,273.5L82.9,273.9L82.9,274.3L82.9,274.7L82.9,275.1L82.9,275.5L82.9,275.9L82.9,276.3L82.9,276.7L82.9,277.1L83.0,277.5L83.0,277.9L83.0,278.3L83.0,278.7L83.0,279.1L83.0,279.5L83.0,279.9" fill="none" stroke="#454545" stroke-width="1.3" stroke-dasharray="1.3 1.85"/>
<path d="M41.0,201.0L41.2,201.3L41.4,201.7L41.6,202.0L41.8,202.4L42.0,202.7L42.2,203.1L42.4,203.4L42.6,203.8L42.8,204.1L43.0,204.5L43.2,204.8L43.4,205.2L43.6,205.5L43.8,205.9L44.0,206.2L44.2,206.6L44.4,206.9L44.6,207.3L44.8,207.6L45.0,207.9L45.2,208.3L45.4,208.6M52.7,223.3L52.9,223.6L53.0,224.0L53.2,224.4L53.3,224.8L53.5,225.1L53.6,225.5L53.8,225.9L53.9,226.2L54.1,226.6L54.2,227.0L54.3,227.4L54.5,227.7L54.6,228.1L54.7,228.5L54.9,228.9L55.0,229.2L55.1,229.6L55.2,230.0L55.3,230.4L55.4,230.8L55.5,231.2L55.6,231.6L55.7,232.0L55.8,232.3L55.9,232.7L55.9,233.1L56.0,233.5L56.1,233.9L56.2,234.3L56.2,234.7L56.3,235.1L56.4,235.5L56.5,235.9L56.5,236.3L56.6,236.7L56.7,237.1L56.7,237.5L56.8,237.9L56.8,238.3L56.9,238.6L57.0,239.0L57.0,239.4L57.1,239.8L57.1,240.2L57.2,240.6L57.2,241.0L57.3,241.4L57.3,241.8L57.4,242.2L57.4,242.6L57.5,243.0L57.5,243.4L57.5,243.8L57.6,244.2L57.6,244.6L57.6,245.0L57.7,245.4L57.7,245.8L57.7,246.2L57.7,246.6L57.7,247.0L57.8,247.4L57.8,247.8L57.8,248.2L57.8,248.6L57.8,249.0L57.8,249.4L57.8,249.8L57.8,250.2L57.8,250.6L57.8,251.0L57.8,251.4L57.7,251.8L57.7,252.2L57.7,252.6L57.7,253.0L57.7,253.4L57.7,253.8L57.7,254.2L57.6,254.6L57.6,255.0L57.6,255.4L57.6,255.8L57.6,256.2L57.5,256.6L57.5,257.0L57.5,257.4L57.5,257.8L57.4,258.2L57.4,258.6L57.4,259.0L57.3,259.4L57.3,259.8L57.2,260.2L57.2,260.6L57.1,261.0L57.0,261.4L57.0,261.8L56.9,262.2L56.8,262.5L56.7,262.9L56.6,263.3L56.6,263.7L56.5,264.1L56.4,264.5L56.3,264.9L56.2,265.3L56.1,265.7L56.0,266.1L55.9,266.4L55.9,266.8L55.8,267.2L55.7,267.6L55.6,268.0L55.6,268.4L55.5,268.8L55.4,269.2L55.4,269.6L55.3,270.0L55.2,270.4L55.2,270.8L55.1,271.2L55.0,271.6L55.0,272.0L54.9,272.4L54.8,272.7L54.8,273.1L54.7,273.5L54.6,273.9L54.5,274.3L54.5,274.7L54.4,275.1L54.3,275.5L54.2,275.9L54.1,276.3L54.0,276.7L54.0,277.1L53.9,277.5L53.8,277.8L53.7,278.2L53.6,278.6L53.5,279.0L53.4,279.4L53.3,279.8" fill="none" stroke="#454545" stroke-width="1.3" stroke-dasharray="1.3 1.85"/>
<path d="M40.0,207.5L40.3,207.8L40.5,208.1L40.8,208.4L41.1,208.7L41.4,209.0L41.6,209.3L41.9,209.5L42.2,209.8L42.5,210.1L42.7,210.4L43.0,210.7L43.3,211.0L43.6,211.3L43.8,211.6L44.1,211.9L44.4,212.2L44.7,212.5L44.9,212.7L45.2,213.0L45.5,213.3L45.7,213.6L46.0,213.9L46.3,214.2L46.5,214.5L46.8,214.9L47.0,215.2L47.3,215.5L47.5,215.8L47.8,216.1L48.0,216.4M55.8,232.5L55.9,232.9L56.0,233.3L56.1,233.7L56.2,234.1L56.3,234.5L56.4,234.9L56.5,235.2L56.6,235.6L56.7,236.0L56.8,236.4L56.9,236.8L56.9,237.2L57.0,237.6L57.0,238.0L57.1,238.4L57.2,238.8L57.2,239.2L57.3,239.6L57.3,240.0L57.4,240.4L57.4,240.8L57.5,241.2L57.5,241.6L57.6,242.0L57.6,242.4L57.7,242.8L57.7,243.2L57.8,243.5L57.8,243.9L57.8,244.3L57.9,244.7L57.9,245.1L57.9,245.5L57.9,245.9L58.0,246.3L58.0,246.7L58.0,247.1L58.0,247.5L58.0,247.9L58.0,248.3L58.0,248.7L58.0,249.1L58.0,249.5L58.0,249.9L58.0,250.3L58.0,250.7L58.0,251.1L58.0,251.5L58.0,251.9L57.9,252.3L57.9,252.7L57.9,253.1L57.9,253.5L57.9,253.9L57.9,254.3L57.8,254.7L57.8,255.1L57.8,255.5L57.8,255.9L57.8,256.3L57.7,256.7L57.7,257.1L57.7,257.5L57.6,257.9L57.6,258.3L57.6,258.7L57.5,259.1L57.5,259.5L57.5,259.9L57.4,260.3L57.4,260.7L57.3,261.1L57.2,261.5L57.2,261.9L57.1,262.3L57.0,262.7L56.9,263.1L56.8,263.5L56.7,263.8L56.6,264.2L56.5,264.6L56.4,265.0L56.3,265.4L56.2,265.8L56.1,266.2L56.0,266.6L55.9,266.9L55.9,267.3L55.8,267.7L55.7,268.1L55.7,268.5L55.6,268.9L55.5,269.3L55.5,269.7L55.4,270.1L55.4,270.5L55.3,270.9L55.2,271.3L55.2,271.7L55.1,272.1L55.1,272.5L55.0,272.9L54.9,273.3L54.9,273.7L54.8,274.1L54.7,274.5L54.6,274.8L54.6,275.2L54.5,275.6L54.4,276.0L54.3,276.4L54.2,276.8L54.1,277.2L54.0,277.6L54.0,278.0L53.9,278.4L53.8,278.8L53.7,279.1L53.6,279.5L53.5,279.9" fill="none" stroke="#000" stroke-width="1.4" stroke-dasharray="4.6 1.8"/>
<path d="M68.1,288.4L68.2,288.0L68.4,287.7L68.6,287.3L68.8,287.0L69.0,286.6L69.1,286.2L69.3,285.9L69.5,285.5L69.6,285.2L69.8,284.8L70.0,284.4L70.1,284.1L70.3,283.7L70.4,283.3L70.6,283.0L70.7,282.6L70.9,282.2L71.1,281.9L71.2,281.5L71.3,281.1L71.5,280.7L71.6,280.4L71.8,280.0L71.9,279.6L72.0,279.2L72.2,278.9L72.3,278.5L72.4,278.1L72.6,277.7L72.7,277.3L72.8,277.0L73.0,276.6L73.1,276.2L73.2,275.8L73.3,275.4L73.4,275.1L73.5,274.7L73.7,274.3L73.8,273.9L73.9,273.5L74.0,273.1L74.1,272.7L74.2,272.4L74.3,272.0L74.4,271.6L74.5,271.2L74.6,270.8L74.7,270.4L74.8,270.0L74.9,269.6L74.9,269.3L75.0,268.9L75.1,268.5L75.2,268.1L75.3,267.7L75.3,267.3L75.4,266.9L75.5,266.5L75.6,266.1L75.6,265.7L75.7,265.3L75.8,264.9L75.8,264.5L75.9,264.1L76.0,263.7L76.0,263.4L76.1,263.0L76.1,262.6L76.2,262.2L76.2,261.8L76.3,261.4L76.3,261.0L76.4,260.6L76.4,260.2L76.4,259.8L76.5,259.4L76.5,259.0L76.5,258.6L76.6,258.2L76.6,257.8L76.6,257.4L76.7,257.0L76.7,256.6L76.7,256.2L76.7,255.8L76.7,255.4L76.8,255.0L76.8,254.6L76.8,254.2L76.8,253.8L76.8,253.4L76.8,253.0L76.8,252.6L76.8,252.2L76.8,251.8L76.8,251.4L76.8,251.0L76.8,250.6L76.8,250.2L76.8,249.8L76.8,249.4L76.8,249.0L76.7,248.6L76.7,248.2L76.7,247.8L76.7,247.4L76.7,247.0L76.6,246.6L76.6,246.2L76.6,245.8L76.5,245.4L76.5,245.0L76.5,244.6L76.4,244.2L76.4,243.8L76.4,243.4L76.3,243.0L76.3,242.6L76.2,242.2L76.2,241.8L76.1,241.4L76.1,241.0L76.0,240.6L76.0,240.2L75.9,239.8L75.8,239.4L75.8,239.0L75.7,238.7L75.6,238.3L75.6,237.9L75.5,237.5L75.4,237.1L75.3,236.7L75.3,236.3L75.2,235.9L75.1,235.5L75.0,235.1L74.9,234.7L74.9,234.3L74.8,233.9L74.7,233.6L74.6,233.2L74.5,232.8L74.4,232.4L74.3,232.0L74.2,231.6L74.1,231.2L74.0,230.8L73.9,230.5L73.8,230.1L73.7,229.7L73.5,229.3L73.4,228.9L73.3,228.5L73.2,228.2L73.1,227.8L73.0,227.4L72.8,227.0L72.7,226.6L72.6,226.3L72.4,225.9L72.3,225.5L72.2,225.1L72.0,224.7L71.9,224.4L71.8,224.0L71.6,223.6L71.5,223.2L71.3,222.9L71.2,222.5L71.0,222.1L70.9,221.8L70.7,221.4L70.6,221.0L70.4,220.6L70.3,220.3L70.1,219.9L70.0,219.5L69.8,219.2L69.6,218.8L69.5,218.5L69.3,218.1L69.1,217.7L68.9,217.4L68.8,217.0L68.6,216.7L68.4,216.3L68.2,215.9L68.1,215.6L67.9,215.2L67.7,214.9L67.5,214.5L67.3,214.2L67.1,213.8L66.9,213.5L66.7,213.1L66.5,212.8L66.3,212.4L66.1,212.1L65.9,211.7L65.7,211.4L65.5,211.0L65.3,210.7L65.1,210.4L64.9,210.0L64.7,209.7L64.5,209.3L64.3,209.0L64.0,208.7L63.8,208.3L63.6,208.0L63.4,207.7L63.2,207.3L62.9,207.0L62.7,206.7L62.5,206.3L62.2,206.0L62.0,205.7L61.8,205.4L61.5,205.0L61.3,204.7L61.1,204.4L60.8,204.1L60.6,203.8M46.1,189.5L45.8,189.2L45.5,189.0L45.2,188.8L44.8,188.5L44.5,188.3L44.2,188.1L43.8,187.8L43.5,187.6L43.2,187.4L42.8,187.2L42.5,186.9L42.2,186.7L41.8,186.5L41.5,186.3L41.2,186.1L40.8,185.9L40.5,185.7L40.1,185.5L39.8,185.3L39.5,185.1L39.1,184.9L38.8,184.7L38.4,184.5L38.1,184.3L37.7,184.1L37.4,183.9L37.0,183.7L36.7,183.5L36.3,183.3L35.9,183.1L35.6,183.0L35.2,182.8L34.9,182.6L34.5,182.4L34.1,182.3L33.8,182.1L33.4,181.9L33.1,181.8L32.7,181.6L32.3,181.4L32.0,181.3L31.6,181.1L31.2,181.0L30.8,180.8L30.5,180.7L30.1,180.5L29.7,180.4L29.4,180.2L29.0,180.1L28.6,180.0L28.2,179.8L27.9,179.7L27.5,179.6L27.1,179.4L26.7,179.3L26.3,179.2L26.0,179.1L25.6,178.9L25.2,178.8L24.8,178.7L24.4,178.6L24.0,178.5L23.7,178.4L23.3,178.3L22.9,178.2L22.5,178.1L22.1,178.0L21.7,177.9L21.3,177.8L20.9,177.7L20.6,177.6L20.2,177.5L19.8,177.4L19.4,177.3L19.0,177.3L18.6,177.2L18.2,177.1L17.8,177.0L17.4,177.0L17.0,176.9L16.6,176.8L16.2,176.8L15.8,176.7L15.4,176.7L15.0,176.6L14.6,176.6L14.2,176.5L13.9,176.5L13.5,176.4L13.1,176.4L12.7,176.3L12.3,176.3L11.9,176.3L11.5,176.2L11.1,176.2L10.7,176.2L10.3,176.1L9.9,176.1L9.5,176.1L9.1,176.1L8.7,176.1L8.3,176.1L7.9,176.1L7.5,176.1L7.1,176.1L6.7,176.1L6.3,176.1L5.9,176.1L5.5,176.1L5.1,176.1L4.7,176.1L4.3,176.1L3.9,176.1L3.5,176.1L3.1,176.2L2.7,176.2L2.3,176.2L1.9,176.2L1.5,176.3L1.1,176.3L0.7,176.4L0.3,176.4L-0.1,176.4L-0.5,176.5L-0.9,176.5L-1.3,176.6L-1.7,176.6L-2.1,176.7L-2.5,176.8L-2.9,176.8L-3.3,176.9L-3.7,177.0L-4.1,177.0L-4.5,177.1L-4.9,177.2L-5.3,177.3L-5.6,177.3L-6.0,177.4L-6.4,177.5L-6.8,177.6L-7.2,177.7L-7.6,177.8L-8.0,177.9L-8.4,178.0L-8.8,178.1L-9.1,178.2L-9.5,178.3L-9.9,178.4L-10.3,178.5L-10.7,178.6L-11.1,178.7L-11.4,178.8L-11.8,179.0L-12.2,179.1L-12.6,179.2L-13.0,179.3L-13.3,179.5L-13.7,179.6L-14.1,179.7L-14.5,179.9L-14.8,180.0L-15.2,180.2L-15.6,180.3L-16.0,180.5L-16.3,180.6L-16.7,180.8L-17.1,180.9L-17.4,181.1L-17.8,181.2L-18.2,181.4L-18.5,181.6L-18.9,181.7L-19.3,181.9L-19.6,182.1L-20.0,182.3L-20.3,182.4L-20.7,182.6L-21.1,182.8L-21.4,183.0L-21.8,183.2L-22.1,183.3L-22.5,183.5L-22.8,183.7L-23.2,183.9L-23.5,184.1L-23.9,184.3L-24.2,184.5L-24.6,184.7L-24.9,184.9L-25.2,185.1L-25.6,185.3L-25.9,185.6L-26.3,185.8L-26.6,186.0L-26.9,186.2L-27.3,186.4L-27.6,186.7L-27.9,186.9L-28.3,187.1L-28.6,187.3L-28.9,187.6L-29.2,187.8L-29.6,188.0L-29.9,188.3L-30.2,188.5L-30.5,188.7L-30.8,189.0L-31.2,189.2L-31.5,189.5L-31.8,189.7L-32.1,190.0L-32.4,190.2L-32.7,190.5L-33.0,190.7L-33.3,191.0L-33.6,191.3L-33.9,191.5L-34.2,191.8L-34.5,192.1L-34.8,192.3L-35.1,192.6L-35.4,192.9L-35.7,193.1L-36.0,193.4L-36.3,193.7L-36.6,194.0L-36.9,194.2L-37.2,194.5L-37.4,194.8L-37.7,195.1" fill="none" stroke="#000" stroke-width="1.4" stroke-dasharray="4.6 1.8"/>
<path d="M84.8,296.8L85.0,296.4L85.2,296.0L85.3,295.7L85.5,295.3L85.7,295.0L85.9,294.6L86.0,294.2L86.2,293.9L86.4,293.5L86.6,293.2L86.7,292.8L86.9,292.4L87.0,292.1L87.2,291.7L87.4,291.3L87.5,291.0L87.7,290.6L87.8,290.2L88.0,289.9L88.1,289.5L88.3,289.1L88.4,288.7L88.6,288.4L88.7,288.0L88.9,287.6L89.0,287.3L89.2,286.9L89.3,286.5L89.4,286.1L89.6,285.8L89.7,285.4L89.9,285.0L90.0,284.6L90.1,284.2L90.3,283.9L90.4,283.5L90.5,283.1L90.6,282.7L90.8,282.4L90.9,282.0L91.0,281.6L91.1,281.2L91.2,280.8L91.3,280.4L91.5,280.1L91.6,279.7L91.7,279.3L91.8,278.9L91.9,278.5L92.0,278.1L92.1,277.7L92.2,277.4L92.3,277.0L92.4,276.6L92.5,276.2L92.6,275.8L92.7,275.4L92.8,275.0L92.9,274.6L93.0,274.3L93.1,273.9L93.2,273.5L93.3,273.1L93.3,272.7L93.4,272.3L93.5,271.9L93.6,271.5L93.7,271.1L93.7,270.7L93.8,270.3L93.9,269.9L94.0,269.6L94.0,269.2L94.1,268.8L94.2,268.4L94.2,268.0L94.3,267.6L94.3,267.2L94.4,266.8L94.5,266.4L94.5,266.0L94.6,265.6L94.6,265.2L94.7,264.8L94.7,264.4L94.8,264.0L94.8,263.6L94.9,263.2L94.9,262.8L95.0,262.4L95.0,262.0L95.1,261.6L95.1,261.2L95.1,260.8L95.2,260.4L95.2,260.0L95.2,259.6L95.3,259.2L95.3,258.8L95.3,258.4L95.3,258.0L95.4,257.6L95.4,257.2L95.4,256.8L95.4,256.4L95.4,256.0L95.5,255.6L95.5,255.2L95.5,254.8L95.5,254.4L95.5,254.0L95.5,253.6L95.5,253.2L95.5,252.8L95.5,252.4L95.5,252.0L95.5,251.6L95.5,251.2L95.5,250.8L95.5,250.4L95.5,250.0L95.5,249.6L95.5,249.2L95.5,248.8L95.5,248.4L95.4,248.0L95.4,247.6L95.4,247.2L95.4,246.8L95.4,246.4L95.3,246.1L95.3,245.7L95.3,245.3L95.3,244.9L95.2,244.5L95.2,244.1L95.2,243.7L95.1,243.3L95.1,242.9L95.1,242.5L95.0,242.1L95.0,241.7L94.9,241.3L94.9,240.9L94.8,240.5L94.8,240.1L94.8,239.7L94.7,239.3L94.7,238.9L94.6,238.5L94.5,238.1L94.5,237.7L94.4,237.3L94.4,236.9L94.3,236.5L94.2,236.1L94.2,235.7L94.1,235.3L94.0,234.9L94.0,234.5L93.9,234.1L93.8,233.8L93.8,233.4L93.7,233.0L93.6,232.6L93.5,232.2L93.4,231.8L93.4,231.4L93.3,231.0L93.2,230.6L93.1,230.2L93.0,229.8L92.9,229.4L92.8,229.1L92.7,228.7L92.6,228.3L92.5,227.9L92.4,227.5L92.3,227.1L92.2,226.7L92.1,226.3L92.0,226.0L91.9,225.6L91.8,225.2L91.7,224.8L91.6,224.4L91.5,224.0L91.4,223.6L91.3,223.3L91.1,222.9L91.0,222.5L90.9,222.1L90.8,221.7L90.7,221.4L90.5,221.0L90.4,220.6L90.3,220.2L90.2,219.8L90.0,219.5L89.9,219.1L89.8,218.7L89.6,218.3L89.5,218.0L89.3,217.6L89.2,217.2L89.1,216.8L88.9,216.5L88.8,216.1L88.6,215.7L88.5,215.3L88.3,215.0L88.2,214.6L88.0,214.2L87.9,213.9L87.7,213.5L87.6,213.1L87.4,212.8L87.3,212.4L87.1,212.0L86.9,211.7L86.8,211.3L86.6,210.9L86.4,210.6L86.3,210.2L86.1,209.8L85.9,209.5L85.7,209.1L85.6,208.8L85.4,208.4L85.2,208.0L85.0,207.7L84.9,207.3L84.7,207.0L84.5,206.6L84.3,206.3L84.1,205.9L83.9,205.6L83.7,205.2L83.6,204.8L83.4,204.5L83.2,204.1L83.0,203.8L82.8,203.5L82.6,203.1L82.4,202.8L82.2,202.4L82.0,202.1L81.8,201.7L81.6,201.4L81.4,201.0L81.2,200.7L80.9,200.4L80.7,200.0M68.4,184.3L68.2,184.0L67.9,183.7L67.6,183.4L67.3,183.1L67.0,182.9L66.8,182.6L66.5,182.3L66.2,182.0L65.9,181.7L65.6,181.5L65.3,181.2L65.0,180.9L64.7,180.7L64.4,180.4L64.1,180.1L63.8,179.8L63.5,179.6L63.2,179.3L62.9,179.1L62.6,178.8L62.3,178.5L62.0,178.3L61.7,178.0L61.4,177.8L61.1,177.5L60.8,177.2L60.5,177.0L60.2,176.7L59.9,176.5L59.5,176.2L59.2,176.0L58.9,175.8L58.6,175.5L58.3,175.3L58.0,175.0L57.6,174.8L57.3,174.5L57.0,174.3L56.7,174.1L56.3,173.8L56.0,173.6L55.7,173.4L55.4,173.1L55.0,172.9L54.7,172.7L54.4,172.5L54.0,172.2L53.7,172.0L53.4,171.8L53.0,171.6L52.7,171.4L52.4,171.2L52.0,170.9L51.7,170.7L51.4,170.5L51.0,170.3L50.7,170.1L50.3,169.9L50.0,169.7L49.6,169.5L49.3,169.3L48.9,169.1L48.6,168.9L48.2,168.7L47.9,168.5L47.5,168.3L47.2,168.1L46.8,167.9L46.5,167.7L46.1,167.6L45.8,167.4L45.4,167.2L45.1,167.0L44.7,166.8L44.4,166.7L44.0,166.5L43.6,166.3L43.3,166.1L42.9,166.0L42.5,165.8L42.2,165.6L41.8,165.5L41.5,165.3L41.1,165.1L40.7,165.0L40.4,164.8L40.0,164.7L39.6,164.5L39.2,164.4L38.9,164.2L38.5,164.1L38.1,163.9L37.8,163.8L37.4,163.6L37.0,163.5L36.6,163.3L36.3,163.2L35.9,163.1L35.5,162.9L35.1,162.8L34.8,162.7L34.4,162.5L34.0,162.4L33.6,162.3L33.2,162.2L32.9,162.1L32.5,161.9L32.1,161.8L31.7,161.7L31.3,161.6L30.9,161.5L30.5,161.4L30.2,161.3L29.8,161.2L29.4,161.1L29.0,161.0L28.6,160.9L28.2,160.8L27.8,160.7L27.4,160.6L27.1,160.5L26.7,160.4L26.3,160.3L25.9,160.2L25.5,160.2L25.1,160.1L24.7,160.0L24.3,159.9L23.9,159.8L23.5,159.8L23.1,159.7L22.7,159.6L22.3,159.6L22.0,159.5L21.6,159.4L21.2,159.4L20.8,159.3L20.4,159.3L20.0,159.2L19.6,159.2L19.2,159.1L18.8,159.1L18.4,159.0L18.0,159.0L17.6,159.0L17.2,158.9L16.8,158.9L16.4,158.9L16.0,158.8L15.6,158.8L15.2,158.8L14.8,158.7L14.4,158.7L14.0,158.7L13.6,158.7L13.2,158.7L12.8,158.7L12.4,158.6L12.0,158.6L11.6,158.6L11.2,158.6L10.8,158.6L10.4,158.6L10.0,158.6L9.6,158.6L9.2,158.6L8.8,158.6L8.4,158.7L8.0,158.7L7.6,158.7L7.2,158.7L6.8,158.7L6.4,158.7L6.0,158.8L5.6,158.8L5.2,158.8L4.8,158.9L4.4,158.9L4.0,158.9L3.6,159.0L3.2,159.0L2.8,159.0L2.4,159.1L2.0,159.1L1.6,159.2L1.2,159.2L0.8,159.3L0.4,159.4L0.0,159.4L-0.4,159.5L-0.8,159.5L-1.1,159.6L-1.5,159.7L-1.9,159.7L-2.3,159.8L-2.7,159.9L-3.1,160.0L-3.5,160.0L-3.9,160.1L-4.3,160.2L-4.7,160.3L-5.1,160.4L-5.5,160.5L-5.8,160.6L-6.2,160.6L-6.6,160.7L-7.0,160.8L-7.4,160.9L-7.8,161.0L-8.2,161.1L-8.6,161.3L-8.9,161.4L-9.3,161.5L-9.7,161.6L-10.1,161.7L-10.5,161.8L-10.9,161.9L-11.2,162.1L-11.6,162.2L-12.0,162.3L-12.4,162.4L-12.8,162.6L-13.1,162.7L-13.5,162.8L-13.9,163.0L-14.3,163.1L-14.6,163.3L-15.0,163.4L-15.4,163.6L-15.8,163.7L-16.1,163.9L-16.5,164.0L-16.9,164.2L-17.2,164.3L-17.6,164.5L-18.0,164.6L-18.3,164.8L-18.7,165.0L-19.1,165.1L-19.4,165.3L-19.8,165.5L-20.1,165.6L-20.5,165.8L-20.9,166.0L-21.2,166.2L-21.6,166.3L-21.9,166.5L-22.3,166.7L-22.6,166.9L-23.0,167.1L-23.3,167.3L-23.7,167.5L-24.0,167.7L-24.4,167.9L-24.7,168.1L-25.1,168.3L-25.4,168.5L-25.8,168.7L-26.1,168.9L-26.5,169.1L-26.8,169.3L-27.1,169.5L-27.5,169.7L-27.8,169.9L-28.2,170.1L-28.5,170.4L-28.8,170.6L-29.2,170.8L-29.5,171.0L-29.8,171.2L-30.2,171.5L-30.5,171.7L-30.8,171.9L-31.1,172.2L-31.5,172.4L-31.8,172.6L-32.1,172.9L-32.4,173.1L-32.7,173.4L-33.1,173.6L-33.4,173.8L-33.7,174.1L-34.0,174.3L-34.3,174.6L-34.6,174.8L-34.9,175.1L-35.3,175.3L-35.6,175.6L-35.9,175.8L-36.2,176.1L-36.5,176.4L-36.8,176.6L-37.1,176.9L-37.4,177.2L-37.7,177.4L-38.0,177.7L-38.3,178.0L-38.6,178.2L-38.9,178.5L-39.2,178.8L-39.4,179.0L-39.7,179.3L-40.0,179.6L-40.3,179.9L-40.6,180.2L-40.9,180.4L-41.2,180.7L-41.4,181.0L-41.7,181.3L-42.0,181.6L-42.3,181.9L-42.5,182.2" fill="none" stroke="#000" stroke-width="1.4" stroke-dasharray="4.6 1.8"/>
<path d="M102.4,305.7L102.5,305.3L102.7,305.0L102.9,304.6L103.1,304.3L103.2,303.9L103.4,303.5L103.6,303.2L103.8,302.8L103.9,302.5L104.1,302.1L104.3,301.7L104.4,301.4L104.6,301.0L104.8,300.6L104.9,300.3L105.1,299.9L105.2,299.5L105.4,299.2L105.6,298.8L105.7,298.4L105.9,298.1L106.0,297.7L106.2,297.3L106.3,297.0L106.5,296.6L106.6,296.2L106.8,295.9L106.9,295.5L107.1,295.1L107.2,294.7L107.4,294.4L107.5,294.0L107.6,293.6L107.8,293.2L107.9,292.9L108.1,292.5L108.2,292.1L108.3,291.7L108.5,291.4L108.6,291.0L108.7,290.6L108.9,290.2L109.0,289.8L109.1,289.5L109.2,289.1L109.4,288.7L109.5,288.3L109.6,287.9L109.7,287.6L109.8,287.2L110.0,286.8L110.1,286.4L110.2,286.0L110.3,285.6L110.4,285.3L110.5,284.9L110.6,284.5L110.7,284.1L110.8,283.7L111.0,283.3L111.1,282.9L111.2,282.6L111.3,282.2L111.4,281.8L111.5,281.4L111.6,281.0L111.7,280.6L111.8,280.2L111.8,279.8L111.9,279.5L112.0,279.1L112.1,278.7L112.2,278.3L112.3,277.9L112.4,277.5L112.5,277.1L112.5,276.7L112.6,276.3L112.7,275.9L112.8,275.6L112.9,275.2L112.9,274.8L113.0,274.4L113.1,274.0L113.2,273.6L113.2,273.2L113.3,272.8L113.4,272.4L113.5,272.0L113.5,271.6L113.6,271.2L113.6,270.8L113.7,270.4L113.8,270.0L113.8,269.6L113.9,269.2L113.9,268.8L114.0,268.5L114.1,268.1L114.1,267.7L114.2,267.3L114.2,266.9L114.3,266.5L114.3,266.1L114.4,265.7L114.4,265.3L114.4,264.9L114.5,264.5L114.5,264.1L114.6,263.7L114.6,263.3L114.6,262.9L114.7,262.5L114.7,262.1L114.7,261.7L114.8,261.3L114.8,260.9L114.8,260.5L114.9,260.1L114.9,259.7L114.9,259.3L114.9,258.9L115.0,258.5L115.0,258.1L115.0,257.7L115.0,257.3L115.0,256.9L115.1,256.5L115.1,256.1L115.1,255.7L115.1,255.3L115.1,254.9L115.1,254.5L115.1,254.1L115.1,253.7L115.1,253.3L115.1,252.9L115.1,252.5L115.1,252.1L115.1,251.7L115.1,251.3L115.1,250.9L115.1,250.5L115.1,250.1L115.1,249.7L115.1,249.3L115.1,248.9L115.1,248.5L115.1,248.1L115.1,247.7L115.0,247.3L115.0,246.9L115.0,246.5L115.0,246.1L115.0,245.7L115.0,245.3L114.9,244.9L114.9,244.5L114.9,244.1L114.9,243.7L114.8,243.3L114.8,242.9L114.8,242.5L114.7,242.1L114.7,241.7L114.7,241.3L114.6,240.9L114.6,240.5L114.5,240.1L114.5,239.7L114.5,239.3L114.4,238.9L114.4,238.5L114.3,238.1L114.3,237.7L114.2,237.3L114.2,236.9L114.1,236.5L114.1,236.2L114.0,235.8L114.0,235.4L113.9,235.0L113.9,234.6L113.8,234.2L113.7,233.8L113.7,233.4L113.6,233.0L113.6,232.6L113.5,232.2L113.4,231.8L113.4,231.4L113.3,231.0L113.2,230.6L113.1,230.2L113.1,229.8L113.0,229.4L112.9,229.0L112.8,228.7L112.8,228.3L112.7,227.9L112.6,227.5L112.5,227.1L112.4,226.7L112.3,226.3L112.3,225.9L112.2,225.5L112.1,225.1L112.0,224.7L111.9,224.4L111.8,224.0L111.7,223.6L111.6,223.2L111.5,222.8L111.4,222.4L111.3,222.0L111.2,221.6L111.1,221.3L111.0,220.9L110.9,220.5L110.8,220.1L110.7,219.7L110.6,219.3L110.5,218.9L110.4,218.6L110.3,218.2L110.1,217.8L110.0,217.4L109.9,217.0L109.8,216.6L109.7,216.3L109.5,215.9L109.4,215.5L109.3,215.1L109.2,214.7L109.1,214.4L108.9,214.0L108.8,213.6L108.7,213.2L108.5,212.8L108.4,212.5L108.3,212.1L108.1,211.7L108.0,211.3L107.9,211.0L107.7,210.6L107.6,210.2L107.4,209.8L107.3,209.5L107.2,209.1L107.0,208.7L106.9,208.3L106.7,208.0L106.6,207.6L106.4,207.2L106.3,206.9L106.1,206.5L106.0,206.1L105.8,205.8L105.7,205.4L105.5,205.0L105.3,204.6L105.2,204.3L105.0,203.9L104.9,203.5L104.7,203.2L104.5,202.8L104.4,202.5L104.2,202.1L104.0,201.7L103.9,201.4L103.7,201.0L103.5,200.6L103.3,200.3L103.2,199.9L103.0,199.6L102.8,199.2L102.6,198.8L102.5,198.5L102.3,198.1L102.1,197.8L101.9,197.4L101.7,197.1L101.5,196.7L101.4,196.4L101.2,196.0L101.0,195.7L100.8,195.3L100.6,195.0L100.4,194.6L100.2,194.2L100.0,193.9L99.8,193.6L99.6,193.2L99.4,192.9L99.2,192.5L99.0,192.2L98.8,191.8L98.6,191.5L98.4,191.1L98.2,190.8L98.0,190.4L97.8,190.1L97.6,189.8L97.4,189.4L97.2,189.1L96.9,188.7L96.7,188.4L96.5,188.1L96.3,187.7L96.1,187.4L95.9,187.1L95.6,186.7L95.4,186.4L95.2,186.1L95.0,185.7L94.8,185.4L94.5,185.1L94.3,184.7L94.1,184.4L93.8,184.1L93.6,183.8L93.4,183.4L93.1,183.1L92.9,182.8L92.7,182.5L92.4,182.1L92.2,181.8L92.0,181.5L91.7,181.2L91.5,180.8L91.2,180.5L91.0,180.2L90.8,179.9L90.5,179.6L90.3,179.3L90.0,178.9L89.8,178.6L89.5,178.3L89.3,178.0L89.0,177.7L88.8,177.4L88.5,177.1L88.3,176.8L88.0,176.5L87.8,176.2L87.5,175.9L87.2,175.5L87.0,175.2L86.7,174.9L86.4,174.6L86.2,174.3L85.9,174.0L85.7,173.7L85.4,173.4L85.1,173.1L84.9,172.8L84.6,172.6L84.3,172.3L84.0,172.0L83.8,171.7L83.5,171.4L83.2,171.1L82.9,170.8L82.7,170.5L82.4,170.2L82.1,169.9L81.8,169.7L81.5,169.4L81.3,169.1L81.0,168.8L80.7,168.5L80.4,168.2L80.1,168.0L79.8,167.7L79.5,167.4L79.3,167.1L79.0,166.9L78.7,166.6L78.4,166.3L78.1,166.0L77.8,165.8L77.5,165.5L77.2,165.2L76.9,165.0L76.6,164.7L76.3,164.4L76.0,164.2L75.7,163.9L75.4,163.6L75.1,163.4L74.8,163.1L74.5,162.9L74.2,162.6L73.9,162.4L73.6,162.1L73.3,161.8L72.9,161.6L72.6,161.3L72.3,161.1L72.0,160.8L71.7,160.6L71.4,160.3L71.1,160.1L70.7,159.9L70.4,159.6L70.1,159.4L69.8,159.1L69.5,158.9L69.2,158.7L68.8,158.4L68.5,158.2L68.2,157.9L67.9,157.7L67.5,157.5L67.2,157.3L66.9,157.0L66.5,156.8L66.2,156.6L65.9,156.3L65.6,156.1L65.2,155.9L64.9,155.7M46.9,146.2L46.5,146.1L46.1,145.9L45.7,145.8L45.4,145.6L45.0,145.5L44.6,145.4L44.2,145.2L43.9,145.1L43.5,145.0L43.1,144.8L42.7,144.7L42.4,144.6L42.0,144.4L41.6,144.3L41.2,144.2L40.8,144.1L40.4,143.9L40.1,143.8L39.7,143.7L39.3,143.6L38.9,143.5L38.5,143.4L38.1,143.3L37.8,143.2L37.4,143.0L37.0,142.9L36.6,142.8L36.2,142.7L35.8,142.6L35.4,142.5L35.1,142.4L34.7,142.3L34.3,142.3L33.9,142.2L33.5,142.1L33.1,142.0L32.7,141.9L32.3,141.8L31.9,141.7L31.5,141.7L31.2,141.6L30.8,141.5L30.4,141.4L30.0,141.4L29.6,141.3L29.2,141.2L28.8,141.1L28.4,141.1L28.0,141.0L27.6,141.0L27.2,140.9L26.8,140.8L26.4,140.8L26.0,140.7L25.6,140.7L25.2,140.6L24.8,140.6L24.4,140.5L24.0,140.5L23.6,140.4L23.2,140.4L22.8,140.4L22.4,140.3L22.0,140.3L21.6,140.2L21.2,140.2L20.9,140.2L20.5,140.2L20.1,140.1L19.7,140.1L19.3,140.1L18.9,140.1L18.5,140.0L18.1,140.0L17.7,140.0L17.3,140.0L16.9,140.0L16.5,140.0L16.1,140.0L15.7,140.0L15.3,140.0L14.9,140.0L14.5,140.0L14.1,140.0L13.7,140.0L13.3,140.0L12.9,140.0L12.5,140.0L12.1,140.0L11.7,140.0L11.3,140.1L10.9,140.1L10.5,140.1L10.1,140.1L9.7,140.1L9.3,140.2L8.9,140.2L8.5,140.2L8.1,140.3L7.7,140.3L7.3,140.3L6.9,140.4L6.5,140.4L6.1,140.4L5.7,140.5L5.3,140.5L4.9,140.6L4.5,140.6L4.1,140.7L3.7,140.7L3.3,140.8L2.9,140.9L2.5,140.9L2.1,141.0L1.7,141.1L1.3,141.1L0.9,141.2L0.5,141.3L0.1,141.3L-0.3,141.4L-0.6,141.5L-1.0,141.6L-1.4,141.6L-1.8,141.7L-2.2,141.8L-2.6,141.9L-3.0,142.0L-3.4,142.1L-3.8,142.2L-4.2,142.3L-4.5,142.4L-4.9,142.5L-5.3,142.6L-5.7,142.7L-6.1,142.8L-6.5,142.9L-6.9,143.0L-7.3,143.1L-7.6,143.2L-8.0,143.3L-8.4,143.4L-8.8,143.5L-9.2,143.7L-9.5,143.8L-9.9,143.9L-10.3,144.0L-10.7,144.2L-11.1,144.3L-11.4,144.4L-11.8,144.6L-12.2,144.7L-12.6,144.8L-12.9,145.0L-13.3,145.1L-13.7,145.2L-14.1,145.4L-14.4,145.5L-14.8,145.7L-15.2,145.8L-15.6,146.0L-15.9,146.1L-16.3,146.3L-16.7,146.5L-17.0,146.6L-17.4,146.8L-17.8,146.9L-18.1,147.1L-18.5,147.3L-18.8,147.4L-19.2,147.6L-19.6,147.8L-19.9,148.0L-20.3,148.1L-20.7,148.3L-21.0,148.5L-21.4,148.7L-21.7,148.8L-22.1,149.0L-22.4,149.2L-22.8,149.4L-23.1,149.6L-23.5,149.8L-23.8,150.0L-24.2,150.2L-24.5,150.4L-24.9,150.6L-25.2,150.8L-25.6,151.0L-25.9,151.2L-26.3,151.4L-26.6,151.6L-27.0,151.8L-27.3,152.0L-27.6,152.2L-28.0,152.4L-28.3,152.6L-28.6,152.9L-29.0,153.1L-29.3,153.3L-29.6,153.5L-30.0,153.7L-30.3,154.0L-30.6,154.2L-31.0,154.4L-31.3,154.6L-31.6,154.9L-32.0,155.1L-32.3,155.3L-32.6,155.6L-32.9,155.8L-33.2,156.0L-33.6,156.3L-33.9,156.5L-34.2,156.8L-34.5,157.0L-34.8,157.2L-35.2,157.5L-35.5,157.7L-35.8,158.0L-36.1,158.2L-36.4,158.5L-36.7,158.7L-37.0,159.0L-37.3,159.3L-37.6,159.5L-37.9,159.8L-38.2,160.0L-38.5,160.3L-38.8,160.6L-39.1,160.8L-39.4,161.1L-39.7,161.4L-40.0,161.6L-40.3,161.9L-40.6,162.2L-40.9,162.4L-41.2,162.7L-41.5,163.0L-41.8,163.3L-42.1,163.5L-42.4,163.8L-42.7,164.1L-42.9,164.4L-43.2,164.7L-43.5,164.9L-43.8,165.2L-44.1,165.5L-44.3,165.8L-44.6,166.1L-44.9,166.4L-45.2,166.7L-45.4,167.0L-45.7,167.3L-46.0,167.6L-46.3,167.8L-46.5,168.1L-46.8,168.4" fill="none" stroke="#000" stroke-width="1.4" stroke-dasharray="4.6 1.8"/>
<path d="M30.0,119.8L30.4,119.9L30.8,120.0L31.2,120.1L31.6,120.2L31.9,120.3L32.3,120.3L32.7,120.4L33.1,120.5L33.5,120.6L33.9,120.7L34.3,120.8L34.7,120.9L35.1,121.0L35.5,121.1L35.8,121.2L36.2,121.3L36.6,121.4L37.0,121.5L37.4,121.6L37.8,121.6L38.2,121.7L38.6,121.8L38.9,121.9L39.3,122.0L39.7,122.1L40.1,122.2L40.5,122.3L40.9,122.4L41.3,122.5L41.7,122.6L42.1,122.7L42.5,122.8L42.8,122.9L43.2,123.0L43.6,123.1L44.0,123.2L44.4,123.3L44.8,123.4L45.1,123.5L45.5,123.6L45.9,123.8L46.3,123.9L46.7,124.0L47.1,124.1L47.4,124.2L47.8,124.4L48.2,124.5L48.6,124.6L49.0,124.7L49.3,124.8L49.7,125.0L50.1,125.1L50.5,125.2L50.9,125.3L51.3,125.4L51.6,125.6L52.0,125.7L52.4,125.8L52.8,125.9L53.1,126.1L53.5,126.2L53.9,126.3L54.3,126.5L54.7,126.6L55.0,126.7L55.4,126.9L55.8,127.0L56.2,127.2L56.5,127.3L56.9,127.4L57.3,127.6L57.7,127.7L58.0,127.9L58.4,128.0L58.8,128.2L59.1,128.4L59.5,128.5L59.9,128.7L60.2,128.9L60.6,129.0L60.9,129.2L61.3,129.4L61.7,129.6L62.0,129.7L62.4,129.9L62.7,130.1L63.1,130.3L63.4,130.5L63.8,130.7L64.1,130.9L64.5,131.1L64.8,131.3L65.2,131.5L65.5,131.6L65.9,131.8L66.2,132.0L66.6,132.2L66.9,132.4L67.3,132.7L67.6,132.9L67.9,133.1L68.3,133.3L68.6,133.5L69.0,133.7L69.3,133.9L69.7,134.1L70.0,134.3L70.4,134.5L70.7,134.7L71.0,134.9L71.4,135.1L71.7,135.3L72.1,135.5L72.4,135.7L72.8,135.9L73.1,136.1L73.5,136.3M90.1,148.1L90.4,148.3L90.7,148.6L91.0,148.8L91.3,149.1L91.6,149.4L91.9,149.6L92.2,149.9L92.5,150.2L92.8,150.4L93.1,150.7L93.4,151.0L93.6,151.3L93.9,151.6L94.1,152.0L94.3,152.3L94.6,152.6L94.8,152.9L95.1,153.2L95.3,153.5L95.6,153.8L95.8,154.1L96.1,154.5L96.4,154.8L96.6,155.0L96.9,155.3L97.2,155.6L97.4,155.9L97.7,156.2L98.0,156.5L98.3,156.8L98.5,157.1L98.8,157.4L99.1,157.7L99.3,158.0L99.6,158.3L99.9,158.6L100.1,158.9L100.4,159.2L100.7,159.5L100.9,159.8L101.2,160.1L101.5,160.4L101.7,160.7L102.0,161.0L102.2,161.3L102.5,161.6L102.8,161.9L103.0,162.2L103.3,162.5L103.5,162.8L103.8,163.2L104.0,163.5L104.3,163.8L104.5,164.1L104.7,164.4L105.0,164.7L105.2,165.1L105.5,165.4L105.7,165.7L105.9,166.0L106.2,166.4L106.4,166.7L106.6,167.0L106.8,167.4L107.1,167.7L107.3,168.0L107.5,168.3L107.7,168.7L108.0,169.0L108.2,169.3L108.4,169.7L108.6,170.0L108.8,170.3L109.1,170.7L109.3,171.0L109.5,171.3L109.7,171.7L109.9,172.0L110.2,172.4L110.4,172.7L110.6,173.0L110.8,173.4L111.0,173.7L111.2,174.0L111.4,174.4L111.7,174.7L111.9,175.1L112.1,175.4L112.3,175.7L112.5,176.1L112.7,176.4L112.9,176.8L113.1,177.1L113.3,177.4L113.5,177.8L113.7,178.1L113.9,178.5L114.2,178.8L114.4,179.2L114.6,179.5L114.8,179.8L115.0,180.2L115.2,180.5L115.4,180.9L115.6,181.2L115.8,181.6L116.0,181.9L116.2,182.3L116.3,182.6L116.5,183.0L116.7,183.3L116.9,183.7L117.1,184.0L117.3,184.4L117.5,184.8L117.7,185.1L117.8,185.5L118.0,185.8L118.2,186.2L118.4,186.5L118.6,186.9L118.7,187.2L118.9,187.6L119.1,188.0L119.3,188.3L119.4,188.7L119.6,189.0L119.8,189.4L120.0,189.8L120.1,190.1L120.3,190.5L120.5,190.8L120.7,191.2L120.8,191.6L121.0,191.9L121.2,192.3L121.3,192.6L121.5,193.0L121.7,193.4L121.9,193.7L122.0,194.1L122.2,194.4L122.4,194.8L122.6,195.2L122.8,195.5L122.9,195.9L123.1,196.2L123.3,196.6L123.4,197.0L123.6,197.3L123.8,197.7L123.9,198.1L124.1,198.4L124.2,198.8L124.4,199.2L124.5,199.6L124.6,199.9L124.8,200.3L124.9,200.7L125.1,201.1L125.2,201.4L125.3,201.8L125.5,202.2L125.6,202.6L125.8,202.9L125.9,203.3L126.0,203.7L126.2,204.1L126.3,204.4L126.4,204.8L126.5,205.2L126.7,205.6L126.8,206.0L126.9,206.3L127.1,206.7L127.2,207.1L127.3,207.5L127.4,207.9L127.6,208.2L127.7,208.6L127.8,209.0L127.9,209.4L128.1,209.8L128.2,210.1L128.3,210.5L128.4,210.9L128.6,211.3L128.7,211.7L128.8,212.0L128.9,212.4L129.0,212.8L129.1,213.2L129.3,213.6L129.4,213.9L129.5,214.3L129.6,214.7L129.7,215.1L129.9,215.5L130.0,215.9L130.1,216.2L130.2,216.6L130.3,217.0L130.4,217.4L130.5,217.8L130.6,218.2L130.7,218.6L130.8,218.9L130.9,219.3L131.0,219.7L131.1,220.1L131.2,220.5L131.3,220.9L131.4,221.3L131.5,221.7L131.6,222.0L131.7,222.4L131.8,222.8L131.9,223.2L132.0,223.6L132.0,224.0L132.1,224.4L132.2,224.8L132.3,225.2L132.4,225.6L132.5,226.0L132.5,226.4L132.6,226.7L132.7,227.1L132.8,227.5L132.8,227.9L132.9,228.3L133.0,228.7L133.0,229.1L133.1,229.5L133.2,229.9L133.3,230.3L133.3,230.7L133.4,231.1L133.5,231.5L133.5,231.9L133.6,232.3L133.6,232.7L133.7,233.0L133.8,233.4L133.8,233.8L133.9,234.2L133.9,234.6L134.0,235.0L134.1,235.4L134.1,235.8L134.2,236.2L134.2,236.6L134.3,237.0L134.3,237.4L134.4,237.8L134.4,238.2L134.5,238.6L134.5,239.0L134.6,239.4L134.6,239.8L134.7,240.2L134.7,240.6L134.8,241.0L134.8,241.4L134.9,241.8L134.9,242.2L134.9,242.6L135.0,243.0L135.0,243.4L135.1,243.8L135.1,244.2L135.1,244.6L135.2,245.0L135.2,245.4L135.2,245.8L135.3,246.2L135.3,246.6L135.3,247.0L135.3,247.3L135.4,247.7L135.4,248.1L135.4,248.5L135.4,248.9L135.4,249.3L135.5,249.7L135.5,250.1L135.5,250.5L135.5,250.9L135.5,251.3L135.5,251.7L135.5,252.1L135.5,252.5L135.4,252.9L135.4,253.3L135.4,253.7L135.4,254.1L135.4,254.5L135.4,254.9L135.3,255.3L135.3,255.7L135.3,256.1L135.3,256.5L135.3,256.9L135.2,257.3L135.2,257.7L135.2,258.1L135.2,258.5L135.2,258.9L135.1,259.3L135.1,259.7L135.1,260.1L135.1,260.5L135.0,260.9L135.0,261.3L135.0,261.7L134.9,262.1L134.9,262.5L134.9,262.9L134.8,263.3L134.8,263.7L134.8,264.1L134.8,264.5L134.7,264.9L134.7,265.3L134.7,265.7L134.6,266.1L134.6,266.5L134.6,266.9L134.5,267.3L134.5,267.7L134.5,268.1L134.5,268.5L134.4,268.9L134.4,269.3L134.4,269.7L134.3,270.1L134.3,270.5L134.3,270.9L134.2,271.3L134.2,271.7L134.2,272.1L134.2,272.5L134.1,272.9L134.1,273.3L134.1,273.7L134.0,274.1L134.0,274.5L134.0,274.9L133.9,275.3L133.9,275.7L133.9,276.1L133.9,276.5L133.8,276.9L133.8,277.3L133.8,277.7L133.7,278.1L133.7,278.5L133.7,278.9L133.7,279.3L133.6,279.7" fill="none" stroke="#000" stroke-width="1.4" stroke-dasharray="4.6 1.8"/>
<path d="M62.3,104.1h4.6l-2.3,4.6zM63.3,104.4h4.6l-2.3,4.6zM64.3,104.8h4.6l-2.3,4.6zM65.3,105.2h4.6l-2.3,4.6zM66.7,105.7h4.6l-2.3,4.6zM67.8,106.1h4.6l-2.3,4.6zM68.9,106.5h4.6l-2.3,4.6zM70.0,107.0h4.6l-2.3,4.6zM71.4,107.6h4.6l-2.3,4.6zM72.5,108.1h4.6l-2.3,4.6zM73.7,108.6h4.6l-2.3,4.6zM74.8,109.1h4.6l-2.3,4.6zM76.2,109.9h4.6l-2.3,4.6zM77.3,110.5h4.6l-2.3,4.6zM78.5,111.2h4.6l-2.3,4.6zM79.7,112.0h4.6l-2.3,4.6zM81.2,113.0h4.6l-2.3,4.6zM82.4,113.8h4.6l-2.3,4.6zM83.6,114.6h4.6l-2.3,4.6zM84.6,115.4h4.6l-2.3,4.6zM85.9,116.2h4.6l-2.3,4.6zM86.8,116.9h4.6l-2.3,4.6zM87.6,117.4h4.6l-2.3,4.6zM88.2,117.8h4.6l-2.3,4.6zM88.8,118.2h4.6l-2.3,4.6zM89.2,118.5h4.6l-2.3,4.6zM89.6,118.8h4.6l-2.3,4.6zM89.9,119.1h4.6l-2.3,4.6zM90.5,119.5h4.6l-2.3,4.6zM91.0,119.9h4.6l-2.3,4.6zM91.6,120.4h4.6l-2.3,4.6zM92.4,121.0h4.6l-2.3,4.6zM93.6,121.9h4.6l-2.3,4.6zM94.7,122.7h4.6l-2.3,4.6zM95.9,123.6h4.6l-2.3,4.6zM97.1,124.5h4.6l-2.3,4.6zM98.7,125.8h4.6l-2.3,4.6zM99.9,126.8h4.6l-2.3,4.6zM101.2,127.8h4.6l-2.3,4.6zM102.6,129.0h4.6l-2.3,4.6z" fill="#008000" stroke="#008000" stroke-width="1.5" stroke-linejoin="miter"/>
<path d="M114.4,141.8h4.6l-2.3,4.6zM115.2,142.7h4.6l-2.3,4.6zM116.4,144.0h4.6l-2.3,4.6zM117.6,145.4h4.6l-2.3,4.6zM118.7,146.7h4.6l-2.3,4.6zM119.9,148.0h4.6l-2.3,4.6zM121.0,149.4h4.6l-2.3,4.6zM122.1,150.6h4.6l-2.3,4.6zM123.2,151.9h4.6l-2.3,4.6zM124.1,153.1h4.6l-2.3,4.6zM125.0,154.2h4.6l-2.3,4.6zM125.9,155.4h4.6l-2.3,4.6zM126.7,156.5h4.6l-2.3,4.6zM127.5,157.5h4.6l-2.3,4.6zM128.2,158.6h4.6l-2.3,4.6zM128.9,159.6h4.6l-2.3,4.6zM129.6,160.7h4.6l-2.3,4.6zM130.3,161.7h4.6l-2.3,4.6zM131.0,162.7h4.6l-2.3,4.6zM131.7,163.8h4.6l-2.3,4.6zM132.3,164.8h4.6l-2.3,4.6zM132.9,165.9h4.6l-2.3,4.6zM133.5,166.9h4.6l-2.3,4.6zM134.1,167.9h4.6l-2.3,4.6zM134.7,169.0h4.6l-2.3,4.6zM135.3,170.0h4.6l-2.3,4.6zM135.8,171.0h4.6l-2.3,4.6zM136.3,172.0h4.6l-2.3,4.6zM136.8,173.0h4.6l-2.3,4.6zM137.3,173.9h4.6l-2.3,4.6zM137.8,174.9h4.6l-2.3,4.6zM138.3,175.8h4.6l-2.3,4.6zM138.7,176.7h4.6l-2.3,4.6zM139.1,177.6h4.6l-2.3,4.6zM139.5,178.5h4.6l-2.3,4.6zM139.9,179.4h4.6l-2.3,4.6zM140.3,180.3h4.6l-2.3,4.6zM140.7,181.1h4.6l-2.3,4.6zM141.1,182.0h4.6l-2.3,4.6zM141.5,182.9h4.6l-2.3,4.6z" fill="#ff0000" stroke="#ff0000" stroke-width="1.5" stroke-linejoin="miter"/>
<path d="M146.7,196.9h4.6l-2.3,4.6zM146.9,197.5h4.6l-2.3,4.6zM147.1,198.2h4.6l-2.3,4.6zM147.4,199.0h4.6l-2.3,4.6zM147.8,200.1h4.6l-2.3,4.6zM148.1,201.0h4.6l-2.3,4.6zM148.4,201.9h4.6l-2.3,4.6zM148.7,202.9h4.6l-2.3,4.6zM149.2,204.3h4.6l-2.3,4.6zM149.6,205.3h4.6l-2.3,4.6zM149.9,206.4h4.6l-2.3,4.6zM150.4,207.9h4.6l-2.3,4.6zM150.7,209.0h4.6l-2.3,4.6zM151.0,210.1h4.6l-2.3,4.6zM151.3,211.3h4.6l-2.3,4.6zM151.7,212.8h4.6l-2.3,4.6zM151.9,214.0h4.6l-2.3,4.6zM152.2,215.2h4.6l-2.3,4.6zM152.5,216.8h4.6l-2.3,4.6zM152.7,218.1h4.6l-2.3,4.6zM152.9,219.4h4.6l-2.3,4.6zM153.1,220.7h4.6l-2.3,4.6zM153.4,222.4h4.6l-2.3,4.6zM153.5,223.7h4.6l-2.3,4.6zM153.7,225.0h4.6l-2.3,4.6zM153.9,226.6h4.6l-2.3,4.6zM154.1,227.8h4.6l-2.3,4.6zM154.2,229.0h4.6l-2.3,4.6zM154.3,230.1h4.6l-2.3,4.6zM154.5,231.6h4.6l-2.3,4.6zM154.5,232.6h4.6l-2.3,4.6zM154.6,233.7h4.6l-2.3,4.6zM154.7,235.1h4.6l-2.3,4.6zM154.8,236.1h4.6l-2.3,4.6zM154.8,237.1h4.6l-2.3,4.6zM154.9,238.1h4.6l-2.3,4.6zM154.9,239.4h4.6l-2.3,4.6zM154.9,240.4h4.6l-2.3,4.6zM155.0,241.4h4.6l-2.3,4.6zM155.0,242.7h4.6l-2.3,4.6z" fill="#1f77b4" stroke="#1f77b4" stroke-width="1.5" stroke-linejoin="miter"/>
<path d="M30.0,97.2L30.4,97.3L30.8,97.4L31.2,97.4L31.6,97.5L32.0,97.6L32.4,97.7L32.7,97.7L33.1,97.8L33.5,97.9L33.9,98.0L34.3,98.0L34.7,98.1L35.1,98.2L35.5,98.3L35.9,98.4L36.3,98.4L36.7,98.5L37.1,98.6L37.5,98.7L37.8,98.8L38.2,98.9L38.6,98.9L39.0,99.0L39.4,99.1L39.8,99.2L40.2,99.3L40.6,99.4L41.0,99.5L41.4,99.6L41.7,99.7L42.1,99.7L42.5,99.8L42.9,99.9L43.3,100.0L43.7,100.1L44.1,100.2L44.5,100.4L44.8,100.5L45.2,100.6L45.6,100.7L46.0,100.8L46.4,100.9L46.8,101.0L47.2,101.1L47.5,101.2L47.9,101.3L48.3,101.4L48.7,101.5L49.1,101.6L49.5,101.7L49.9,101.9L50.2,102.0L50.6,102.1L51.0,102.2L51.4,102.3L51.8,102.4L52.2,102.5L52.5,102.6L52.9,102.7L53.3,102.9L53.7,103.0L54.1,103.1L54.5,103.2L54.8,103.3L55.2,103.4L55.6,103.5L56.0,103.7L56.4,103.8L56.8,103.9L57.1,104.0L57.5,104.1L57.9,104.2L58.3,104.4L58.7,104.5L59.1,104.6L59.4,104.7L59.8,104.8L60.2,105.0L60.6,105.1L61.0,105.2L61.3,105.3L61.7,105.4L62.1,105.6L62.5,105.7L62.9,105.8L63.2,105.9L63.6,106.1L64.0,106.2L64.4,106.3L64.8,106.4L65.1,106.6L65.5,106.7L65.9,106.8L66.3,107.0L66.6,107.1L67.0,107.3L67.4,107.4L67.8,107.5L68.1,107.7L68.5,107.8L68.9,108.0L69.3,108.1L69.6,108.3L70.0,108.4L70.4,108.5L70.8,108.7L71.1,108.8L71.5,109.0L71.9,109.1L72.2,109.3L72.6,109.4L73.0,109.6L73.4,109.7L73.7,109.9L74.1,110.0L74.5,110.2L74.8,110.4L75.2,110.5L75.6,110.7L75.9,110.8L76.3,111.0L76.6,111.2L77.0,111.4L77.4,111.6L77.7,111.7L78.1,111.9L78.4,112.1L78.8,112.3L79.1,112.5L79.5,112.7L79.8,112.9L80.1,113.1L80.5,113.3L80.8,113.5L81.2,113.8L81.5,114.0L81.8,114.2L82.2,114.4L82.5,114.6L82.8,114.8L83.2,115.1L83.5,115.3L83.8,115.5L84.2,115.7L84.5,116.0L84.8,116.2L85.2,116.4L85.5,116.6L85.8,116.9L86.1,117.1L86.5,117.3L86.8,117.6L87.1,117.8L87.5,118.0L87.8,118.2L88.1,118.5L88.4,118.7L88.8,118.9L89.1,119.2L89.4,119.4L89.8,119.6L90.1,119.8L90.4,120.1L90.7,120.3L91.1,120.5L91.4,120.7L91.7,121.0L92.1,121.2L92.4,121.5L92.7,121.7L93.0,121.9L93.3,122.2L93.6,122.4L94.0,122.7L94.3,122.9L94.6,123.2L94.9,123.4L95.2,123.7L95.5,123.9L95.9,124.1L96.2,124.4L96.5,124.6L96.8,124.9L97.1,125.1L97.4,125.4L97.8,125.6L98.1,125.8L98.4,126.1M112.6,139.5L112.9,139.8L113.2,140.1L113.4,140.4L113.7,140.7L113.9,141.0L114.2,141.3L114.5,141.6L114.7,141.9L115.0,142.2L115.3,142.5L115.5,142.8L115.8,143.1L116.1,143.4L116.3,143.7L116.6,144.0L116.9,144.3L117.1,144.6L117.4,144.9L117.7,145.2L117.9,145.5L118.2,145.8L118.5,146.1L118.7,146.4L119.0,146.7L119.3,147.0L119.5,147.3L119.8,147.6L120.0,147.9L120.3,148.2L120.6,148.5L120.8,148.8L121.1,149.1L121.4,149.4L121.6,149.7L121.9,150.0L122.2,150.3L122.4,150.6L122.7,150.9L122.9,151.2L123.2,151.5L123.5,151.8L123.7,152.1L124.0,152.4L124.2,152.7L124.5,153.0L124.7,153.3L125.0,153.6L125.3,153.9L125.5,154.2L125.8,154.6L126.0,154.9L126.3,155.2L126.5,155.5L126.8,155.8L127.0,156.1L127.3,156.4L127.5,156.8L127.7,157.1L128.0,157.4L128.2,157.7L128.5,158.0L128.7,158.4L128.9,158.7L129.2,159.0L129.4,159.3L129.6,159.6L129.9,160.0L130.1,160.3L130.3,160.6L130.6,160.9L130.8,161.3L131.0,161.6L131.3,161.9L131.5,162.3L131.7,162.6L131.9,162.9L132.2,163.3L132.4,163.6L132.6,163.9L132.8,164.3L133.0,164.6L133.2,164.9L133.5,165.3L133.7,165.6L133.9,165.9L134.1,166.3L134.3,166.6L134.5,167.0L134.7,167.3L134.9,167.6L135.1,168.0L135.3,168.3L135.6,168.7L135.8,169.0L135.9,169.4L136.1,169.7L136.3,170.1L136.5,170.4L136.7,170.8L136.9,171.1L137.1,171.5L137.3,171.8L137.5,172.2L137.7,172.5L137.9,172.9L138.1,173.2L138.2,173.6L138.4,173.9L138.6,174.3L138.8,174.7L139.0,175.0L139.2,175.4L139.4,175.7L139.5,176.1L139.7,176.4L139.9,176.8L140.1,177.1L140.3,177.5L140.4,177.9L140.6,178.2L140.8,178.6L141.0,178.9L141.1,179.3L141.3,179.7L141.5,180.0L141.7,180.4L141.8,180.7L142.0,181.1L142.2,181.5L142.3,181.8L142.5,182.2L142.6,182.6L142.8,182.9L143.0,183.3L143.1,183.7L143.3,184.0L143.4,184.4L143.6,184.8L143.8,185.1L143.9,185.5L144.1,185.9L144.2,186.2L144.4,186.6L144.5,187.0L144.7,187.4L144.8,187.7L145.0,188.1L145.1,188.5L145.2,188.9L145.4,189.2L145.5,189.6L145.7,190.0L145.8,190.4L145.9,190.7L146.1,191.1L146.2,191.5L146.4,191.9L146.5,192.2L146.6,192.6L146.8,193.0L146.9,193.4L147.0,193.7L147.2,194.1L147.3,194.5L147.5,194.9L147.6,195.2L147.7,195.6L147.9,196.0L148.0,196.4L148.1,196.7L148.3,197.1L148.4,197.5L148.5,197.9L148.7,198.2L148.8,198.6L148.9,199.0L149.1,199.4L149.2,199.8L149.3,200.1L149.4,200.5L149.6,200.9L149.7,201.3L149.8,201.7L149.9,202.0L150.1,202.4L150.2,202.8L150.3,203.2L150.5,203.5L150.6,203.9L150.7,204.3L150.9,204.7L151.0,205.1L151.1,205.4L151.3,205.8L151.4,206.2L151.5,206.6L151.6,207.0L151.8,207.3L151.9,207.7L152.0,208.1L152.1,208.5L152.3,208.9L152.4,209.2L152.5,209.6L152.6,210.0L152.7,210.4L152.9,210.8L153.0,211.1L153.1,211.5L153.2,211.9L153.3,212.3L153.4,212.7L153.5,213.1L153.6,213.5L153.7,213.9L153.8,214.2L153.9,214.6L154.0,215.0L154.1,215.4L154.1,215.8L154.2,216.2L154.3,216.6L154.4,217.0L154.5,217.4L154.5,217.8L154.6,218.2L154.7,218.5L154.8,218.9L154.8,219.3L154.9,219.7L155.0,220.1L155.0,220.5L155.1,220.9L155.2,221.3L155.2,221.7L155.3,222.1L155.3,222.5L155.4,222.9L155.5,223.3L155.5,223.7L155.6,224.1L155.6,224.5L155.7,224.9L155.7,225.3L155.8,225.7L155.9,226.1L155.9,226.5L156.0,226.8L156.0,227.2L156.1,227.6L156.1,228.0L156.2,228.4L156.2,228.8L156.3,229.2L156.3,229.6L156.4,230.0L156.4,230.4L156.4,230.8L156.5,231.2L156.5,231.6L156.6,232.0L156.6,232.4L156.7,232.8L156.7,233.2L156.7,233.6L156.8,234.0L156.8,234.4L156.8,234.8L156.9,235.2L156.9,235.6L156.9,236.0L156.9,236.4L157.0,236.8L157.0,237.2L157.0,237.6L157.0,238.0L157.1,238.4L157.1,238.8L157.1,239.2L157.1,239.6L157.1,240.0L157.2,240.4L157.2,240.8L157.2,241.2L157.2,241.6L157.2,242.0L157.2,242.4L157.2,242.8L157.2,243.2L157.3,243.6L157.3,244.0L157.3,244.4L157.3,244.8L157.3,245.2L157.3,245.6L157.3,246.0L157.3,246.4L157.3,246.8L157.3,247.2L157.4,247.6L157.4,248.0L157.4,248.4L157.4,248.8L157.4,249.2L157.4,249.6L157.4,250.0L157.4,250.4L157.4,250.8L157.4,251.2L157.4,251.6L157.4,252.0L157.4,252.4L157.4,252.8L157.4,253.2L157.4,253.6L157.3,254.0L157.3,254.4L157.3,254.8L157.3,255.2L157.3,255.6L157.3,256.0L157.3,256.4L157.3,256.8L157.3,257.2L157.3,257.6L157.3,258.0L157.3,258.4L157.3,258.8L157.3,259.2L157.3,259.6L157.3,260.0L157.3,260.4L157.3,260.8L157.2,261.2L157.2,261.6L157.2,262.0L157.2,262.4L157.2,262.8L157.2,263.2L157.2,263.6L157.2,264.0L157.2,264.4L157.2,264.8L157.2,265.2L157.1,265.6L157.1,266.0L157.1,266.4L157.1,266.8L157.1,267.2L157.1,267.6L157.1,268.0L157.1,268.4L157.0,268.8L157.0,269.2L157.0,269.6L157.0,270.0L157.0,270.4L157.0,270.8L157.0,271.2L156.9,271.6L156.9,272.0L156.9,272.4L156.9,272.8L156.9,273.2L156.9,273.6L156.8,274.0L156.8,274.4L156.8,274.8L156.8,275.2L156.8,275.6L156.8,276.0L156.7,276.4L156.7,276.8L156.7,277.2L156.7,277.6L156.7,278.0L156.7,278.4L156.6,278.8L156.6,279.2L156.6,279.6L156.6,280.0L156.6,280.4L156.6,280.8L156.5,281.2L156.5,281.6L156.5,282.0" fill="none" stroke="#000" stroke-width="1.4" stroke-dasharray="4.6 1.8"/>
<path d="M99.0,123.6 L100.5,121.3 L102.0,119.1 L103.5,116.8 L105.1,114.6 L106.6,112.3 L108.1,110.1 L109.6,107.8 L111.1,105.6 L112.6,103.3 L114.1,101.1 L115.7,98.8 L117.2,96.6 L118.7,94.3 L120.3,92.1 L121.9,89.7 L123.5,87.4 L125.1,85.1 L126.7,82.8 L128.3,80.5 L129.8,78.3 L131.3,76.1 L132.8,74.0 L134.3,71.9 L135.7,70.0 L137.1,68.2 L138.4,66.4 L139.6,64.7 L140.9,63.1 L142.1,61.5 L143.2,60.0 L144.4,58.5 L145.6,57.1 L146.7,55.6 L147.9,54.1 L149.1,52.6 L150.3,51.0" fill="none" stroke="#008000" stroke-width="1.5" stroke-linecap="butt"/>
<path d="M104.3,126.4 L106.0,125.5 L107.6,124.6 L109.4,123.6 L111.1,122.7 L112.8,121.8 L114.5,120.9 L116.2,120.0 L117.9,119.1 L119.5,118.1 L121.0,117.2 L122.6,116.3 L124.0,115.3 L125.4,114.3 L126.6,113.4 L127.8,112.4 L128.9,111.4 L130.0,110.4 L131.1,109.4 L132.2,108.4 L133.2,107.4 L134.4,106.4 L135.5,105.4 L136.7,104.3 L138.0,103.3 L139.4,102.3 L140.8,101.2 L142.2,100.2 L143.7,99.1 L145.1,98.0 L146.7,96.9 L148.2,95.9 L149.7,94.8 L151.3,93.7 L152.9,92.6 L154.4,91.4 L156.0,90.3 L157.6,89.2 L159.2,88.0 L160.8,86.8 L162.4,85.6 L164.0,84.4 L165.6,83.2 L167.2,82.0 L168.9,80.8 L170.5,79.6 L172.2,78.4 L173.8,77.2 L175.4,76.0" fill="none" stroke="#008000" stroke-width="1.5" stroke-linecap="butt"/>
<path d="M139.5,167.8 L142.2,165.7 L144.9,163.7 L147.5,161.7 L150.2,159.7 L152.8,157.6 L155.5,155.6 L158.2,153.6 L160.9,151.5 L163.6,149.4 L166.3,147.3 L169.1,145.2 L172.0,143.0 L174.9,140.8 L177.9,138.5 L180.9,136.2 L183.9,133.9 L187.0,131.6 L190.0,129.2 L193.1,126.8 L196.2,124.5 L199.4,122.1 L202.5,119.7 L205.5,117.3 L208.6,115.0" fill="none" stroke="#ff0000" stroke-width="1.5" stroke-linecap="butt"/>
<path d="M143.2,176.3 L145.0,176.0 L146.8,175.8 L148.5,175.6 L150.3,175.4 L152.0,175.2 L153.7,174.9 L155.5,174.7 L157.3,174.4 L159.2,174.1 L161.2,173.8 L163.2,173.4 L165.4,173.0 L167.8,172.5 L170.4,171.9 L173.2,171.2 L176.1,170.5 L179.1,169.8 L182.1,169.0 L185.0,168.3 L187.9,167.6 L190.5,166.9 L193.0,166.2 L195.2,165.7 L197.0,165.2 L198.4,164.8 L199.5,164.6 L200.3,164.3 L200.9,164.2 L201.3,164.1 L201.6,164.0 L201.8,163.9 L202.1,163.8 L202.5,163.7 L203.1,163.5 L203.9,163.3 L205.0,163.0 L206.4,162.6 L207.9,162.2 L209.6,161.8 L211.4,161.3 L213.3,160.8 L215.3,160.2 L217.4,159.7 L219.5,159.1 L221.5,158.6 L223.6,158.0 L225.6,157.5 L227.5,157.0" fill="none" stroke="#ff0000" stroke-width="1.5" stroke-linecap="butt"/>
<path d="M158.8,227.7 L160.1,227.0 L161.4,226.2 L162.7,225.5 L164.0,224.8 L165.3,224.0 L166.5,223.3 L167.8,222.6 L169.2,221.8 L170.5,221.1 L172.0,220.4 L173.4,219.7 L175.0,219.0 L176.6,218.3 L178.2,217.7 L179.8,217.0 L181.5,216.4 L183.2,215.7 L185.0,215.1 L186.8,214.5 L188.6,213.8 L190.6,213.1 L192.6,212.5 L194.8,211.7 L197.0,211.0 L199.4,210.2 L201.9,209.4 L204.5,208.6 L207.2,207.8 L209.9,206.9 L212.8,206.0 L215.6,205.2 L218.5,204.3 L221.4,203.4 L224.3,202.5 L227.1,201.7 L229.9,200.8" fill="none" stroke="#1f77b4" stroke-width="1.5" stroke-linecap="butt"/>
<path d="M158.8,236.3 L159.4,236.6 L160.0,236.9 L160.5,237.1 L161.1,237.4 L161.7,237.7 L162.2,238.0 L162.8,238.3 L163.4,238.5 L164.0,238.8 L164.7,239.1 L165.3,239.3 L166.0,239.6 L166.7,239.8 L167.4,240.1 L168.1,240.3 L168.8,240.6 L169.5,240.8 L170.3,241.0 L171.0,241.2 L171.9,241.5 L172.7,241.7 L173.7,241.9 L174.6,242.1 L175.7,242.3 L176.8,242.5 L178.0,242.7 L179.3,242.9 L180.6,243.1 L181.9,243.3 L183.3,243.5 L184.7,243.7 L186.2,243.9 L187.7,244.1 L189.2,244.3 L190.8,244.4 L192.3,244.6 L193.9,244.8 L195.6,244.9 L197.3,245.0 L199.0,245.2 L200.8,245.3 L202.6,245.4 L204.5,245.5 L206.2,245.7 L208.0,245.8 L209.7,245.9 L211.4,246.1 L213.0,246.2 L214.5,246.4 L216.0,246.5 L217.4,246.7 L218.8,246.9 L220.1,247.0 L221.4,247.2 L222.8,247.4 L224.1,247.6 L225.4,247.8 L226.8,247.9 L228.2,248.1 L229.7,248.3 L231.2,248.5 L232.7,248.6 L234.3,248.8 L235.9,249.0 L237.5,249.1 L239.1,249.3 L240.7,249.5 L242.3,249.6 L244.0,249.8 L245.6,250.0 L247.2,250.1 L248.8,250.3" fill="none" stroke="#1f77b4" stroke-width="1.5" stroke-linecap="butt"/>
<path d="M175.3,75.0L180.5,69.8M175.3,75.0L168.3,73.8M175.3,75.0L176.5,82.0" fill="none" stroke="#008000" stroke-width="2"/>
<path d="M227.5,157.0L234.5,154.5M227.5,157.0L221.7,153.0M227.5,157.0L225.6,163.8" fill="none" stroke="#ff0000" stroke-width="2"/>
<path d="M248.8,250.3L256.2,250.3M248.8,250.3L244.7,244.5M248.8,250.3L244.7,256.1" fill="none" stroke="#1f77b4" stroke-width="2"/>
</g>
<g clip-path="url(#ax)">
<g transform="translate(106,132.3) rotate(30)"><rect x="-10.2" y="-4.6" width="20.4" height="9.2" fill="#fff" opacity="0"/><text x="0" y="3.7" text-anchor="middle" font-size="10.2" fill="#000" style="stroke:#000;stroke-width:0.25px" textLength="15.9" lengthAdjust="spacingAndGlyphs">0.9</text></g>
<g transform="translate(82,141.7) rotate(28)"><rect x="-10.2" y="-4.6" width="20.4" height="9.2" fill="#fff" opacity="0"/><text x="0" y="3.7" text-anchor="middle" font-size="10.2" fill="#000" style="stroke:#000;stroke-width:0.25px" textLength="15.9" lengthAdjust="spacingAndGlyphs">0.8</text></g>
<g transform="translate(56.5,149.7) rotate(25)"><rect x="-10.2" y="-4.6" width="20.4" height="9.2" fill="#fff" opacity="0"/><text x="0" y="3.7" text-anchor="middle" font-size="10.2" fill="#000" style="stroke:#000;stroke-width:0.25px" textLength="15.9" lengthAdjust="spacingAndGlyphs">0.7</text></g>
<g transform="translate(76.5,190.8) rotate(42)"><rect x="-10.2" y="-4.6" width="20.4" height="9.2" fill="#fff" opacity="0"/><text x="0" y="3.7" text-anchor="middle" font-size="10.2" fill="#000" style="stroke:#000;stroke-width:0.25px" textLength="15.9" lengthAdjust="spacingAndGlyphs">0.6</text></g>
<g transform="translate(54,195.8) rotate(32)"><rect x="-10.2" y="-4.6" width="20.4" height="9.2" fill="#fff" opacity="0"/><text x="0" y="3.7" text-anchor="middle" font-size="10.2" fill="#000" style="stroke:#000;stroke-width:0.25px" textLength="15.9" lengthAdjust="spacingAndGlyphs">0.5</text></g>
<g transform="translate(50.9,226.2) rotate(30)"><rect x="-10.2" y="-4.6" width="20.4" height="9.2" fill="#fff" opacity="0"/><text x="0" y="3.7" text-anchor="middle" font-size="10.2" fill="#000" style="stroke:#000;stroke-width:0.25px" textLength="15.9" lengthAdjust="spacingAndGlyphs">0.4</text></g>
<g transform="translate(156.8,63.9) rotate(90)"><rect x="-7.1" y="-4.6" width="14.2" height="9.2" fill="#fff" opacity="0"/><text x="0" y="3.7" text-anchor="middle" font-size="10.2" fill="#484848" style="stroke:#484848;stroke-width:0.25px" textLength="12.6" lengthAdjust="spacingAndGlyphs">35</text></g>
<g transform="translate(64,69.0) rotate(21)"><rect x="-7.1" y="-4.6" width="14.2" height="9.2" fill="#fff" opacity="0"/><text x="0" y="3.7" text-anchor="middle" font-size="10.2" fill="#484848" style="stroke:#484848;stroke-width:0.25px" textLength="12.6" lengthAdjust="spacingAndGlyphs">45</text></g>
<g transform="translate(137.8,143.9) rotate(50)"><rect x="-7.1" y="-4.6" width="14.2" height="9.2" fill="#fff" opacity="0"/><text x="0" y="3.7" text-anchor="middle" font-size="10.2" fill="#484848" style="stroke:#484848;stroke-width:0.25px" textLength="12.6" lengthAdjust="spacingAndGlyphs">55</text></g>
<g transform="translate(74.2,103.3) rotate(28)"><rect x="-7.1" y="-4.6" width="14.2" height="9.2" fill="#fff" opacity="0"/><text x="0" y="3.7" text-anchor="middle" font-size="10.2" fill="#484848" style="stroke:#484848;stroke-width:0.25px" textLength="12.6" lengthAdjust="spacingAndGlyphs">60</text></g>
<g transform="translate(65.7,185) rotate(60)"><rect x="-7.1" y="-4.6" width="14.2" height="9.2" fill="#fff" opacity="0"/><text x="0" y="3.7" text-anchor="middle" font-size="10.2" fill="#484848" style="stroke:#484848;stroke-width:0.25px" textLength="12.6" lengthAdjust="spacingAndGlyphs">65</text></g>
<g transform="translate(49.6,216.0) rotate(62)"><rect x="-7.1" y="-4.6" width="14.2" height="9.2" fill="#fff" opacity="0"/><text x="0" y="3.7" text-anchor="middle" font-size="10.2" fill="#484848" style="stroke:#484848;stroke-width:0.25px" textLength="12.6" lengthAdjust="spacingAndGlyphs">70</text></g>
</g>
<text x="176.0" y="64.4" font-size="14.6" fill="#008000" style="stroke:#008000;stroke-width:0.35px" textLength="10.6" lengthAdjust="spacingAndGlyphs">C</text>
<text x="188.0" y="65.9" font-size="8.0" font-weight="bold" fill="#008000" style="stroke:#008000;stroke-width:0.15px" textLength="13.4" lengthAdjust="spacingAndGlyphs">45°</text>
<text x="229.6" y="147.1" font-size="14.6" fill="#ff0000" style="stroke:#ff0000;stroke-width:0.35px" textLength="9.2" lengthAdjust="spacingAndGlyphs">B</text>
<text x="239.7" y="148.7" font-size="8.0" font-weight="bold" fill="#ff0000" style="stroke:#ff0000;stroke-width:0.15px" textLength="21.3" lengthAdjust="spacingAndGlyphs">22.5°</text>
<text x="242.0" y="239.6" font-size="14.6" fill="#1f77b4" style="stroke:#1f77b4;stroke-width:0.35px" textLength="10.6" lengthAdjust="spacingAndGlyphs">A</text>
<text x="253.6" y="242.9" font-size="8.0" font-weight="bold" fill="#1f77b4" style="stroke:#1f77b4;stroke-width:0.15px" textLength="8.5" lengthAdjust="spacingAndGlyphs">0°</text>
<rect x="44.7" y="7.0" width="223.8" height="263.9" fill="none" stroke="#000" stroke-width="1.5"/>
<path d="M45.0,270.9v-5.4M45.0,7.0v5.4" stroke="#000" stroke-width="1.3"/><path d="M53.1,270.9v-3.1M53.1,7.0v3.1" stroke="#000" stroke-width="1.2"/><path d="M61.3,270.9v-3.1M61.3,7.0v3.1" stroke="#000" stroke-width="1.2"/><path d="M69.4,270.9v-3.1M69.4,7.0v3.1" stroke="#000" stroke-width="1.2"/><path d="M77.5,270.9v-3.1M77.5,7.0v3.1" stroke="#000" stroke-width="1.2"/><path d="M85.7,270.9v-5.4M85.7,7.0v5.4" stroke="#000" stroke-width="1.3"/><path d="M93.8,270.9v-3.1M93.8,7.0v3.1" stroke="#000" stroke-width="1.2"/><path d="M101.9,270.9v-3.1M101.9,7.0v3.1" stroke="#000" stroke-width="1.2"/><path d="M110.0,270.9v-3.1M110.0,7.0v3.1" stroke="#000" stroke-width="1.2"/><path d="M118.2,270.9v-3.1M118.2,7.0v3.1" stroke="#000" stroke-width="1.2"/><path d="M126.3,270.9v-5.4M126.3,7.0v5.4" stroke="#000" stroke-width="1.3"/><path d="M134.4,270.9v-3.1M134.4,7.0v3.1" stroke="#000" stroke-width="1.2"/><path d="M142.6,270.9v-3.1M142.6,7.0v3.1" stroke="#000" stroke-width="1.2"/><path d="M150.7,270.9v-3.1M150.7,7.0v3.1" stroke="#000" stroke-width="1.2"/><path d="M158.8,270.9v-3.1M158.8,7.0v3.1" stroke="#000" stroke-width="1.2"/><path d="M167.0,270.9v-5.4M167.0,7.0v5.4" stroke="#000" stroke-width="1.3"/><path d="M175.1,270.9v-3.1M175.1,7.0v3.1" stroke="#000" stroke-width="1.2"/><path d="M183.2,270.9v-3.1M183.2,7.0v3.1" stroke="#000" stroke-width="1.2"/><path d="M191.3,270.9v-3.1M191.3,7.0v3.1" stroke="#000" stroke-width="1.2"/><path d="M199.5,270.9v-3.1M199.5,7.0v3.1" stroke="#000" stroke-width="1.2"/><path d="M207.6,270.9v-5.4M207.6,7.0v5.4" stroke="#000" stroke-width="1.3"/><path d="M215.7,270.9v-3.1M215.7,7.0v3.1" stroke="#000" stroke-width="1.2"/><path d="M223.9,270.9v-3.1M223.9,7.0v3.1" stroke="#000" stroke-width="1.2"/><path d="M232.0,270.9v-3.1M232.0,7.0v3.1" stroke="#000" stroke-width="1.2"/><path d="M240.1,270.9v-3.1M240.1,7.0v3.1" stroke="#000" stroke-width="1.2"/><path d="M248.2,270.9v-5.4M248.2,7.0v5.4" stroke="#000" stroke-width="1.3"/><path d="M256.4,270.9v-3.1M256.4,7.0v3.1" stroke="#000" stroke-width="1.2"/><path d="M264.5,270.9v-3.1M264.5,7.0v3.1" stroke="#000" stroke-width="1.2"/><path d="M44.7,267.2h3.1M268.5,267.2h-3.1" stroke="#000" stroke-width="1.2"/><path d="M44.7,259.0h3.1M268.5,259.0h-3.1" stroke="#000" stroke-width="1.2"/><path d="M44.7,250.9h5.4M268.5,250.9h-5.4" stroke="#000" stroke-width="1.3"/><path d="M44.7,242.8h3.1M268.5,242.8h-3.1" stroke="#000" stroke-width="1.2"/><path d="M44.7,234.6h3.1M268.5,234.6h-3.1" stroke="#000" stroke-width="1.2"/><path d="M44.7,226.5h3.1M268.5,226.5h-3.1" stroke="#000" stroke-width="1.2"/><path d="M44.7,218.4h3.1M268.5,218.4h-3.1" stroke="#000" stroke-width="1.2"/><path d="M44.7,210.2h5.4M268.5,210.2h-5.4" stroke="#000" stroke-width="1.3"/><path d="M44.7,202.1h3.1M268.5,202.1h-3.1" stroke="#000" stroke-width="1.2"/><path d="M44.7,194.0h3.1M268.5,194.0h-3.1" stroke="#000" stroke-width="1.2"/><path d="M44.7,185.9h3.1M268.5,185.9h-3.1" stroke="#000" stroke-width="1.2"/><path d="M44.7,177.7h3.1M268.5,177.7h-3.1" stroke="#000" stroke-width="1.2"/><path d="M44.7,169.6h5.4M268.5,169.6h-5.4" stroke="#000" stroke-width="1.3"/><path d="M44.7,161.5h3.1M268.5,161.5h-3.1" stroke="#000" stroke-width="1.2"/><path d="M44.7,153.3h3.1M268.5,153.3h-3.1" stroke="#000" stroke-width="1.2"/><path d="M44.7,145.2h3.1M268.5,145.2h-3.1" stroke="#000" stroke-width="1.2"/><path d="M44.7,137.1h3.1M268.5,137.1h-3.1" stroke="#000" stroke-width="1.2"/><path d="M44.7,128.9h5.4M268.5,128.9h-5.4" stroke="#000" stroke-width="1.3"/><path d="M44.7,120.8h3.1M268.5,120.8h-3.1" stroke="#000" stroke-width="1.2"/><path d="M44.7,112.7h3.1M268.5,112.7h-3.1" stroke="#000" stroke-width="1.2"/><path d="M44.7,104.6h3.1M268.5,104.6h-3.1" stroke="#000" stroke-width="1.2"/><path d="M44.7,96.4h3.1M268.5,96.4h-3.1" stroke="#000" stroke-width="1.2"/><path d="M44.7,88.3h5.4M268.5,88.3h-5.4" stroke="#000" stroke-width="1.3"/><path d="M44.7,80.2h3.1M268.5,80.2h-3.1" stroke="#000" stroke-width="1.2"/><path d="M44.7,72.0h3.1M268.5,72.0h-3.1" stroke="#000" stroke-width="1.2"/><path d="M44.7,63.9h3.1M268.5,63.9h-3.1" stroke="#000" stroke-width="1.2"/><path d="M44.7,55.8h3.1M268.5,55.8h-3.1" stroke="#000" stroke-width="1.2"/><path d="M44.7,47.6h5.4M268.5,47.6h-5.4" stroke="#000" stroke-width="1.3"/><path d="M44.7,39.5h3.1M268.5,39.5h-3.1" stroke="#000" stroke-width="1.2"/><path d="M44.7,31.4h3.1M268.5,31.4h-3.1" stroke="#000" stroke-width="1.2"/><path d="M44.7,23.3h3.1M268.5,23.3h-3.1" stroke="#000" stroke-width="1.2"/><path d="M44.7,15.1h3.1M268.5,15.1h-3.1" stroke="#000" stroke-width="1.2"/><path d="M44.7,7.0h5.4M268.5,7.0h-5.4" stroke="#000" stroke-width="1.3"/>
<text x="45.0" y="286" font-size="12.2" text-anchor="middle" textLength="19.4" lengthAdjust="spacingAndGlyphs">1.8</text>
<text x="85.7" y="286" font-size="12.2" text-anchor="middle" textLength="19.4" lengthAdjust="spacingAndGlyphs">1.9</text>
<text x="126.3" y="286" font-size="12.2" text-anchor="middle" textLength="19.4" lengthAdjust="spacingAndGlyphs">2.0</text>
<text x="167.0" y="286" font-size="12.2" text-anchor="middle" textLength="19.4" lengthAdjust="spacingAndGlyphs">2.1</text>
<text x="207.6" y="286" font-size="12.2" text-anchor="middle" textLength="19.4" lengthAdjust="spacingAndGlyphs">2.2</text>
<text x="248.2" y="286" font-size="12.2" text-anchor="middle" textLength="19.4" lengthAdjust="spacingAndGlyphs">2.3</text>
<text x="39.0" y="255.3" font-size="12.2" text-anchor="end" textLength="19.4" lengthAdjust="spacingAndGlyphs">0.0</text>
<text x="39.0" y="214.7" font-size="12.2" text-anchor="end" textLength="19.4" lengthAdjust="spacingAndGlyphs">0.1</text>
<text x="39.0" y="174.0" font-size="12.2" text-anchor="end" textLength="19.4" lengthAdjust="spacingAndGlyphs">0.2</text>
<text x="39.0" y="133.3" font-size="12.2" text-anchor="end" textLength="19.4" lengthAdjust="spacingAndGlyphs">0.3</text>
<text x="39.0" y="92.7" font-size="12.2" text-anchor="end" textLength="19.4" lengthAdjust="spacingAndGlyphs">0.4</text>
<text x="39.0" y="52.0" font-size="12.2" text-anchor="end" textLength="19.4" lengthAdjust="spacingAndGlyphs">0.5</text>
<text x="39.0" y="11.4" font-size="12.2" text-anchor="end" textLength="19.4" lengthAdjust="spacingAndGlyphs">0.6</text>
<text x="156.5" y="303.7" font-size="12.2" text-anchor="middle" textLength="34.4" lengthAdjust="spacingAndGlyphs">R (m)</text>
<text transform="translate(11.2,139.2) rotate(-90)" font-size="12.2" text-anchor="middle" textLength="32" lengthAdjust="spacingAndGlyphs">z (m)</text>
<rect x="48.2" y="10.8" width="86.6" height="56" rx="2.2" fill="#fff" fill-opacity="0.78" stroke="#ccc" stroke-width="1"/>
<path d="M52.3,18.7H70.7" fill="none" stroke="#000" stroke-width="1.4" stroke-dasharray="4.6 1.8"/>
<path d="M52.3,32.8H70.7" fill="none" stroke="#454545" stroke-width="1.3" stroke-dasharray="1.3 1.85"/>
<path d="M60.7,46.7L67.2,46.7M60.7,46.7L57.1,41.6M60.7,46.7L57.1,51.8" fill="none" stroke="#000" stroke-width="2"/>
<path d="M55.6,58.82H60.800000000000004L58.2,64.02Z" fill="none" stroke="#008000" stroke-width="1.5" stroke-linejoin="miter"/>
<path d="M61.99999999999999,56.32H67.19999999999999L64.6,61.519999999999996Z" fill="none" stroke="#ff0000" stroke-width="1.5" stroke-linejoin="miter"/>
<path d="M68.60000000000001,59.120000000000005H73.8L71.2,64.32000000000001Z" fill="none" stroke="#1f77b4" stroke-width="1.5" stroke-linejoin="miter"/>
<text x="78.7" y="21.7" font-size="10.2" font-style="italic">ρ<tspan font-size="7.2" dy="1.5">pol</tspan></text>
<text x="78.7" y="35.8" font-size="10.2" font-style="italic">f</text><text x="82.6" y="37.4" font-size="7.2" font-style="italic" textLength="15" lengthAdjust="spacingAndGlyphs">co,X</text><text x="100.6" y="35.8" font-size="10.2" textLength="25.6" lengthAdjust="spacingAndGlyphs">(GHz)</text>
<text x="78.7" y="49.7" font-size="10.2" textLength="36.7" lengthAdjust="spacingAndGlyphs">antenna</text>
<text x="78.7" y="63.7" font-size="10.2" textLength="49.5" lengthAdjust="spacingAndGlyphs">turn points</text>
<rect x="273.6" y="6.6" width="12.0" height="264.2" fill="url(#cb)" stroke="#000" stroke-width="1.2"/>
<path d="M285.6,269.1h-3.1" stroke="#000" stroke-width="1.2"/><path d="M285.6,261.8h-3.1" stroke="#000" stroke-width="1.2"/><path d="M285.6,254.6h-3.1" stroke="#000" stroke-width="1.2"/><path d="M285.6,247.4h-5.4" stroke="#000" stroke-width="1.3"/><path d="M285.6,240.2h-3.1" stroke="#000" stroke-width="1.2"/><path d="M285.6,233.0h-3.1" stroke="#000" stroke-width="1.2"/><path d="M285.6,225.7h-3.1" stroke="#000" stroke-width="1.2"/><path d="M285.6,218.5h-3.1" stroke="#000" stroke-width="1.2"/><path d="M285.6,211.3h-5.4" stroke="#000" stroke-width="1.3"/><path d="M285.6,204.1h-3.1" stroke="#000" stroke-width="1.2"/><path d="M285.6,196.9h-3.1" stroke="#000" stroke-width="1.2"/><path d="M285.6,189.6h-3.1" stroke="#000" stroke-width="1.2"/><path d="M285.6,182.4h-3.1" stroke="#000" stroke-width="1.2"/><path d="M285.6,175.2h-5.4" stroke="#000" stroke-width="1.3"/><path d="M285.6,168.0h-3.1" stroke="#000" stroke-width="1.2"/><path d="M285.6,160.8h-3.1" stroke="#000" stroke-width="1.2"/><path d="M285.6,153.5h-3.1" stroke="#000" stroke-width="1.2"/><path d="M285.6,146.3h-3.1" stroke="#000" stroke-width="1.2"/><path d="M285.6,139.1h-5.4" stroke="#000" stroke-width="1.3"/><path d="M285.6,131.9h-3.1" stroke="#000" stroke-width="1.2"/><path d="M285.6,124.7h-3.1" stroke="#000" stroke-width="1.2"/><path d="M285.6,117.4h-3.1" stroke="#000" stroke-width="1.2"/><path d="M285.6,110.2h-3.1" stroke="#000" stroke-width="1.2"/><path d="M285.6,103.0h-5.4" stroke="#000" stroke-width="1.3"/><path d="M285.6,95.8h-3.1" stroke="#000" stroke-width="1.2"/><path d="M285.6,88.6h-3.1" stroke="#000" stroke-width="1.2"/><path d="M285.6,81.3h-3.1" stroke="#000" stroke-width="1.2"/><path d="M285.6,74.1h-3.1" stroke="#000" stroke-width="1.2"/><path d="M285.6,66.9h-5.4" stroke="#000" stroke-width="1.3"/><path d="M285.6,59.7h-3.1" stroke="#000" stroke-width="1.2"/><path d="M285.6,52.5h-3.1" stroke="#000" stroke-width="1.2"/><path d="M285.6,45.2h-3.1" stroke="#000" stroke-width="1.2"/><path d="M285.6,38.0h-3.1" stroke="#000" stroke-width="1.2"/><path d="M285.6,30.8h-5.4" stroke="#000" stroke-width="1.3"/><path d="M285.6,23.6h-3.1" stroke="#000" stroke-width="1.2"/><path d="M285.6,16.4h-3.1" stroke="#000" stroke-width="1.2"/><path d="M285.6,9.1h-3.1" stroke="#000" stroke-width="1.2"/>
<text x="290.8" y="35.2" font-size="12.2" textLength="19.4" lengthAdjust="spacingAndGlyphs">1.5</text>
<text x="290.8" y="71.3" font-size="12.2" textLength="19.4" lengthAdjust="spacingAndGlyphs">1.0</text>
<text x="290.8" y="107.4" font-size="12.2" textLength="19.4" lengthAdjust="spacingAndGlyphs">0.5</text>
<text x="290.8" y="143.5" font-size="12.2" textLength="19.4" lengthAdjust="spacingAndGlyphs">0.0</text>
<text x="290.8" y="179.6" font-size="12.2" textLength="29.2" lengthAdjust="spacingAndGlyphs">−0.5</text>
<text x="290.8" y="215.7" font-size="12.2" textLength="29.2" lengthAdjust="spacingAndGlyphs">−1.0</text>
<text x="290.8" y="251.8" font-size="12.2" textLength="29.2" lengthAdjust="spacingAndGlyphs">−1.5</text>
<text transform="translate(337.2,139.2) rotate(-90)" font-size="12.2" text-anchor="middle" textLength="89" lengthAdjust="spacingAndGlyphs"><tspan font-style="italic">δn</tspan><tspan font-size="8.5" dy="2.8" font-style="italic">e</tspan><tspan dy="-2.8"> (10</tspan><tspan font-size="8.5" dy="-4.6">17</tspan><tspan dy="4.6"> m</tspan><tspan font-size="8.5" dy="-4.6">−3</tspan><tspan dy="4.6">)</tspan></text>
</svg></body></html>
